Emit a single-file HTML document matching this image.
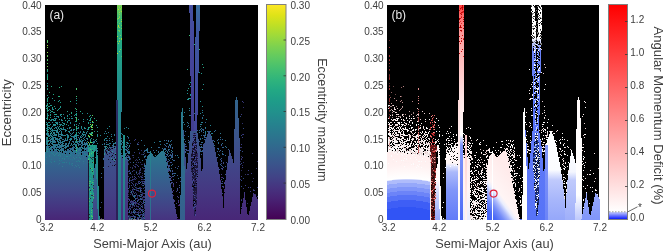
<!DOCTYPE html><html><head><meta charset="utf-8"><style>html,body{margin:0;padding:0;background:#fff;width:665px;height:252px;overflow:hidden}</style></head><body><svg width="665" height="252" viewBox="0 0 665 252" style="display:block;will-change:transform;font-family:'Liberation Sans',sans-serif"><defs><linearGradient id="ga_left" gradientUnits="userSpaceOnUse" x1="0.00" y1="0" x2="0.00" y2="252.00"><stop offset="0.0198" stop-color="#cde120"/><stop offset="0.1587" stop-color="#75cf54"/><stop offset="0.3175" stop-color="#2cb17e"/><stop offset="0.4365" stop-color="#20968b"/><stop offset="0.5159" stop-color="#25848e"/><stop offset="0.5952" stop-color="#2d718e"/><stop offset="0.6349" stop-color="#31688e"/><stop offset="0.6746" stop-color="#355e8d"/><stop offset="0.7143" stop-color="#3a548b"/><stop offset="0.7540" stop-color="#3f4a89"/><stop offset="0.7937" stop-color="#433e85"/><stop offset="0.8333" stop-color="#46327f"/><stop offset="0.8690" stop-color="#482777"/></linearGradient><linearGradient id="ga_s40" gradientUnits="userSpaceOnUse" x1="0.00" y1="0" x2="0.00" y2="252.00"><stop offset="0.5952" stop-color="#1e9c89"/><stop offset="0.8690" stop-color="#21918c"/></linearGradient><linearGradient id="ga_r3" gradientUnits="userSpaceOnUse" x1="0.00" y1="0" x2="0.00" y2="252.00"><stop offset="0.0198" stop-color="#f3e621"/><stop offset="0.1587" stop-color="#9bd93c"/><stop offset="0.3175" stop-color="#43bf70"/><stop offset="0.4365" stop-color="#21a486"/><stop offset="0.5159" stop-color="#21938c"/><stop offset="0.5952" stop-color="#27808e"/><stop offset="0.6349" stop-color="#2b778e"/><stop offset="0.6746" stop-color="#2e6d8e"/><stop offset="0.7143" stop-color="#33648d"/><stop offset="0.7540" stop-color="#375a8c"/><stop offset="0.7937" stop-color="#3c508a"/><stop offset="0.8333" stop-color="#404587"/><stop offset="0.8690" stop-color="#443a83"/></linearGradient><linearGradient id="ga_l99" gradientUnits="userSpaceOnUse" x1="0.00" y1="0" x2="0.00" y2="252.00"><stop offset="0.5952" stop-color="#21918c"/><stop offset="0.8690" stop-color="#25848e"/></linearGradient><linearGradient id="ga_r4" gradientUnits="userSpaceOnUse" x1="0.00" y1="0" x2="0.00" y2="252.00"><stop offset="0.0198" stop-color="#1f978a"/><stop offset="0.2381" stop-color="#277e8e"/><stop offset="0.3968" stop-color="#2f6d8e"/><stop offset="0.5159" stop-color="#355f8d"/><stop offset="0.5952" stop-color="#39568c"/><stop offset="0.6746" stop-color="#3e4c89"/><stop offset="0.7540" stop-color="#424286"/><stop offset="0.8333" stop-color="#453681"/><stop offset="0.8690" stop-color="#46317e"/></linearGradient><linearGradient id="ga_s1" gradientUnits="userSpaceOnUse" x1="0.00" y1="0" x2="0.00" y2="252.00"><stop offset="0.0198" stop-color="#7ad151"/><stop offset="0.0794" stop-color="#33b67a"/><stop offset="0.1786" stop-color="#22a884"/><stop offset="0.3175" stop-color="#21918c"/><stop offset="0.4365" stop-color="#25848e"/><stop offset="0.5952" stop-color="#26828e"/><stop offset="0.8690" stop-color="#2a788e"/></linearGradient><linearGradient id="ga_r5" gradientUnits="userSpaceOnUse" x1="0.00" y1="0" x2="0.00" y2="252.00"><stop offset="0.0198" stop-color="#20948b"/><stop offset="0.2381" stop-color="#287c8e"/><stop offset="0.3968" stop-color="#306a8e"/><stop offset="0.5159" stop-color="#365c8d"/><stop offset="0.5952" stop-color="#3a538b"/><stop offset="0.6746" stop-color="#3f4988"/><stop offset="0.7540" stop-color="#433e85"/><stop offset="0.8333" stop-color="#46337f"/><stop offset="0.8690" stop-color="#472e7c"/></linearGradient><linearGradient id="ga_r6" gradientUnits="userSpaceOnUse" x1="0.00" y1="0" x2="0.00" y2="252.00"><stop offset="0.0198" stop-color="#e7e41b"/><stop offset="0.1587" stop-color="#8ed644"/><stop offset="0.3175" stop-color="#3bba75"/><stop offset="0.4365" stop-color="#1f9f88"/><stop offset="0.5159" stop-color="#228e8c"/><stop offset="0.5952" stop-color="#297b8e"/><stop offset="0.6349" stop-color="#2d728e"/><stop offset="0.6746" stop-color="#31688e"/><stop offset="0.7143" stop-color="#355f8d"/><stop offset="0.7540" stop-color="#3a558b"/><stop offset="0.7937" stop-color="#3e4a89"/><stop offset="0.8333" stop-color="#433f85"/><stop offset="0.8690" stop-color="#463480"/></linearGradient><linearGradient id="ga_r7" gradientUnits="userSpaceOnUse" x1="0.00" y1="0" x2="0.00" y2="252.00"><stop offset="0.0198" stop-color="#21908c"/><stop offset="0.2381" stop-color="#2a778e"/><stop offset="0.3968" stop-color="#32658d"/><stop offset="0.5159" stop-color="#39578c"/><stop offset="0.5952" stop-color="#3d4e8a"/><stop offset="0.6746" stop-color="#414387"/><stop offset="0.7540" stop-color="#453882"/><stop offset="0.8333" stop-color="#472c7b"/><stop offset="0.8690" stop-color="#482777"/></linearGradient><linearGradient id="ga_r7b" gradientUnits="userSpaceOnUse" x1="0.00" y1="0" x2="0.00" y2="252.00"><stop offset="0.0198" stop-color="#20948b"/><stop offset="0.2381" stop-color="#287c8e"/><stop offset="0.3968" stop-color="#306a8e"/><stop offset="0.5159" stop-color="#365c8d"/><stop offset="0.5952" stop-color="#3a538b"/><stop offset="0.6746" stop-color="#3f4988"/><stop offset="0.7540" stop-color="#433e85"/><stop offset="0.8333" stop-color="#46337f"/><stop offset="0.8690" stop-color="#472e7c"/></linearGradient><linearGradient id="ga_r7v" gradientUnits="userSpaceOnUse" x1="0.00" y1="0" x2="0.00" y2="252.00"><stop offset="0.5357" stop-color="#141028"/><stop offset="0.7540" stop-color="#1c1638"/><stop offset="0.8690" stop-color="#2a2058"/></linearGradient><linearGradient id="ga_r8" gradientUnits="userSpaceOnUse" x1="0.00" y1="0" x2="0.00" y2="252.00"><stop offset="0.0198" stop-color="#21908c"/><stop offset="0.2381" stop-color="#2a778e"/><stop offset="0.3968" stop-color="#32658d"/><stop offset="0.5159" stop-color="#39578c"/><stop offset="0.5952" stop-color="#3d4e8a"/><stop offset="0.6746" stop-color="#414387"/><stop offset="0.7540" stop-color="#453882"/><stop offset="0.8333" stop-color="#472c7b"/><stop offset="0.8690" stop-color="#482777"/></linearGradient><linearGradient id="ga_r8l" gradientUnits="userSpaceOnUse" x1="0.00" y1="0" x2="0.00" y2="252.00"><stop offset="0.0198" stop-color="#21908c"/><stop offset="0.2381" stop-color="#2a778e"/><stop offset="0.3968" stop-color="#32658d"/><stop offset="0.5159" stop-color="#39578c"/><stop offset="0.5952" stop-color="#3d4e8a"/><stop offset="0.6746" stop-color="#414387"/><stop offset="0.7540" stop-color="#453882"/><stop offset="0.8333" stop-color="#472c7b"/><stop offset="0.8690" stop-color="#482777"/></linearGradient><linearGradient id="ga_r9" gradientUnits="userSpaceOnUse" x1="0.00" y1="0" x2="0.00" y2="252.00"><stop offset="0.0198" stop-color="#21908c"/><stop offset="0.2381" stop-color="#2a778e"/><stop offset="0.3968" stop-color="#32658d"/><stop offset="0.5159" stop-color="#39578c"/><stop offset="0.5952" stop-color="#3d4e8a"/><stop offset="0.6746" stop-color="#414387"/><stop offset="0.7540" stop-color="#453882"/><stop offset="0.8333" stop-color="#472c7b"/><stop offset="0.8690" stop-color="#482777"/></linearGradient><linearGradient id="ga_s2" gradientUnits="userSpaceOnUse" x1="0.00" y1="0" x2="0.00" y2="252.00"><stop offset="0.0198" stop-color="#21908c"/><stop offset="0.2381" stop-color="#2a778e"/><stop offset="0.3968" stop-color="#32658d"/><stop offset="0.5159" stop-color="#39578c"/><stop offset="0.5952" stop-color="#3d4e8a"/><stop offset="0.6746" stop-color="#414387"/><stop offset="0.7540" stop-color="#453882"/><stop offset="0.8333" stop-color="#472c7b"/><stop offset="0.8690" stop-color="#482777"/></linearGradient><linearGradient id="ga_spA" gradientUnits="userSpaceOnUse" x1="0.00" y1="0" x2="0.00" y2="252.00"><stop offset="0.0198" stop-color="#21908c"/><stop offset="0.2381" stop-color="#2a778e"/><stop offset="0.3968" stop-color="#32658d"/><stop offset="0.5159" stop-color="#39578c"/><stop offset="0.5952" stop-color="#3d4e8a"/><stop offset="0.6746" stop-color="#414387"/><stop offset="0.7540" stop-color="#453882"/><stop offset="0.8333" stop-color="#472c7b"/><stop offset="0.8690" stop-color="#482777"/></linearGradient><linearGradient id="ga_spB" gradientUnits="userSpaceOnUse" x1="0.00" y1="0" x2="0.00" y2="252.00"><stop offset="0.0198" stop-color="#21908c"/><stop offset="0.2381" stop-color="#2a778e"/><stop offset="0.3968" stop-color="#32658d"/><stop offset="0.5159" stop-color="#39578c"/><stop offset="0.5952" stop-color="#3d4e8a"/><stop offset="0.6746" stop-color="#414387"/><stop offset="0.7540" stop-color="#453882"/><stop offset="0.8333" stop-color="#472c7b"/><stop offset="0.8690" stop-color="#482777"/></linearGradient><linearGradient id="ga_st1" gradientUnits="userSpaceOnUse" x1="0.00" y1="0" x2="0.00" y2="252.00"><stop offset="0.0198" stop-color="#4650a0"/><stop offset="0.2381" stop-color="#44449a"/><stop offset="0.5198" stop-color="#433e90"/></linearGradient><linearGradient id="ga_st2" gradientUnits="userSpaceOnUse" x1="0.00" y1="0" x2="0.00" y2="252.00"><stop offset="0.0198" stop-color="#3a70a0"/><stop offset="0.1190" stop-color="#3e58a0"/><stop offset="0.5198" stop-color="#43449a"/></linearGradient><linearGradient id="ga_d88" gradientUnits="userSpaceOnUse" x1="0.00" y1="0" x2="0.00" y2="252.00"><stop offset="0.6032" stop-color="#1a1530"/><stop offset="0.8690" stop-color="#1a1030"/></linearGradient><linearGradient id="ga_s1l" gradientUnits="userSpaceOnUse" x1="0.00" y1="0" x2="0.00" y2="252.00"><stop offset="0.3968" stop-color="#2a3068"/><stop offset="0.5952" stop-color="#2a2458"/><stop offset="0.8690" stop-color="#2c2058"/></linearGradient><linearGradient id="ga_l124" gradientUnits="userSpaceOnUse" x1="0.00" y1="0" x2="0.00" y2="252.00"><stop offset="0.5357" stop-color="#21918c"/><stop offset="0.8690" stop-color="#2a788e"/></linearGradient><linearGradient id="ga_l150" gradientUnits="userSpaceOnUse" x1="0.00" y1="0" x2="0.00" y2="252.00"><stop offset="0.5992" stop-color="#25848e"/><stop offset="0.8690" stop-color="#2f6c8e"/></linearGradient><linearGradient id="ga_l182" gradientUnits="userSpaceOnUse" x1="0.00" y1="0" x2="0.00" y2="252.00"><stop offset="0.4127" stop-color="#287d8e"/><stop offset="0.8690" stop-color="#355f8d"/></linearGradient><radialGradient id="gb_left" gradientUnits="userSpaceOnUse" cx="407.00" cy="290.00" r="170.00"><stop offset="0.0000" stop-color="#3154f5"/><stop offset="0.4412" stop-color="#3154f5"/><stop offset="0.4882" stop-color="#3154f5"/><stop offset="0.4882" stop-color="#3e5ef6"/><stop offset="0.5294" stop-color="#3e5ef6"/><stop offset="0.5294" stop-color="#5773f7"/><stop offset="0.5588" stop-color="#5773f7"/><stop offset="0.5588" stop-color="#6c84f8"/><stop offset="0.5823" stop-color="#6c84f8"/><stop offset="0.5824" stop-color="#8196f9"/><stop offset="0.6058" stop-color="#8196f9"/><stop offset="0.6059" stop-color="#96a8fa"/><stop offset="0.6294" stop-color="#96a8fa"/><stop offset="0.6294" stop-color="#afbcfb"/><stop offset="0.6499" stop-color="#afbcfb"/><stop offset="0.6500" stop-color="#cad3fc"/><stop offset="0.6559" stop-color="#ffffff"/><stop offset="0.7353" stop-color="#fff2f2"/><stop offset="0.8529" stop-color="#ffebeb"/><stop offset="1.0000" stop-color="#ffebeb"/></radialGradient><linearGradient id="gb_s40" gradientUnits="userSpaceOnUse" x1="0.00" y1="0" x2="0.00" y2="252.00"><stop offset="0.5952" stop-color="#501818"/><stop offset="0.8690" stop-color="#401010"/></linearGradient><linearGradient id="gb_r3" gradientUnits="userSpaceOnUse" x1="0.00" y1="0" x2="0.00" y2="252.00"><stop offset="0.5952" stop-color="#ffebeb"/><stop offset="0.7143" stop-color="#fffafa"/><stop offset="0.7738" stop-color="#cad3fc"/><stop offset="0.8690" stop-color="#96a8fa"/></linearGradient><linearGradient id="gb_l99" gradientUnits="userSpaceOnUse" x1="0.00" y1="0" x2="0.00" y2="252.00"><stop offset="0.5952" stop-color="#fffafa"/><stop offset="0.8690" stop-color="#ffffff"/></linearGradient><linearGradient id="gb_r4" gradientUnits="userSpaceOnUse" x1="0.00" y1="0" x2="0.00" y2="252.00"><stop offset="0.6468" stop-color="#fff7f7"/><stop offset="0.6587" stop-color="#e0e5fe"/><stop offset="0.6825" stop-color="#abb9fb"/><stop offset="0.7540" stop-color="#8196f9"/><stop offset="0.8690" stop-color="#627cf8"/></linearGradient><linearGradient id="gb_s1" gradientUnits="userSpaceOnUse" x1="0.00" y1="0" x2="0.00" y2="252.00"><stop offset="0.0198" stop-color="#ff4040"/><stop offset="0.0397" stop-color="#ff5252"/><stop offset="0.0714" stop-color="#ff7373"/><stop offset="0.1190" stop-color="#ff9494"/><stop offset="0.1984" stop-color="#ffb2b2"/><stop offset="0.2976" stop-color="#ffcccc"/><stop offset="0.3968" stop-color="#ffe6e6"/><stop offset="0.4960" stop-color="#fff5f5"/><stop offset="0.5357" stop-color="#ffffff"/><stop offset="0.5754" stop-color="#8196f9"/><stop offset="0.8690" stop-color="#4c6af6"/></linearGradient><linearGradient id="gb_r5" gradientUnits="userSpaceOnUse" x1="0.00" y1="0" x2="0.00" y2="252.00"><stop offset="0.5952" stop-color="#ffebeb"/><stop offset="0.7540" stop-color="#fff5f5"/><stop offset="0.8690" stop-color="#eaeefe"/></linearGradient><linearGradient id="gb_r6" gradientUnits="userSpaceOnUse" x1="492.00" y1="0" x2="371.47" y2="89.28"><stop offset="0.5952" stop-color="#ffebeb"/><stop offset="0.7262" stop-color="#fff5f5"/><stop offset="0.7500" stop-color="#eaeefe"/><stop offset="0.7778" stop-color="#abb9fb"/><stop offset="0.8095" stop-color="#768df8"/><stop offset="0.8492" stop-color="#4c6af6"/><stop offset="0.9127" stop-color="#3859f6"/></linearGradient><linearGradient id="gb_r7" gradientUnits="userSpaceOnUse" x1="0.00" y1="0" x2="0.00" y2="252.00"><stop offset="0.4683" stop-color="#627cf8"/><stop offset="0.8690" stop-color="#5773f7"/></linearGradient><linearGradient id="gb_r7b" gradientUnits="userSpaceOnUse" x1="0.00" y1="0" x2="0.00" y2="252.00"><stop offset="0.4683" stop-color="#627cf8"/><stop offset="0.8690" stop-color="#5773f7"/></linearGradient><linearGradient id="gb_r7v" gradientUnits="userSpaceOnUse" x1="0.00" y1="0" x2="0.00" y2="252.00"><stop offset="0.5357" stop-color="#182868"/><stop offset="0.8690" stop-color="#182868"/></linearGradient><linearGradient id="gb_r8" gradientUnits="userSpaceOnUse" x1="0.00" y1="0" x2="0.00" y2="252.00"><stop offset="0.5159" stop-color="#ffffff"/><stop offset="0.6746" stop-color="#fbfcff"/><stop offset="0.7143" stop-color="#c0cafc"/><stop offset="0.7937" stop-color="#a7b6fb"/><stop offset="0.8690" stop-color="#96a8fa"/></linearGradient><linearGradient id="gb_r8l" gradientUnits="userSpaceOnUse" x1="0.00" y1="0" x2="0.00" y2="252.00"><stop offset="0.5754" stop-color="#8196f9"/><stop offset="0.8690" stop-color="#6c84f8"/></linearGradient><linearGradient id="gb_r9" gradientUnits="userSpaceOnUse" x1="0.00" y1="0" x2="0.00" y2="252.00"><stop offset="0.5952" stop-color="#ffffff"/><stop offset="0.6825" stop-color="#f4f6fe"/><stop offset="0.7143" stop-color="#c0cafc"/><stop offset="0.8690" stop-color="#a0b0fa"/></linearGradient><linearGradient id="gb_s2" gradientUnits="userSpaceOnUse" x1="0.00" y1="0" x2="0.00" y2="252.00"><stop offset="0.3889" stop-color="#fffafa"/><stop offset="0.7738" stop-color="#ffffff"/><stop offset="0.8333" stop-color="#d5dcfd"/><stop offset="0.8690" stop-color="#c0cafc"/></linearGradient><linearGradient id="gb_spA" gradientUnits="userSpaceOnUse" x1="0.00" y1="0" x2="0.00" y2="252.00"><stop offset="0.7659" stop-color="#96a8fa"/><stop offset="0.8690" stop-color="#8196f9"/></linearGradient><linearGradient id="gb_spB" gradientUnits="userSpaceOnUse" x1="0.00" y1="0" x2="0.00" y2="252.00"><stop offset="0.7619" stop-color="#96a8fa"/><stop offset="0.8690" stop-color="#8196f9"/></linearGradient><linearGradient id="gb_st1" gradientUnits="userSpaceOnUse" x1="0.00" y1="0" x2="0.00" y2="252.00"><stop offset="0.0198" stop-color="#ffffff"/><stop offset="0.1508" stop-color="#ffffff"/><stop offset="0.1984" stop-color="#6c84f8"/><stop offset="0.4683" stop-color="#5773f7"/></linearGradient><linearGradient id="gb_st2" gradientUnits="userSpaceOnUse" x1="0.00" y1="0" x2="0.00" y2="252.00"><stop offset="0.0198" stop-color="#ffffff"/><stop offset="0.1508" stop-color="#ffffff"/><stop offset="0.1984" stop-color="#6c84f8"/><stop offset="0.4683" stop-color="#5773f7"/></linearGradient><linearGradient id="gb_d88" gradientUnits="userSpaceOnUse" x1="0.00" y1="0" x2="0.00" y2="252.00"><stop offset="0.6032" stop-color="#f0e8e8"/><stop offset="0.8690" stop-color="#f8f0f0"/></linearGradient><linearGradient id="gb_s1l" gradientUnits="userSpaceOnUse" x1="0.00" y1="0" x2="0.00" y2="252.00"><stop offset="0.3770" stop-color="#ffd9d9"/><stop offset="0.5952" stop-color="#fff2f2"/><stop offset="0.8690" stop-color="#ffffff"/></linearGradient><linearGradient id="gb_l124" gradientUnits="userSpaceOnUse" x1="0.00" y1="0" x2="0.00" y2="252.00"><stop offset="0.5357" stop-color="#ffcccc"/><stop offset="0.8690" stop-color="#fff2f2"/></linearGradient><linearGradient id="gb_l150" gradientUnits="userSpaceOnUse" x1="0.00" y1="0" x2="0.00" y2="252.00"><stop offset="0.5992" stop-color="#ffffff"/><stop offset="0.8690" stop-color="#ffffff"/></linearGradient><linearGradient id="gb_l182" gradientUnits="userSpaceOnUse" x1="0.00" y1="0" x2="0.00" y2="252.00"><stop offset="0.4127" stop-color="#ffffff"/><stop offset="0.8690" stop-color="#ffffff"/></linearGradient><linearGradient id="cbA" x1="0" y1="0" x2="0" y2="1"><stop offset="0.000" stop-color="#fde725"/><stop offset="0.050" stop-color="#dfe318"/><stop offset="0.100" stop-color="#bddf26"/><stop offset="0.150" stop-color="#9bd93c"/><stop offset="0.200" stop-color="#7ad151"/><stop offset="0.250" stop-color="#5ec962"/><stop offset="0.300" stop-color="#44bf70"/><stop offset="0.350" stop-color="#2fb47c"/><stop offset="0.400" stop-color="#22a884"/><stop offset="0.450" stop-color="#1e9c89"/><stop offset="0.500" stop-color="#21918c"/><stop offset="0.550" stop-color="#25848e"/><stop offset="0.600" stop-color="#2a788e"/><stop offset="0.650" stop-color="#2f6c8e"/><stop offset="0.700" stop-color="#355f8d"/><stop offset="0.750" stop-color="#3b528b"/><stop offset="0.800" stop-color="#414487"/><stop offset="0.850" stop-color="#463480"/><stop offset="0.900" stop-color="#482475"/><stop offset="0.950" stop-color="#471365"/><stop offset="1.000" stop-color="#440154"/></linearGradient><linearGradient id="cbB" gradientUnits="userSpaceOnUse" x1="0" y1="5" x2="0" y2="212"><stop offset="0" stop-color="#ff0000"/><stop offset="1" stop-color="#ffffff"/></linearGradient><linearGradient id="cbB2" gradientUnits="userSpaceOnUse" x1="0" y1="212" x2="0" y2="219.5"><stop offset="0" stop-color="#c8d0ff"/><stop offset="1" stop-color="#0010ff"/></linearGradient></defs><rect width="665" height="252" fill="#fff"/><rect x="45" y="5" width="213" height="214.5" fill="#000"/><path fill="url(#ga_left)" d="M45 152h1v68h-1zM46 152h1v68h-1zM47 152h1v68h-1zM48 152h1v68h-1zM49 152h1v68h-1zM50 152h1v68h-1zM51 152h1v68h-1zM52 152h1v68h-1zM53 153h1v67h-1zM54 153h1v67h-1zM55 153h1v67h-1zM56 153h1v67h-1zM57 153h1v67h-1zM58 153h1v67h-1zM59 153h1v67h-1zM60 153h1v67h-1zM61 153h1v67h-1zM62 153h1v67h-1zM63 153h1v67h-1zM64 154h1v66h-1zM65 154h1v66h-1zM66 154h1v66h-1zM67 154h1v66h-1zM68 154h1v66h-1zM69 154h1v66h-1zM70 154h1v66h-1zM71 155h1v65h-1zM72 155h1v65h-1zM73 155h1v65h-1zM74 155h1v65h-1zM75 155h1v65h-1zM76 155h1v65h-1zM77 156h1v64h-1zM78 156h1v64h-1zM79 156h1v64h-1zM80 156h1v64h-1zM81 156h1v64h-1zM82 157h1v63h-1zM83 157h1v63h-1zM84 157h1v63h-1zM85 157h1v63h-1zM86 158h1v62h-1zM87 158h1v62h-1z"/><path fill="url(#ga_s40)" d="M88 145h1v7h-1zM89 145h1v75h-1zM90 145h1v75h-1zM91 145h1v75h-1zM92 145h1v75h-1zM93 145h1v31h-1zM94 145h1v6h-1z"/><path fill="url(#ga_r3)" d="M93 176h1v44h-1zM94 168h1v52h-1zM95 164h1v56h-1zM96 179h1v41h-1zM97 209h1v11h-1z"/><path fill="url(#ga_l99)" d="M95 145h1v4h-1zM96 145h1v34h-1zM97 156h1v53h-1zM98 186h1v34h-1zM99 216h1v4h-1z"/><path fill="url(#ga_r4)" d="M104 152h1v68h-1zM105 151h1v69h-1zM106 150h1v70h-1zM107 150h1v70h-1zM108 149h1v71h-1zM109 148h1v72h-1zM110 148h1v72h-1zM111 147h1v73h-1zM112 147h1v73h-1zM113 147h1v73h-1zM114 146h1v74h-1zM115 146h1v74h-1z"/><path fill="url(#ga_s1)" d="M117 5h1v95h-1zM118 5h1v215h-1zM119 5h1v215h-1zM120 5h1v215h-1zM121 5h1v107h-1z"/><path fill="url(#ga_r5)" d="M121 158h1v62h-1zM122 158h1v62h-1zM125 159h1v61h-1zM126 160h1v60h-1zM127 160h1v60h-1z"/><path fill="url(#ga_r6)" d="M145 165h1v55h-1zM146 159h1v61h-1zM147 156h1v64h-1zM148 155h1v65h-1zM149 154h1v66h-1zM151 153h1v67h-1zM152 154h1v66h-1zM153 156h1v64h-1zM154 157h1v63h-1zM155 157h1v63h-1zM156 156h1v64h-1zM157 155h1v65h-1zM158 154h1v66h-1zM159 153h1v67h-1zM160 152h1v68h-1zM161 151h1v69h-1zM162 151h1v69h-1zM163 150h1v70h-1zM164 152h1v68h-1zM165 157h1v63h-1zM166 162h1v58h-1zM167 168h1v52h-1zM168 173h1v47h-1zM169 178h1v42h-1zM170 183h1v37h-1zM171 188h1v32h-1zM172 194h1v26h-1zM173 199h1v21h-1zM174 204h1v16h-1zM175 209h1v11h-1zM176 214h1v6h-1zM177 219h1v1h-1z"/><path fill="url(#ga_r7)" d="M178 219h1v1h-1zM179 219h1v1h-1zM185 173h1v47h-1zM186 169h1v1h-1zM186 172h1v48h-1zM187 163h1v57h-1zM188 153h1v67h-1zM189 141h1v79h-1zM190 131h1v89h-1zM191 131h1v22h-1zM191 172h1v48h-1zM192 131h1v11h-1zM192 190h1v30h-1zM193 131h1v2h-1zM193 209h1v11h-1zM194 131h1v2h-1zM194 216h1v4h-1zM195 131h1v2h-1zM195 216h1v4h-1zM196 131h1v11h-1zM196 205h1v15h-1zM197 133h1v20h-1zM197 177h1v43h-1zM198 140h1v80h-1zM199 146h1v74h-1zM200 158h1v62h-1zM201 171h1v49h-1zM202 169h1v51h-1z"/><path fill="url(#ga_r7b)" d="M183 130h1v7h-1zM184 143h1v23h-1zM185 157h1v16h-1zM186 170h1v2h-1z"/><path fill="url(#ga_r7v)" d="M191 153h1v19h-1zM192 142h1v48h-1zM193 133h1v76h-1zM194 133h1v83h-1zM195 133h1v83h-1zM196 142h1v63h-1zM197 153h1v24h-1z"/><path fill="url(#ga_r8)" d="M204 143h1v2h-1zM205 139h1v6h-1zM206 137h1v83h-1zM207 134h1v86h-1zM208 131h1v89h-1zM209 131h1v89h-1zM210 134h1v86h-1zM211 137h1v83h-1zM212 140h1v80h-1zM213 143h1v77h-1zM214 147h1v73h-1zM215 152h1v68h-1zM216 157h1v63h-1zM217 162h1v58h-1zM218 168h1v52h-1zM219 174h1v46h-1zM220 181h1v39h-1zM221 189h1v31h-1zM222 199h1v21h-1z"/><path fill="url(#ga_r8l)" d="M203 145h1v75h-1zM204 145h1v75h-1zM205 145h1v75h-1z"/><path fill="url(#ga_r9)" d="M223 208h1v12h-1zM224 194h1v26h-1zM225 180h1v40h-1zM226 171h1v49h-1zM227 163h1v57h-1zM228 156h1v64h-1zM229 150h1v70h-1zM230 153h1v67h-1zM231 156h1v64h-1zM232 159h1v61h-1zM233 163h1v40h-1z"/><path fill="url(#ga_s2)" d="M233 203h1v17h-1zM234 129h1v91h-1zM235 100h1v120h-1zM236 97h1v123h-1zM237 100h1v120h-1zM238 118h1v102h-1zM239 138h1v81h-1z"/><path fill="url(#ga_spA)" d="M239 219h1v1h-1zM240 214h1v6h-1zM241 209h1v11h-1zM242 203h1v17h-1zM243 198h1v22h-1zM244 193h1v27h-1zM245 200h1v20h-1zM246 207h1v13h-1zM247 214h1v6h-1z"/><path fill="url(#ga_spB)" d="M248 215h1v5h-1zM249 211h1v9h-1zM250 206h1v14h-1zM251 202h1v18h-1zM252 197h1v23h-1zM253 193h1v27h-1zM254 194h1v26h-1zM255 195h1v25h-1zM256 197h1v23h-1zM257 199h1v21h-1z"/><path fill="url(#ga_st1)" d="M189 5h1v8h-1zM190 5h1v71h-1zM191 5h1v126h-1zM192 5h1v126h-1zM193 21h1v110h-1z"/><path fill="url(#ga_st2)" d="M194 121h1v10h-1zM195 37h1v94h-1zM196 5h1v126h-1zM197 5h1v110h-1zM198 5h1v68h-1zM199 5h1v26h-1z"/><path fill="url(#ga_d88)" d="M88 152h1v68h-1z"/><path fill="url(#ga_s1l)" d="M116 100h1v120h-1zM117 100h1v120h-1z"/><path fill="url(#ga_l124)" d="M123 135h1v85h-1zM124 135h1v85h-1z"/><path fill="url(#ga_l150)" d="M150 151h1v69h-1z"/><path fill="url(#ga_l182)" d="M180 195h1v25h-1zM181 112h1v108h-1zM182 108h1v112h-1zM183 137h1v83h-1zM184 166h1v54h-1z"/><path fill="#24a884" d="M51 86h1v1h-1zM53 94h1v1h-1zM58 96h1v1h-1zM47 105h1v1h-1zM48 106h1v1h-1zM52 107h1v1h-1zM46 108h1v1h-1zM52 111h1v1h-1zM55 114h1v1h-1zM61 114h1v1h-1zM47 118h1v1h-1zM47 131h1v1h-1zM47 138h1v1h-1zM47 141h1v1h-1zM47 149h1v1h-1zM70 101h1v1h-1zM75 108h1v1h-1zM80 111h1v1h-1zM71 112h1v1h-1zM71 113h1v1h-1zM47 70h1v1h-1zM47 76h1v1h-1zM47 77h1v1h-1zM47 78h1v1h-1zM47 86h1v1h-1zM47 89h1v1h-1zM47 98h1v1h-1zM47 101h1v1h-1zM47 104h1v1h-1zM47 108h1v1h-1zM47 117h1v1h-1zM90 118h1v1h-1zM92 122h1v1h-1zM91 125h1v1h-1zM88 127h1v1h-1zM89 127h1v1h-1zM91 132h1v1h-1zM89 133h1v1h-1zM90 140h1v1h-1zM90 141h1v1h-1zM90 145h1v1h-1zM92 145h1v1h-1zM94 145h1v1h-1zM94 147h1v1h-1zM91 149h1v1h-1zM94 149h1v1h-1zM94 150h1v1h-1zM91 151h1v1h-1zM92 151h1v1h-1zM93 151h1v1h-1zM91 152h1v1h-1zM92 152h1v1h-1zM91 154h1v1h-1zM88 156h1v1h-1zM88 158h1v1h-1zM89 158h1v1h-1zM89 159h1v1h-1zM89 161h1v1h-1zM89 162h1v1h-1zM89 165h1v1h-1zM90 165h1v1h-1zM91 166h1v1h-1zM90 167h1v1h-1zM92 168h1v1h-1zM91 170h1v1h-1zM93 171h1v1h-1zM91 172h1v1h-1zM93 172h1v1h-1zM92 173h1v1h-1zM90 178h1v1h-1zM93 180h1v1h-1zM93 182h1v1h-1zM90 183h1v1h-1zM93 184h1v1h-1zM93 189h1v1h-1zM89 190h1v1h-1zM90 191h1v1h-1zM92 191h1v1h-1zM90 192h1v1h-1zM91 193h1v1h-1zM93 193h1v1h-1zM91 196h1v1h-1zM93 198h1v1h-1zM92 199h1v1h-1zM92 200h1v1h-1zM89 205h1v1h-1zM89 208h1v1h-1zM91 208h1v1h-1zM89 216h1v1h-1zM89 219h1v1h-1zM94 118h1v1h-1zM203 67h1v1h-1zM187 69h1v1h-1z"/><path fill="#249c84" d="M61 86h1v1h-1zM58 101h1v1h-1zM54 106h1v1h-1zM60 106h1v1h-1zM50 110h1v1h-1zM57 110h1v1h-1zM56 114h1v1h-1zM67 111h1v1h-1zM47 99h1v1h-1zM47 110h1v1h-1zM47 111h1v1h-1zM96 120h1v1h-1zM202 64h1v1h-1zM188 88h1v1h-1z"/><path fill="#30b478" d="M59 87h1v1h-1zM49 92h1v1h-1zM59 96h1v1h-1zM194 44h1v1h-1zM199 49h1v1h-1z"/><path fill="#189c84" d="M48 97h1v1h-1zM60 102h1v1h-1zM49 103h1v1h-1zM51 105h1v1h-1zM58 109h1v1h-1zM50 114h1v1h-1zM48 115h1v1h-1zM50 117h1v1h-1zM51 119h1v1h-1zM49 122h1v1h-1zM47 144h1v1h-1zM75 114h1v1h-1zM74 115h1v1h-1zM76 134h1v1h-1zM76 142h1v1h-1zM47 74h1v1h-1zM47 75h1v1h-1zM47 100h1v1h-1zM76 100h1v1h-1zM76 113h1v1h-1zM76 121h1v1h-1zM76 127h1v1h-1zM76 130h1v1h-1zM76 132h1v1h-1zM76 133h1v1h-1zM76 149h1v1h-1zM76 151h1v1h-1zM89 116h1v1h-1zM90 119h1v1h-1zM89 120h1v1h-1zM90 120h1v1h-1zM88 123h1v1h-1zM90 126h1v1h-1zM88 128h1v1h-1zM92 133h1v1h-1zM91 135h1v1h-1zM88 136h1v1h-1zM89 137h1v1h-1zM92 142h1v1h-1zM199 72h1v1h-1zM190 82h1v1h-1zM190 94h1v1h-1z"/><path fill="#249090" d="M52 98h1v1h-1zM54 100h1v1h-1zM59 100h1v1h-1zM47 103h1v1h-1zM46 105h1v1h-1zM50 105h1v1h-1zM49 106h1v1h-1zM60 107h1v1h-1zM59 108h1v1h-1zM49 109h1v1h-1zM53 109h1v1h-1zM51 111h1v1h-1zM53 112h1v1h-1zM54 112h1v1h-1zM47 113h1v1h-1zM54 114h1v1h-1zM47 115h1v1h-1zM50 115h1v1h-1zM58 116h1v1h-1zM46 118h1v1h-1zM49 119h1v1h-1zM53 119h1v1h-1zM55 119h1v1h-1zM50 120h1v1h-1zM53 120h1v1h-1zM61 120h1v1h-1zM46 122h1v1h-1zM55 122h1v1h-1zM54 124h1v1h-1zM55 124h1v1h-1zM61 124h1v1h-1zM47 125h1v1h-1zM48 125h1v1h-1zM49 125h1v1h-1zM55 125h1v1h-1zM47 126h1v1h-1zM52 126h1v1h-1zM47 127h1v1h-1zM48 127h1v1h-1zM55 127h1v1h-1zM46 128h1v1h-1zM54 128h1v1h-1zM58 128h1v1h-1zM60 128h1v1h-1zM47 129h1v1h-1zM48 129h1v1h-1zM50 129h1v1h-1zM52 129h1v1h-1zM57 129h1v1h-1zM59 129h1v1h-1zM47 130h1v1h-1zM55 130h1v1h-1zM48 131h1v1h-1zM50 131h1v1h-1zM57 131h1v1h-1zM53 132h1v1h-1zM50 133h1v1h-1zM51 133h1v1h-1zM58 133h1v1h-1zM56 134h1v1h-1zM61 134h1v1h-1zM48 135h1v1h-1zM49 136h1v1h-1zM55 137h1v1h-1zM47 143h1v1h-1zM82 113h1v1h-1zM76 114h1v1h-1zM67 115h1v1h-1zM76 115h1v1h-1zM67 116h1v1h-1zM75 117h1v1h-1zM67 118h1v1h-1zM69 118h1v1h-1zM78 119h1v1h-1zM83 119h1v1h-1zM67 121h1v1h-1zM83 121h1v1h-1zM64 123h1v1h-1zM64 124h1v1h-1zM62 125h1v1h-1zM74 125h1v1h-1zM81 126h1v1h-1zM78 127h1v1h-1zM81 127h1v1h-1zM84 127h1v1h-1zM84 128h1v1h-1zM85 128h1v1h-1zM63 129h1v1h-1zM74 129h1v1h-1zM66 130h1v1h-1zM69 131h1v1h-1zM83 131h1v1h-1zM87 131h1v1h-1zM78 132h1v1h-1zM84 132h1v1h-1zM82 134h1v1h-1zM65 135h1v1h-1zM70 135h1v1h-1zM75 135h1v1h-1zM83 135h1v1h-1zM71 136h1v1h-1zM74 136h1v1h-1zM87 138h1v1h-1zM67 139h1v1h-1zM71 139h1v1h-1zM76 141h1v1h-1zM76 145h1v1h-1zM76 146h1v1h-1zM76 148h1v1h-1zM76 152h1v1h-1zM47 71h1v1h-1zM47 83h1v1h-1zM47 85h1v1h-1zM47 88h1v1h-1zM47 109h1v1h-1zM47 114h1v1h-1zM47 116h1v1h-1zM47 119h1v1h-1zM47 123h1v1h-1zM47 124h1v1h-1zM47 128h1v1h-1zM47 132h1v1h-1zM47 133h1v1h-1zM76 98h1v1h-1zM76 103h1v1h-1zM76 111h1v1h-1zM76 135h1v1h-1zM76 137h1v1h-1zM76 138h1v1h-1zM90 115h1v1h-1zM91 117h1v1h-1zM88 122h1v1h-1zM90 122h1v1h-1zM88 129h1v1h-1zM91 129h1v1h-1zM90 133h1v1h-1zM91 133h1v1h-1zM91 138h1v1h-1zM90 139h1v1h-1zM89 143h1v1h-1zM92 144h1v1h-1zM97 127h1v1h-1zM97 131h1v1h-1zM97 134h1v1h-1zM97 135h1v1h-1zM96 139h1v1h-1zM95 140h1v1h-1zM97 143h1v1h-1zM109 126h1v1h-1zM200 101h1v1h-1zM202 106h1v1h-1zM203 84h1v1h-1zM187 90h1v1h-1zM187 93h1v1h-1zM188 98h1v1h-1zM187 99h1v1h-1zM188 99h1v1h-1zM206 119h1v1h-1zM205 127h1v1h-1z"/><path fill="#249c90" d="M46 106h1v1h-1zM52 108h1v1h-1zM55 108h1v1h-1zM48 110h1v1h-1zM50 112h1v1h-1zM59 119h1v1h-1zM54 120h1v1h-1zM56 123h1v1h-1zM57 123h1v1h-1zM46 124h1v1h-1zM53 124h1v1h-1zM59 126h1v1h-1zM47 148h1v1h-1zM64 118h1v1h-1zM65 120h1v1h-1zM63 123h1v1h-1zM66 124h1v1h-1zM70 127h1v1h-1zM47 95h1v1h-1zM47 107h1v1h-1zM93 122h1v1h-1zM201 73h1v1h-1zM189 84h1v1h-1zM202 89h1v1h-1zM189 98h1v1h-1z"/><path fill="#248490" d="M52 109h1v1h-1zM60 114h1v1h-1zM60 115h1v1h-1zM54 116h1v1h-1zM56 116h1v1h-1zM57 116h1v1h-1zM61 116h1v1h-1zM58 117h1v1h-1zM54 118h1v1h-1zM55 118h1v1h-1zM56 118h1v1h-1zM52 119h1v1h-1zM61 119h1v1h-1zM51 120h1v1h-1zM55 120h1v1h-1zM48 122h1v1h-1zM52 122h1v1h-1zM56 122h1v1h-1zM57 122h1v1h-1zM59 122h1v1h-1zM50 124h1v1h-1zM57 124h1v1h-1zM59 124h1v1h-1zM60 124h1v1h-1zM53 125h1v1h-1zM54 125h1v1h-1zM60 125h1v1h-1zM49 127h1v1h-1zM58 127h1v1h-1zM49 128h1v1h-1zM50 128h1v1h-1zM51 128h1v1h-1zM56 128h1v1h-1zM61 128h1v1h-1zM61 129h1v1h-1zM46 130h1v1h-1zM51 130h1v1h-1zM52 130h1v1h-1zM54 130h1v1h-1zM56 130h1v1h-1zM57 130h1v1h-1zM52 131h1v1h-1zM56 131h1v1h-1zM51 132h1v1h-1zM56 132h1v1h-1zM48 133h1v1h-1zM53 133h1v1h-1zM54 133h1v1h-1zM61 133h1v1h-1zM47 134h1v1h-1zM50 134h1v1h-1zM54 134h1v1h-1zM51 135h1v1h-1zM53 135h1v1h-1zM56 135h1v1h-1zM48 136h1v1h-1zM51 136h1v1h-1zM58 136h1v1h-1zM60 136h1v1h-1zM50 137h1v1h-1zM51 138h1v1h-1zM52 138h1v1h-1zM57 138h1v1h-1zM52 139h1v1h-1zM53 139h1v1h-1zM55 139h1v1h-1zM48 140h1v1h-1zM57 140h1v1h-1zM46 141h1v1h-1zM48 141h1v1h-1zM51 141h1v1h-1zM52 141h1v1h-1zM54 141h1v1h-1zM50 142h1v1h-1zM53 142h1v1h-1zM59 142h1v1h-1zM61 142h1v1h-1zM46 143h1v1h-1zM52 143h1v1h-1zM58 143h1v1h-1zM49 144h1v1h-1zM53 144h1v1h-1zM56 145h1v1h-1zM47 146h1v1h-1zM51 146h1v1h-1zM54 146h1v1h-1zM55 146h1v1h-1zM57 146h1v1h-1zM50 147h1v1h-1zM51 147h1v1h-1zM49 148h1v1h-1zM54 149h1v1h-1zM55 149h1v1h-1zM51 150h1v1h-1zM59 150h1v1h-1zM61 150h1v1h-1zM46 151h1v1h-1zM47 151h1v1h-1zM87 113h1v1h-1zM63 114h1v1h-1zM69 114h1v1h-1zM71 116h1v1h-1zM64 117h1v1h-1zM71 118h1v1h-1zM72 118h1v1h-1zM87 119h1v1h-1zM62 120h1v1h-1zM68 120h1v1h-1zM69 120h1v1h-1zM75 121h1v1h-1zM62 122h1v1h-1zM67 122h1v1h-1zM70 122h1v1h-1zM79 123h1v1h-1zM74 124h1v1h-1zM63 125h1v1h-1zM68 125h1v1h-1zM63 127h1v1h-1zM63 128h1v1h-1zM69 128h1v1h-1zM77 128h1v1h-1zM62 129h1v1h-1zM64 129h1v1h-1zM73 129h1v1h-1zM76 129h1v1h-1zM82 129h1v1h-1zM71 130h1v1h-1zM68 131h1v1h-1zM69 132h1v1h-1zM73 132h1v1h-1zM83 132h1v1h-1zM72 133h1v1h-1zM79 133h1v1h-1zM86 133h1v1h-1zM75 134h1v1h-1zM83 134h1v1h-1zM84 134h1v1h-1zM64 135h1v1h-1zM67 135h1v1h-1zM77 135h1v1h-1zM85 135h1v1h-1zM68 136h1v1h-1zM75 136h1v1h-1zM76 136h1v1h-1zM67 137h1v1h-1zM68 137h1v1h-1zM74 137h1v1h-1zM80 137h1v1h-1zM65 138h1v1h-1zM71 138h1v1h-1zM83 138h1v1h-1zM70 139h1v1h-1zM76 139h1v1h-1zM79 139h1v1h-1zM81 139h1v1h-1zM66 140h1v1h-1zM70 140h1v1h-1zM80 140h1v1h-1zM82 140h1v1h-1zM63 141h1v1h-1zM78 141h1v1h-1zM80 141h1v1h-1zM87 141h1v1h-1zM69 142h1v1h-1zM75 142h1v1h-1zM63 143h1v1h-1zM66 143h1v1h-1zM74 143h1v1h-1zM87 143h1v1h-1zM71 144h1v1h-1zM75 144h1v1h-1zM62 145h1v1h-1zM63 145h1v1h-1zM68 145h1v1h-1zM72 145h1v1h-1zM87 145h1v1h-1zM65 147h1v1h-1zM81 147h1v1h-1zM82 147h1v1h-1zM84 147h1v1h-1zM63 148h1v1h-1zM72 148h1v1h-1zM75 148h1v1h-1zM82 148h1v1h-1zM85 148h1v1h-1zM87 148h1v1h-1zM79 149h1v1h-1zM87 150h1v1h-1zM63 151h1v1h-1zM70 151h1v1h-1zM73 151h1v1h-1zM77 151h1v1h-1zM82 151h1v1h-1zM51 152h1v1h-1zM52 153h1v1h-1zM56 153h1v1h-1zM64 154h1v1h-1zM54 155h1v1h-1zM58 155h1v1h-1zM70 155h1v1h-1zM66 156h1v1h-1zM67 156h1v1h-1zM76 157h1v1h-1zM79 157h1v1h-1zM62 158h1v1h-1zM64 158h1v1h-1zM54 161h1v1h-1zM79 161h1v1h-1zM88 147h1v1h-1zM91 147h1v1h-1zM92 147h1v1h-1zM93 150h1v1h-1zM90 151h1v1h-1zM88 155h1v1h-1zM88 157h1v1h-1zM89 160h1v1h-1zM90 162h1v1h-1zM93 170h1v1h-1zM90 174h1v1h-1zM89 176h1v1h-1zM91 177h1v1h-1zM90 179h1v1h-1zM93 183h1v1h-1zM89 184h1v1h-1zM92 187h1v1h-1zM91 189h1v1h-1zM89 191h1v1h-1zM93 192h1v1h-1zM93 194h1v1h-1zM91 198h1v1h-1zM92 198h1v1h-1zM90 201h1v1h-1zM91 201h1v1h-1zM90 206h1v1h-1zM91 206h1v1h-1zM90 208h1v1h-1zM92 209h1v1h-1zM90 210h1v1h-1zM96 125h1v1h-1zM94 131h1v1h-1zM97 136h1v1h-1zM93 139h1v1h-1zM93 141h1v1h-1zM96 141h1v1h-1zM97 150h1v1h-1zM100 135h1v1h-1zM107 128h1v1h-1zM104 133h1v1h-1zM106 133h1v1h-1zM107 136h1v1h-1zM111 136h1v1h-1zM105 138h1v1h-1zM106 138h1v1h-1zM104 139h1v1h-1zM104 140h1v1h-1zM113 143h1v1h-1zM115 143h1v1h-1zM106 144h1v1h-1zM126 127h1v1h-1zM124 128h1v1h-1zM128 128h1v1h-1zM122 134h1v1h-1zM127 136h1v1h-1zM121 141h1v1h-1zM127 142h1v1h-1zM160 141h1v1h-1zM189 108h1v1h-1zM200 113h1v1h-1zM190 86h1v1h-1zM190 95h1v1h-1zM201 122h1v1h-1zM210 125h1v1h-1zM205 131h1v1h-1zM210 131h1v1h-1zM212 133h1v1h-1zM211 136h1v1h-1z"/><path fill="#247890" d="M57 126h1v1h-1zM51 127h1v1h-1zM56 127h1v1h-1zM53 130h1v1h-1zM60 130h1v1h-1zM61 131h1v1h-1zM61 132h1v1h-1zM46 133h1v1h-1zM52 134h1v1h-1zM47 135h1v1h-1zM50 135h1v1h-1zM54 135h1v1h-1zM46 137h1v1h-1zM52 137h1v1h-1zM53 137h1v1h-1zM54 137h1v1h-1zM61 138h1v1h-1zM46 139h1v1h-1zM58 139h1v1h-1zM59 139h1v1h-1zM59 140h1v1h-1zM60 141h1v1h-1zM46 142h1v1h-1zM58 142h1v1h-1zM56 144h1v1h-1zM59 144h1v1h-1zM55 145h1v1h-1zM48 146h1v1h-1zM59 146h1v1h-1zM60 146h1v1h-1zM48 147h1v1h-1zM58 147h1v1h-1zM50 148h1v1h-1zM61 148h1v1h-1zM56 149h1v1h-1zM57 149h1v1h-1zM49 150h1v1h-1zM48 151h1v1h-1zM59 152h1v1h-1zM70 123h1v1h-1zM76 124h1v1h-1zM69 127h1v1h-1zM67 128h1v1h-1zM78 128h1v1h-1zM81 128h1v1h-1zM65 129h1v1h-1zM71 129h1v1h-1zM70 130h1v1h-1zM80 131h1v1h-1zM80 132h1v1h-1zM67 134h1v1h-1zM63 135h1v1h-1zM68 135h1v1h-1zM81 135h1v1h-1zM67 136h1v1h-1zM72 136h1v1h-1zM73 136h1v1h-1zM80 136h1v1h-1zM82 136h1v1h-1zM85 136h1v1h-1zM67 138h1v1h-1zM74 138h1v1h-1zM74 139h1v1h-1zM84 139h1v1h-1zM83 140h1v1h-1zM62 141h1v1h-1zM62 142h1v1h-1zM77 142h1v1h-1zM84 143h1v1h-1zM74 144h1v1h-1zM86 144h1v1h-1zM81 145h1v1h-1zM75 146h1v1h-1zM87 146h1v1h-1zM64 147h1v1h-1zM66 147h1v1h-1zM79 147h1v1h-1zM78 148h1v1h-1zM79 148h1v1h-1zM77 149h1v1h-1zM78 149h1v1h-1zM80 149h1v1h-1zM81 149h1v1h-1zM84 149h1v1h-1zM73 150h1v1h-1zM75 150h1v1h-1zM80 150h1v1h-1zM66 151h1v1h-1zM68 151h1v1h-1zM84 151h1v1h-1zM87 151h1v1h-1zM67 152h1v1h-1zM72 152h1v1h-1zM73 152h1v1h-1zM78 152h1v1h-1zM79 152h1v1h-1zM68 153h1v1h-1zM70 153h1v1h-1zM77 153h1v1h-1zM78 153h1v1h-1zM84 153h1v1h-1zM85 153h1v1h-1zM71 154h1v1h-1zM73 154h1v1h-1zM84 154h1v1h-1zM85 154h1v1h-1zM86 154h1v1h-1zM82 155h1v1h-1zM45 154h1v1h-1zM60 154h1v1h-1zM45 156h1v1h-1zM64 156h1v1h-1zM69 156h1v1h-1zM71 156h1v1h-1zM59 158h1v1h-1zM68 158h1v1h-1zM45 159h1v1h-1zM51 159h1v1h-1zM70 159h1v1h-1zM72 159h1v1h-1zM74 159h1v1h-1zM80 159h1v1h-1zM61 160h1v1h-1zM50 161h1v1h-1zM77 161h1v1h-1zM62 162h1v1h-1zM63 162h1v1h-1zM69 162h1v1h-1zM46 163h1v1h-1zM69 163h1v1h-1zM71 164h1v1h-1zM93 142h1v1h-1zM94 142h1v1h-1zM102 144h1v1h-1zM111 134h1v1h-1zM114 134h1v1h-1zM109 140h1v1h-1zM112 141h1v1h-1zM109 143h1v1h-1zM110 143h1v1h-1zM109 147h1v1h-1zM121 133h1v1h-1zM129 140h1v1h-1zM126 142h1v1h-1zM127 143h1v1h-1zM121 144h1v1h-1zM127 145h1v1h-1zM129 145h1v1h-1zM122 146h1v1h-1zM128 149h1v1h-1zM159 141h1v1h-1zM154 142h1v1h-1zM160 144h1v1h-1zM164 149h1v1h-1zM145 150h1v1h-1zM147 151h1v1h-1zM165 151h1v1h-1zM155 155h1v1h-1zM184 112h1v1h-1zM202 112h1v1h-1zM202 118h1v1h-1zM184 124h1v1h-1zM201 128h1v1h-1zM170 141h1v1h-1zM202 110h1v1h-1zM201 124h1v1h-1zM205 132h1v1h-1zM200 139h1v1h-1zM177 155h1v1h-1zM178 157h1v1h-1z"/><path fill="#307890" d="M59 131h1v1h-1zM54 132h1v1h-1zM57 132h1v1h-1zM58 132h1v1h-1zM46 134h1v1h-1zM48 134h1v1h-1zM55 134h1v1h-1zM58 134h1v1h-1zM59 134h1v1h-1zM60 134h1v1h-1zM55 135h1v1h-1zM58 135h1v1h-1zM61 135h1v1h-1zM52 136h1v1h-1zM59 136h1v1h-1zM46 138h1v1h-1zM49 138h1v1h-1zM53 138h1v1h-1zM55 138h1v1h-1zM56 138h1v1h-1zM59 138h1v1h-1zM60 138h1v1h-1zM47 139h1v1h-1zM50 139h1v1h-1zM51 139h1v1h-1zM57 139h1v1h-1zM47 140h1v1h-1zM49 140h1v1h-1zM54 140h1v1h-1zM60 140h1v1h-1zM53 141h1v1h-1zM57 141h1v1h-1zM58 141h1v1h-1zM49 143h1v1h-1zM52 144h1v1h-1zM54 144h1v1h-1zM58 144h1v1h-1zM61 144h1v1h-1zM53 145h1v1h-1zM60 145h1v1h-1zM61 146h1v1h-1zM60 147h1v1h-1zM46 148h1v1h-1zM56 148h1v1h-1zM59 148h1v1h-1zM48 149h1v1h-1zM50 149h1v1h-1zM61 149h1v1h-1zM47 150h1v1h-1zM58 150h1v1h-1zM59 151h1v1h-1zM61 151h1v1h-1zM53 152h1v1h-1zM57 152h1v1h-1zM60 152h1v1h-1zM78 125h1v1h-1zM87 129h1v1h-1zM65 130h1v1h-1zM73 130h1v1h-1zM65 131h1v1h-1zM86 132h1v1h-1zM70 133h1v1h-1zM82 133h1v1h-1zM62 135h1v1h-1zM74 135h1v1h-1zM78 135h1v1h-1zM81 137h1v1h-1zM70 138h1v1h-1zM75 138h1v1h-1zM86 138h1v1h-1zM65 139h1v1h-1zM87 139h1v1h-1zM79 140h1v1h-1zM85 140h1v1h-1zM69 141h1v1h-1zM75 141h1v1h-1zM79 141h1v1h-1zM81 141h1v1h-1zM82 141h1v1h-1zM79 142h1v1h-1zM81 142h1v1h-1zM86 142h1v1h-1zM71 143h1v1h-1zM77 143h1v1h-1zM81 143h1v1h-1zM82 143h1v1h-1zM86 143h1v1h-1zM62 144h1v1h-1zM65 144h1v1h-1zM73 144h1v1h-1zM83 144h1v1h-1zM84 144h1v1h-1zM85 144h1v1h-1zM64 145h1v1h-1zM67 145h1v1h-1zM70 145h1v1h-1zM75 145h1v1h-1zM78 145h1v1h-1zM62 146h1v1h-1zM65 146h1v1h-1zM66 146h1v1h-1zM67 146h1v1h-1zM74 147h1v1h-1zM77 147h1v1h-1zM65 148h1v1h-1zM77 148h1v1h-1zM80 148h1v1h-1zM86 148h1v1h-1zM67 149h1v1h-1zM85 149h1v1h-1zM63 150h1v1h-1zM78 150h1v1h-1zM79 150h1v1h-1zM64 151h1v1h-1zM75 152h1v1h-1zM80 152h1v1h-1zM82 152h1v1h-1zM71 153h1v1h-1zM74 153h1v1h-1zM79 153h1v1h-1zM76 154h1v1h-1zM80 154h1v1h-1zM78 155h1v1h-1zM80 155h1v1h-1zM81 155h1v1h-1zM85 155h1v1h-1zM87 155h1v1h-1zM83 156h1v1h-1zM53 154h1v1h-1zM55 154h1v1h-1zM59 154h1v1h-1zM62 154h1v1h-1zM49 155h1v1h-1zM60 155h1v1h-1zM49 156h1v1h-1zM60 156h1v1h-1zM46 157h1v1h-1zM73 157h1v1h-1zM74 158h1v1h-1zM80 158h1v1h-1zM64 159h1v1h-1zM59 160h1v1h-1zM78 160h1v1h-1zM76 161h1v1h-1zM83 161h1v1h-1zM51 162h1v1h-1zM64 162h1v1h-1zM66 162h1v1h-1zM59 163h1v1h-1zM72 163h1v1h-1zM72 165h1v1h-1zM75 165h1v1h-1zM78 165h1v1h-1zM62 166h1v1h-1zM76 166h1v1h-1zM79 167h1v1h-1zM97 148h1v1h-1zM94 151h1v1h-1zM97 155h1v1h-1zM95 157h1v1h-1zM103 167h1v1h-1zM108 132h1v1h-1zM112 139h1v1h-1zM115 142h1v1h-1zM104 143h1v1h-1zM108 144h1v1h-1zM113 144h1v1h-1zM112 145h1v1h-1zM104 146h1v1h-1zM104 149h1v1h-1zM105 149h1v1h-1zM104 150h1v1h-1zM125 146h1v1h-1zM129 146h1v1h-1zM128 152h1v1h-1zM129 152h1v1h-1zM128 153h1v1h-1zM129 153h1v1h-1zM121 155h1v1h-1zM144 145h1v1h-1zM151 147h1v1h-1zM147 148h1v1h-1zM147 149h1v1h-1zM144 151h1v1h-1zM158 151h1v1h-1zM154 152h1v1h-1zM144 156h1v1h-1zM190 98h1v1h-1zM189 110h1v1h-1zM189 115h1v1h-1zM203 115h1v1h-1zM183 116h1v1h-1zM183 122h1v1h-1zM187 122h1v1h-1zM202 122h1v1h-1zM200 124h1v1h-1zM200 126h1v1h-1zM199 130h1v1h-1zM205 133h1v1h-1zM168 141h1v1h-1zM170 145h1v1h-1zM168 149h1v1h-1zM171 150h1v1h-1zM172 151h1v1h-1zM167 152h1v1h-1zM167 154h1v1h-1zM220 133h1v1h-1zM214 141h1v1h-1zM211 133h1v1h-1zM172 154h1v1h-1zM225 140h1v1h-1zM225 146h1v1h-1z"/><path fill="#306c90" d="M49 135h1v1h-1zM60 137h1v1h-1zM61 137h1v1h-1zM56 139h1v1h-1zM46 140h1v1h-1zM50 140h1v1h-1zM52 140h1v1h-1zM53 140h1v1h-1zM50 141h1v1h-1zM55 141h1v1h-1zM47 142h1v1h-1zM52 142h1v1h-1zM54 142h1v1h-1zM55 142h1v1h-1zM60 142h1v1h-1zM51 143h1v1h-1zM60 143h1v1h-1zM46 144h1v1h-1zM48 144h1v1h-1zM55 144h1v1h-1zM57 144h1v1h-1zM47 145h1v1h-1zM50 145h1v1h-1zM54 145h1v1h-1zM57 145h1v1h-1zM59 145h1v1h-1zM61 145h1v1h-1zM46 146h1v1h-1zM49 146h1v1h-1zM52 146h1v1h-1zM46 147h1v1h-1zM47 147h1v1h-1zM52 147h1v1h-1zM53 147h1v1h-1zM54 147h1v1h-1zM55 147h1v1h-1zM56 147h1v1h-1zM57 147h1v1h-1zM59 147h1v1h-1zM53 148h1v1h-1zM46 149h1v1h-1zM49 149h1v1h-1zM51 149h1v1h-1zM52 149h1v1h-1zM58 149h1v1h-1zM60 149h1v1h-1zM46 150h1v1h-1zM52 150h1v1h-1zM54 150h1v1h-1zM55 150h1v1h-1zM56 150h1v1h-1zM60 150h1v1h-1zM49 151h1v1h-1zM51 151h1v1h-1zM53 151h1v1h-1zM54 151h1v1h-1zM56 151h1v1h-1zM54 152h1v1h-1zM55 152h1v1h-1zM56 152h1v1h-1zM58 152h1v1h-1zM62 134h1v1h-1zM66 134h1v1h-1zM71 134h1v1h-1zM85 134h1v1h-1zM73 137h1v1h-1zM78 137h1v1h-1zM84 137h1v1h-1zM79 138h1v1h-1zM62 139h1v1h-1zM63 139h1v1h-1zM69 139h1v1h-1zM77 139h1v1h-1zM64 140h1v1h-1zM65 140h1v1h-1zM67 140h1v1h-1zM64 141h1v1h-1zM72 141h1v1h-1zM73 141h1v1h-1zM77 141h1v1h-1zM73 142h1v1h-1zM82 142h1v1h-1zM84 142h1v1h-1zM62 143h1v1h-1zM65 143h1v1h-1zM68 143h1v1h-1zM69 143h1v1h-1zM78 143h1v1h-1zM85 143h1v1h-1zM66 144h1v1h-1zM68 144h1v1h-1zM76 144h1v1h-1zM78 144h1v1h-1zM79 144h1v1h-1zM80 144h1v1h-1zM82 144h1v1h-1zM87 144h1v1h-1zM65 145h1v1h-1zM82 145h1v1h-1zM85 145h1v1h-1zM63 146h1v1h-1zM68 146h1v1h-1zM73 146h1v1h-1zM81 146h1v1h-1zM84 146h1v1h-1zM80 147h1v1h-1zM87 147h1v1h-1zM62 148h1v1h-1zM70 148h1v1h-1zM83 148h1v1h-1zM84 148h1v1h-1zM62 149h1v1h-1zM68 149h1v1h-1zM70 149h1v1h-1zM72 149h1v1h-1zM73 149h1v1h-1zM62 150h1v1h-1zM65 150h1v1h-1zM69 150h1v1h-1zM70 150h1v1h-1zM72 150h1v1h-1zM74 150h1v1h-1zM65 151h1v1h-1zM69 151h1v1h-1zM74 151h1v1h-1zM78 151h1v1h-1zM80 151h1v1h-1zM85 151h1v1h-1zM86 151h1v1h-1zM63 152h1v1h-1zM65 152h1v1h-1zM66 152h1v1h-1zM68 152h1v1h-1zM70 152h1v1h-1zM71 152h1v1h-1zM74 152h1v1h-1zM83 152h1v1h-1zM84 152h1v1h-1zM66 153h1v1h-1zM80 153h1v1h-1zM87 153h1v1h-1zM72 154h1v1h-1zM77 154h1v1h-1zM78 154h1v1h-1zM79 154h1v1h-1zM83 154h1v1h-1zM87 154h1v1h-1zM77 155h1v1h-1zM79 155h1v1h-1zM83 155h1v1h-1zM84 156h1v1h-1zM46 155h1v1h-1zM48 155h1v1h-1zM73 156h1v1h-1zM72 160h1v1h-1zM60 161h1v1h-1zM87 162h1v1h-1zM71 163h1v1h-1zM83 163h1v1h-1zM58 164h1v1h-1zM69 164h1v1h-1zM77 164h1v1h-1zM74 167h1v1h-1zM194 113h1v1h-1zM94 141h1v1h-1zM93 143h1v1h-1zM95 149h1v1h-1zM95 150h1v1h-1zM97 153h1v1h-1zM103 158h1v1h-1zM105 131h1v1h-1zM114 135h1v1h-1zM109 138h1v1h-1zM106 140h1v1h-1zM114 143h1v1h-1zM107 144h1v1h-1zM109 145h1v1h-1zM107 147h1v1h-1zM105 148h1v1h-1zM104 151h1v1h-1zM128 137h1v1h-1zM121 138h1v1h-1zM121 140h1v1h-1zM122 142h1v1h-1zM126 144h1v1h-1zM126 146h1v1h-1zM121 149h1v1h-1zM125 149h1v1h-1zM127 151h1v1h-1zM129 151h1v1h-1zM125 154h1v1h-1zM125 155h1v1h-1zM122 156h1v1h-1zM127 157h1v1h-1zM128 157h1v1h-1zM129 157h1v1h-1zM125 158h1v1h-1zM126 159h1v1h-1zM141 140h1v1h-1zM137 144h1v1h-1zM138 149h1v1h-1zM143 154h1v1h-1zM139 159h1v1h-1zM142 160h1v1h-1zM133 162h1v1h-1zM136 172h1v1h-1zM130 173h1v1h-1zM129 180h1v1h-1zM140 182h1v1h-1zM139 183h1v1h-1zM143 183h1v1h-1zM135 185h1v1h-1zM143 185h1v1h-1zM128 188h1v1h-1zM138 188h1v1h-1zM134 189h1v1h-1zM140 190h1v1h-1zM131 191h1v1h-1zM140 191h1v1h-1zM131 192h1v1h-1zM132 194h1v1h-1zM141 194h1v1h-1zM134 195h1v1h-1zM135 195h1v1h-1zM139 195h1v1h-1zM133 196h1v1h-1zM134 196h1v1h-1zM140 196h1v1h-1zM134 197h1v1h-1zM135 198h1v1h-1zM140 198h1v1h-1zM141 199h1v1h-1zM134 200h1v1h-1zM137 201h1v1h-1zM143 201h1v1h-1zM144 202h1v1h-1zM133 203h1v1h-1zM130 204h1v1h-1zM132 204h1v1h-1zM133 204h1v1h-1zM144 204h1v1h-1zM141 206h1v1h-1zM139 208h1v1h-1zM135 209h1v1h-1zM134 210h1v1h-1zM141 210h1v1h-1zM129 211h1v1h-1zM133 211h1v1h-1zM143 211h1v1h-1zM129 212h1v1h-1zM133 212h1v1h-1zM134 212h1v1h-1zM143 213h1v1h-1zM137 214h1v1h-1zM138 215h1v1h-1zM139 215h1v1h-1zM143 215h1v1h-1zM128 216h1v1h-1zM134 216h1v1h-1zM139 216h1v1h-1zM143 217h1v1h-1zM129 218h1v1h-1zM131 218h1v1h-1zM132 218h1v1h-1zM134 218h1v1h-1zM138 218h1v1h-1zM144 218h1v1h-1zM130 219h1v1h-1zM141 219h1v1h-1zM158 147h1v1h-1zM162 148h1v1h-1zM146 149h1v1h-1zM146 150h1v1h-1zM147 150h1v1h-1zM156 150h1v1h-1zM148 152h1v1h-1zM149 152h1v1h-1zM158 152h1v1h-1zM145 156h1v1h-1zM144 165h1v1h-1zM144 173h1v1h-1zM188 123h1v1h-1zM188 125h1v1h-1zM187 126h1v1h-1zM200 129h1v1h-1zM203 130h1v1h-1zM199 132h1v1h-1zM205 135h1v1h-1zM188 136h1v1h-1zM184 139h1v1h-1zM188 142h1v1h-1zM164 140h1v1h-1zM166 143h1v1h-1zM167 143h1v1h-1zM169 144h1v1h-1zM165 145h1v1h-1zM169 145h1v1h-1zM172 147h1v1h-1zM165 149h1v1h-1zM168 150h1v1h-1zM167 151h1v1h-1zM171 152h1v1h-1zM168 153h1v1h-1zM171 157h1v1h-1zM172 157h1v1h-1zM169 160h1v1h-1zM167 163h1v1h-1zM171 165h1v1h-1zM214 131h1v1h-1zM220 137h1v1h-1zM218 139h1v1h-1zM218 142h1v1h-1zM218 143h1v1h-1zM222 143h1v1h-1zM214 145h1v1h-1zM222 153h1v1h-1zM219 155h1v1h-1zM207 131h1v1h-1zM204 135h1v1h-1zM202 138h1v1h-1zM201 142h1v1h-1zM201 146h1v1h-1zM200 147h1v1h-1zM201 151h1v1h-1zM175 155h1v1h-1zM166 156h1v1h-1zM169 168h1v1h-1zM168 169h1v1h-1zM170 170h1v1h-1zM175 173h1v1h-1zM174 175h1v1h-1zM178 178h1v1h-1zM221 144h1v1h-1zM226 147h1v1h-1zM222 151h1v1h-1zM225 155h1v1h-1z"/><path fill="#306090" d="M53 146h1v1h-1zM58 146h1v1h-1zM61 147h1v1h-1zM48 148h1v1h-1zM51 148h1v1h-1zM54 148h1v1h-1zM48 150h1v1h-1zM50 151h1v1h-1zM52 151h1v1h-1zM55 151h1v1h-1zM57 151h1v1h-1zM61 152h1v1h-1zM72 147h1v1h-1zM73 147h1v1h-1zM86 147h1v1h-1zM69 148h1v1h-1zM71 148h1v1h-1zM73 148h1v1h-1zM63 149h1v1h-1zM71 149h1v1h-1zM86 149h1v1h-1zM87 149h1v1h-1zM67 150h1v1h-1zM68 150h1v1h-1zM77 150h1v1h-1zM81 150h1v1h-1zM84 150h1v1h-1zM86 150h1v1h-1zM67 151h1v1h-1zM71 151h1v1h-1zM75 151h1v1h-1zM79 151h1v1h-1zM83 151h1v1h-1zM64 152h1v1h-1zM69 152h1v1h-1zM77 152h1v1h-1zM81 152h1v1h-1zM85 152h1v1h-1zM86 152h1v1h-1zM87 152h1v1h-1zM64 153h1v1h-1zM67 153h1v1h-1zM72 153h1v1h-1zM73 153h1v1h-1zM76 153h1v1h-1zM82 153h1v1h-1zM83 153h1v1h-1zM86 153h1v1h-1zM74 154h1v1h-1zM75 154h1v1h-1zM82 154h1v1h-1zM84 155h1v1h-1zM86 155h1v1h-1zM82 156h1v1h-1zM85 156h1v1h-1zM86 157h1v1h-1zM87 157h1v1h-1zM97 151h1v1h-1zM103 159h1v1h-1zM101 173h1v1h-1zM107 140h1v1h-1zM106 142h1v1h-1zM104 144h1v1h-1zM113 145h1v1h-1zM110 147h1v1h-1zM108 148h1v1h-1zM121 143h1v1h-1zM128 143h1v1h-1zM122 147h1v1h-1zM126 147h1v1h-1zM128 147h1v1h-1zM127 148h1v1h-1zM126 149h1v1h-1zM126 150h1v1h-1zM128 151h1v1h-1zM127 152h1v1h-1zM125 153h1v1h-1zM126 153h1v1h-1zM127 155h1v1h-1zM126 158h1v1h-1zM129 158h1v1h-1zM127 159h1v1h-1zM128 160h1v1h-1zM144 157h1v1h-1zM144 171h1v1h-1zM144 179h1v1h-1zM159 147h1v1h-1zM163 149h1v1h-1zM153 150h1v1h-1zM147 152h1v1h-1zM165 156h1v1h-1zM144 166h1v1h-1zM144 176h1v1h-1zM190 115h1v1h-1zM202 117h1v1h-1zM205 122h1v1h-1zM189 127h1v1h-1zM197 130h1v1h-1zM201 130h1v1h-1zM201 131h1v1h-1zM205 134h1v1h-1zM204 137h1v1h-1zM205 137h1v1h-1zM200 138h1v1h-1zM204 139h1v1h-1zM202 142h1v1h-1zM185 144h1v1h-1zM186 149h1v1h-1zM185 151h1v1h-1zM200 151h1v1h-1zM187 153h1v1h-1zM166 140h1v1h-1zM171 140h1v1h-1zM164 144h1v1h-1zM170 146h1v1h-1zM168 147h1v1h-1zM164 148h1v1h-1zM165 148h1v1h-1zM169 149h1v1h-1zM166 150h1v1h-1zM170 154h1v1h-1zM169 155h1v1h-1zM170 155h1v1h-1zM168 156h1v1h-1zM171 156h1v1h-1zM172 156h1v1h-1zM166 158h1v1h-1zM170 158h1v1h-1zM166 159h1v1h-1zM168 159h1v1h-1zM172 159h1v1h-1zM172 164h1v1h-1zM168 166h1v1h-1zM171 168h1v1h-1zM215 130h1v1h-1zM220 139h1v1h-1zM222 139h1v1h-1zM217 140h1v1h-1zM222 147h1v1h-1zM217 148h1v1h-1zM218 148h1v1h-1zM218 149h1v1h-1zM217 151h1v1h-1zM218 154h1v1h-1zM222 154h1v1h-1zM221 158h1v1h-1zM220 164h1v1h-1zM223 167h1v1h-1zM201 135h1v1h-1zM202 150h1v1h-1zM173 160h1v1h-1zM174 160h1v1h-1zM177 168h1v1h-1zM169 169h1v1h-1zM174 173h1v1h-1zM172 174h1v1h-1zM180 177h1v1h-1zM223 147h1v1h-1zM223 154h1v1h-1zM221 165h1v1h-1zM225 166h1v1h-1z"/><path fill="#48c06c" d="M76 117h1v1h-1zM76 128h1v1h-1zM76 140h1v1h-1zM76 147h1v1h-1zM47 60h1v1h-1zM47 69h1v1h-1zM76 88h1v1h-1zM76 89h1v1h-1zM76 96h1v1h-1zM76 109h1v1h-1zM76 118h1v1h-1zM76 119h1v1h-1zM76 120h1v1h-1zM76 126h1v1h-1zM76 150h1v1h-1zM120 7h1v1h-1zM120 12h1v1h-1zM121 17h1v1h-1zM118 21h1v1h-1zM117 27h1v1h-1zM118 27h1v1h-1zM119 40h1v1h-1zM121 56h1v1h-1zM90 149h1v1h-1zM93 152h1v1h-1zM89 153h1v1h-1zM91 153h1v1h-1zM89 154h1v1h-1zM89 155h1v1h-1zM88 159h1v1h-1zM93 162h1v1h-1zM91 168h1v1h-1zM92 170h1v1h-1zM89 181h1v1h-1zM90 181h1v1h-1zM92 182h1v1h-1zM89 183h1v1h-1zM89 185h1v1h-1zM92 188h1v1h-1zM89 189h1v1h-1zM90 193h1v1h-1zM93 195h1v1h-1zM93 197h1v1h-1zM89 198h1v1h-1zM89 201h1v1h-1zM91 210h1v1h-1zM91 212h1v1h-1zM91 215h1v1h-1zM91 216h1v1h-1zM92 216h1v1h-1zM92 218h1v1h-1z"/><path fill="#3c6090" d="M87 156h1v1h-1zM127 150h1v1h-1zM121 156h1v1h-1zM125 157h1v1h-1zM129 159h1v1h-1zM205 128h1v1h-1zM202 129h1v1h-1zM203 129h1v1h-1zM185 131h1v1h-1zM203 132h1v1h-1zM203 135h1v1h-1zM188 140h1v1h-1zM200 144h1v1h-1zM168 140h1v1h-1zM171 144h1v1h-1zM168 146h1v1h-1zM166 154h1v1h-1zM170 178h1v1h-1zM217 157h1v1h-1zM223 178h1v1h-1zM201 147h1v1h-1zM228 149h1v1h-1zM220 150h1v1h-1z"/><path fill="#54c06c" d="M47 40h1v1h-1zM47 42h1v1h-1zM119 13h1v1h-1zM117 22h1v1h-1z"/><path fill="#60cc60" d="M47 41h1v1h-1zM47 63h1v1h-1zM117 10h1v1h-1zM121 12h1v1h-1zM117 18h1v1h-1zM117 19h1v1h-1zM119 30h1v1h-1zM92 115h1v1h-1zM92 125h1v1h-1zM92 127h1v1h-1zM92 129h1v1h-1zM92 132h1v1h-1zM90 134h1v1h-1zM92 135h1v1h-1zM90 142h1v1h-1zM91 142h1v1h-1zM89 144h1v1h-1z"/><path fill="#9cd83c" d="M47 45h1v1h-1zM121 7h1v1h-1zM119 12h1v1h-1zM117 36h1v1h-1zM121 38h1v1h-1zM121 39h1v1h-1z"/><path fill="#78cc54" d="M47 47h1v1h-1zM47 56h1v1h-1zM47 66h1v1h-1zM119 16h1v1h-1zM119 23h1v1h-1zM121 28h1v1h-1zM119 38h1v1h-1zM117 41h1v1h-1zM120 49h1v1h-1z"/><path fill="#90d848" d="M47 52h1v1h-1zM119 7h1v1h-1zM118 18h1v1h-1zM119 27h1v1h-1z"/><path fill="#54c060" d="M47 55h1v1h-1zM47 59h1v1h-1z"/><path fill="#30b484" d="M47 79h1v1h-1z"/><path fill="#24b484" d="M47 137h1v1h-1z"/><path fill="#6ccc54" d="M120 5h1v1h-1zM120 11h1v1h-1zM121 25h1v1h-1zM118 30h1v1h-1zM119 31h1v1h-1z"/><path fill="#6ccc60" d="M120 6h1v1h-1zM118 8h1v1h-1zM119 8h1v1h-1zM120 35h1v1h-1z"/><path fill="#90d83c" d="M120 8h1v1h-1zM119 17h1v1h-1z"/><path fill="#c0e424" d="M118 9h1v1h-1z"/><path fill="#84d848" d="M120 9h1v1h-1zM119 14h1v1h-1zM121 19h1v1h-1zM118 43h1v1h-1zM119 51h1v1h-1zM92 121h1v1h-1zM90 124h1v1h-1zM92 124h1v1h-1zM91 126h1v1h-1zM91 127h1v1h-1zM91 134h1v1h-1zM88 135h1v1h-1zM89 136h1v1h-1zM88 142h1v1h-1z"/><path fill="#a8d83c" d="M121 11h1v1h-1z"/><path fill="#54cc60" d="M118 13h1v1h-1z"/><path fill="#a8d830" d="M121 21h1v1h-1zM118 25h1v1h-1zM118 26h1v1h-1z"/><path fill="#b4d830" d="M119 41h1v1h-1zM117 53h1v1h-1z"/><path fill="#24303c" d="M89 146h1v1h-1zM92 150h1v1h-1zM90 157h1v1h-1zM92 157h1v1h-1zM93 157h1v1h-1zM91 158h1v1h-1zM92 159h1v1h-1zM88 162h1v1h-1zM92 162h1v1h-1zM90 168h1v1h-1zM92 171h1v1h-1zM93 175h1v1h-1zM93 176h1v1h-1zM93 177h1v1h-1zM91 184h1v1h-1zM93 185h1v1h-1zM89 187h1v1h-1zM93 188h1v1h-1zM90 190h1v1h-1zM91 195h1v1h-1zM92 195h1v1h-1zM90 198h1v1h-1zM92 202h1v1h-1zM92 208h1v1h-1zM89 214h1v1h-1zM89 217h1v1h-1zM92 219h1v1h-1z"/><path fill="#3c5490" d="M101 177h1v1h-1zM121 153h1v1h-1zM122 155h1v1h-1zM126 156h1v1h-1zM128 156h1v1h-1zM121 157h1v1h-1zM126 157h1v1h-1zM144 174h1v1h-1zM144 164h1v1h-1zM184 135h1v1h-1zM204 136h1v1h-1zM185 141h1v1h-1zM199 141h1v1h-1zM201 144h1v1h-1zM185 146h1v1h-1zM202 147h1v1h-1zM188 150h1v1h-1zM185 152h1v1h-1zM201 154h1v1h-1zM166 146h1v1h-1zM170 147h1v1h-1zM172 148h1v1h-1zM169 151h1v1h-1zM171 155h1v1h-1zM172 155h1v1h-1zM167 161h1v1h-1zM167 164h1v1h-1zM169 165h1v1h-1zM168 168h1v1h-1zM169 170h1v1h-1zM172 171h1v1h-1zM172 173h1v1h-1zM169 175h1v1h-1zM173 176h1v1h-1zM173 179h1v1h-1zM170 180h1v1h-1zM171 180h1v1h-1zM213 140h1v1h-1zM221 161h1v1h-1zM222 181h1v1h-1zM202 151h1v1h-1zM171 162h1v1h-1zM167 165h1v1h-1zM178 166h1v1h-1zM175 167h1v1h-1zM177 175h1v1h-1zM171 182h1v1h-1zM179 185h1v1h-1zM179 187h1v1h-1zM177 188h1v1h-1zM177 190h1v1h-1zM179 192h1v1h-1zM221 160h1v1h-1zM219 169h1v1h-1zM225 174h1v1h-1zM221 179h1v1h-1zM224 183h1v1h-1zM222 186h1v1h-1z"/><path fill="#3c4884" d="M101 202h1v1h-1zM100 207h1v1h-1zM186 146h1v1h-1zM185 149h1v1h-1zM200 149h1v1h-1zM187 150h1v1h-1zM200 150h1v1h-1zM168 161h1v1h-1zM167 162h1v1h-1zM168 165h1v1h-1zM169 166h1v1h-1zM168 167h1v1h-1zM172 170h1v1h-1zM170 171h1v1h-1zM173 173h1v1h-1zM169 176h1v1h-1zM170 176h1v1h-1zM172 176h1v1h-1zM172 182h1v1h-1zM173 183h1v1h-1zM173 184h1v1h-1zM219 151h1v1h-1zM221 163h1v1h-1zM223 163h1v1h-1zM221 168h1v1h-1zM180 181h1v1h-1zM178 200h1v1h-1zM176 203h1v1h-1zM223 162h1v1h-1zM226 162h1v1h-1zM222 169h1v1h-1zM226 170h1v1h-1zM222 183h1v1h-1zM222 193h1v1h-1zM222 198h1v1h-1z"/><path fill="#482478" d="M101 218h1v1h-1zM173 185h1v1h-1zM173 195h1v1h-1zM221 177h1v1h-1zM220 180h1v1h-1zM224 190h1v1h-1zM178 201h1v1h-1zM178 205h1v1h-1zM177 217h1v1h-1zM222 196h1v1h-1z"/><path fill="#309090" d="M105 146h1v1h-1zM106 146h1v1h-1zM113 146h1v1h-1zM105 147h1v1h-1zM106 148h1v1h-1zM115 148h1v1h-1zM108 151h1v1h-1zM112 151h1v1h-1zM104 153h1v1h-1zM115 153h1v1h-1zM104 154h1v1h-1zM115 157h1v1h-1zM111 158h1v1h-1zM113 159h1v1h-1zM114 160h1v1h-1z"/><path fill="#000000" d="M111 146h1v1h-1zM114 147h1v1h-1zM109 148h1v1h-1zM112 148h1v1h-1zM108 150h1v1h-1zM106 152h1v1h-1zM115 154h1v1h-1zM112 155h1v1h-1zM112 159h1v1h-1zM115 159h1v1h-1zM114 165h1v1h-1zM195 137h1v1h-1zM195 139h1v1h-1zM192 144h1v1h-1zM194 147h1v1h-1zM192 151h1v1h-1zM196 152h1v1h-1zM194 156h1v1h-1zM194 157h1v1h-1zM194 158h1v1h-1zM193 159h1v1h-1zM191 162h1v1h-1zM193 163h1v1h-1zM191 165h1v1h-1zM193 165h1v1h-1zM195 165h1v1h-1zM193 167h1v1h-1zM192 168h1v1h-1zM193 173h1v1h-1zM197 176h1v1h-1zM195 179h1v1h-1zM193 182h1v1h-1zM196 183h1v1h-1zM194 185h1v1h-1zM192 186h1v1h-1zM193 186h1v1h-1zM194 187h1v1h-1zM193 200h1v1h-1zM194 200h1v1h-1zM195 201h1v1h-1zM194 203h1v1h-1zM193 204h1v1h-1zM193 205h1v1h-1zM195 210h1v1h-1z"/><path fill="#181830" d="M106 149h1v1h-1zM105 150h1v1h-1zM109 146h1v1h-1zM109 150h1v1h-1zM107 154h1v1h-1zM111 156h1v1h-1zM108 159h1v1h-1zM110 162h1v1h-1z"/><path fill="#24183c" d="M107 149h1v1h-1zM112 146h1v1h-1zM104 147h1v1h-1zM111 148h1v1h-1zM108 149h1v1h-1zM109 149h1v1h-1zM110 149h1v1h-1zM105 151h1v1h-1zM106 151h1v1h-1zM110 151h1v1h-1zM111 152h1v1h-1zM106 153h1v1h-1zM109 153h1v1h-1zM113 153h1v1h-1zM109 156h1v1h-1zM114 157h1v1h-1zM114 161h1v1h-1zM115 164h1v1h-1zM112 165h1v1h-1zM108 166h1v1h-1z"/><path fill="#303c78" d="M129 156h1v1h-1zM130 143h1v1h-1zM134 152h1v1h-1zM133 155h1v1h-1zM138 157h1v1h-1zM130 158h1v1h-1zM130 162h1v1h-1zM138 162h1v1h-1zM133 165h1v1h-1zM137 165h1v1h-1zM144 168h1v1h-1zM140 169h1v1h-1zM129 170h1v1h-1zM128 171h1v1h-1zM129 171h1v1h-1zM130 172h1v1h-1zM137 174h1v1h-1zM141 177h1v1h-1zM129 178h1v1h-1zM134 178h1v1h-1zM129 179h1v1h-1zM131 180h1v1h-1zM138 181h1v1h-1zM142 181h1v1h-1zM131 182h1v1h-1zM144 182h1v1h-1zM133 184h1v1h-1zM135 184h1v1h-1zM129 185h1v1h-1zM142 185h1v1h-1zM132 187h1v1h-1zM135 187h1v1h-1zM137 188h1v1h-1zM139 188h1v1h-1zM141 188h1v1h-1zM143 188h1v1h-1zM136 190h1v1h-1zM138 190h1v1h-1zM144 190h1v1h-1zM133 191h1v1h-1zM128 196h1v1h-1zM141 196h1v1h-1zM144 197h1v1h-1zM128 198h1v1h-1zM137 198h1v1h-1zM138 200h1v1h-1zM130 202h1v1h-1zM132 202h1v1h-1zM132 203h1v1h-1zM129 204h1v1h-1zM139 204h1v1h-1zM134 205h1v1h-1zM129 206h1v1h-1zM130 206h1v1h-1zM129 207h1v1h-1zM144 207h1v1h-1zM130 209h1v1h-1zM142 209h1v1h-1zM142 210h1v1h-1zM135 212h1v1h-1zM138 213h1v1h-1zM138 214h1v1h-1zM142 214h1v1h-1zM143 214h1v1h-1zM144 214h1v1h-1zM142 215h1v1h-1zM131 216h1v1h-1zM133 216h1v1h-1zM135 216h1v1h-1zM142 216h1v1h-1zM135 217h1v1h-1zM140 217h1v1h-1zM141 217h1v1h-1zM144 217h1v1h-1zM141 218h1v1h-1zM143 218h1v1h-1zM136 219h1v1h-1zM142 219h1v1h-1z"/><path fill="#30306c" d="M128 138h1v1h-1zM134 140h1v1h-1zM138 142h1v1h-1zM141 150h1v1h-1zM144 150h1v1h-1zM145 155h1v1h-1zM145 159h1v1h-1zM128 164h1v1h-1zM136 164h1v1h-1zM135 166h1v1h-1zM135 167h1v1h-1zM140 168h1v1h-1zM143 168h1v1h-1zM139 170h1v1h-1zM144 170h1v1h-1zM139 172h1v1h-1zM134 174h1v1h-1zM128 176h1v1h-1zM132 176h1v1h-1zM130 177h1v1h-1zM132 177h1v1h-1zM133 179h1v1h-1zM135 179h1v1h-1zM141 181h1v1h-1zM143 181h1v1h-1zM128 182h1v1h-1zM138 182h1v1h-1zM136 183h1v1h-1zM138 183h1v1h-1zM137 184h1v1h-1zM144 184h1v1h-1zM129 186h1v1h-1zM129 187h1v1h-1zM140 188h1v1h-1zM128 190h1v1h-1zM132 190h1v1h-1zM130 192h1v1h-1zM135 192h1v1h-1zM143 193h1v1h-1zM130 194h1v1h-1zM142 194h1v1h-1zM133 195h1v1h-1zM137 195h1v1h-1zM139 196h1v1h-1zM144 196h1v1h-1zM143 197h1v1h-1zM141 198h1v1h-1zM128 199h1v1h-1zM136 202h1v1h-1zM138 203h1v1h-1zM143 203h1v1h-1zM135 204h1v1h-1zM132 205h1v1h-1zM134 206h1v1h-1zM131 207h1v1h-1zM130 208h1v1h-1zM134 208h1v1h-1zM140 208h1v1h-1zM136 209h1v1h-1zM139 210h1v1h-1zM128 212h1v1h-1zM144 212h1v1h-1zM136 214h1v1h-1zM140 214h1v1h-1zM140 215h1v1h-1zM144 215h1v1h-1zM129 217h1v1h-1zM130 217h1v1h-1zM243 102h1v1h-1zM243 107h1v1h-1zM242 123h1v1h-1zM242 134h1v1h-1zM240 147h1v1h-1zM241 147h1v1h-1zM243 162h1v1h-1zM240 164h1v1h-1zM242 165h1v1h-1zM240 179h1v1h-1zM193 133h1v1h-1zM194 136h1v1h-1zM194 137h1v1h-1zM192 142h1v1h-1zM193 142h1v1h-1zM194 145h1v1h-1zM194 150h1v1h-1zM191 153h1v1h-1zM194 153h1v1h-1zM195 158h1v1h-1zM195 161h1v1h-1zM197 161h1v1h-1zM192 162h1v1h-1zM193 162h1v1h-1zM195 162h1v1h-1zM196 165h1v1h-1zM191 166h1v1h-1zM192 167h1v1h-1zM193 169h1v1h-1zM197 169h1v1h-1zM191 170h1v1h-1zM193 170h1v1h-1zM196 175h1v1h-1zM193 176h1v1h-1zM196 176h1v1h-1zM195 177h1v1h-1zM192 178h1v1h-1zM192 180h1v1h-1zM194 181h1v1h-1zM192 183h1v1h-1zM195 184h1v1h-1zM194 186h1v1h-1zM196 186h1v1h-1zM192 189h1v1h-1zM195 193h1v1h-1zM195 195h1v1h-1zM196 196h1v1h-1zM195 198h1v1h-1zM193 203h1v1h-1zM194 205h1v1h-1zM194 206h1v1h-1zM194 209h1v1h-1zM195 212h1v1h-1z"/><path fill="#3c3c84" d="M135 139h1v1h-1zM138 144h1v1h-1zM139 153h1v1h-1zM138 166h1v1h-1zM132 171h1v1h-1zM140 172h1v1h-1zM129 173h1v1h-1zM134 176h1v1h-1zM138 176h1v1h-1zM135 177h1v1h-1zM142 177h1v1h-1zM132 179h1v1h-1zM141 179h1v1h-1zM129 181h1v1h-1zM139 181h1v1h-1zM129 183h1v1h-1zM132 183h1v1h-1zM142 183h1v1h-1zM144 183h1v1h-1zM131 185h1v1h-1zM132 189h1v1h-1zM140 189h1v1h-1zM137 190h1v1h-1zM141 190h1v1h-1zM134 193h1v1h-1zM144 193h1v1h-1zM136 194h1v1h-1zM141 195h1v1h-1zM143 196h1v1h-1zM136 198h1v1h-1zM129 199h1v1h-1zM135 199h1v1h-1zM138 199h1v1h-1zM140 199h1v1h-1zM144 199h1v1h-1zM129 200h1v1h-1zM137 200h1v1h-1zM143 200h1v1h-1zM144 200h1v1h-1zM130 201h1v1h-1zM131 201h1v1h-1zM132 201h1v1h-1zM135 201h1v1h-1zM133 202h1v1h-1zM134 202h1v1h-1zM135 202h1v1h-1zM143 202h1v1h-1zM131 203h1v1h-1zM135 203h1v1h-1zM142 203h1v1h-1zM138 204h1v1h-1zM141 204h1v1h-1zM144 205h1v1h-1zM138 206h1v1h-1zM142 207h1v1h-1zM129 208h1v1h-1zM128 209h1v1h-1zM133 209h1v1h-1zM137 209h1v1h-1zM140 209h1v1h-1zM129 210h1v1h-1zM135 211h1v1h-1zM142 211h1v1h-1zM131 212h1v1h-1zM137 212h1v1h-1zM140 212h1v1h-1zM134 213h1v1h-1zM141 214h1v1h-1zM133 215h1v1h-1zM132 216h1v1h-1zM144 216h1v1h-1zM134 217h1v1h-1zM137 217h1v1h-1zM139 217h1v1h-1zM137 218h1v1h-1zM142 218h1v1h-1zM137 219h1v1h-1zM242 101h1v1h-1zM241 114h1v1h-1zM243 134h1v1h-1zM242 137h1v1h-1zM241 144h1v1h-1zM242 157h1v1h-1zM241 159h1v1h-1zM242 167h1v1h-1zM241 176h1v1h-1zM243 188h1v1h-1zM248 170h1v1h-1zM251 173h1v1h-1zM245 185h1v1h-1zM248 187h1v1h-1zM250 187h1v1h-1zM257 187h1v1h-1zM253 190h1v1h-1zM254 190h1v1h-1zM250 191h1v1h-1zM244 192h1v1h-1zM257 196h1v1h-1zM241 200h1v1h-1zM241 207h1v1h-1z"/><path fill="#303060" d="M137 143h1v1h-1zM143 152h1v1h-1zM144 153h1v1h-1zM128 155h1v1h-1zM132 155h1v1h-1zM133 157h1v1h-1zM136 159h1v1h-1zM135 160h1v1h-1zM137 160h1v1h-1zM136 162h1v1h-1zM140 162h1v1h-1zM144 163h1v1h-1zM135 164h1v1h-1zM141 164h1v1h-1zM134 166h1v1h-1zM130 167h1v1h-1zM132 167h1v1h-1zM142 167h1v1h-1zM132 168h1v1h-1zM133 170h1v1h-1zM140 170h1v1h-1zM138 173h1v1h-1zM139 173h1v1h-1zM142 173h1v1h-1zM142 175h1v1h-1zM140 176h1v1h-1zM141 176h1v1h-1zM136 178h1v1h-1zM142 182h1v1h-1zM141 184h1v1h-1zM134 186h1v1h-1zM139 187h1v1h-1zM140 187h1v1h-1zM144 187h1v1h-1zM133 188h1v1h-1zM128 191h1v1h-1zM133 192h1v1h-1zM140 192h1v1h-1zM141 192h1v1h-1zM132 193h1v1h-1zM142 193h1v1h-1zM140 194h1v1h-1zM132 195h1v1h-1zM138 195h1v1h-1zM142 195h1v1h-1zM142 197h1v1h-1zM142 198h1v1h-1zM139 199h1v1h-1zM142 199h1v1h-1zM131 200h1v1h-1zM133 200h1v1h-1zM128 201h1v1h-1zM133 201h1v1h-1zM140 201h1v1h-1zM139 202h1v1h-1zM141 202h1v1h-1zM134 203h1v1h-1zM137 203h1v1h-1zM133 205h1v1h-1zM136 205h1v1h-1zM140 205h1v1h-1zM136 206h1v1h-1zM137 206h1v1h-1zM142 206h1v1h-1zM144 206h1v1h-1zM132 207h1v1h-1zM128 208h1v1h-1zM136 208h1v1h-1zM144 208h1v1h-1zM138 209h1v1h-1zM141 209h1v1h-1zM143 209h1v1h-1zM144 210h1v1h-1zM131 211h1v1h-1zM138 211h1v1h-1zM138 212h1v1h-1zM130 216h1v1h-1zM138 217h1v1h-1zM130 218h1v1h-1zM128 219h1v1h-1zM132 219h1v1h-1zM139 219h1v1h-1zM143 219h1v1h-1zM241 170h1v1h-1zM252 153h1v1h-1zM241 156h1v1h-1zM241 158h1v1h-1zM240 161h1v1h-1zM257 161h1v1h-1zM256 168h1v1h-1zM245 174h1v1h-1zM247 174h1v1h-1zM248 174h1v1h-1zM253 178h1v1h-1zM252 181h1v1h-1zM253 189h1v1h-1zM255 194h1v1h-1zM241 199h1v1h-1zM247 203h1v1h-1z"/><path fill="#242454" d="M139 152h1v1h-1zM141 154h1v1h-1zM142 154h1v1h-1zM130 159h1v1h-1zM128 163h1v1h-1zM142 164h1v1h-1zM134 170h1v1h-1zM136 171h1v1h-1zM139 171h1v1h-1zM136 173h1v1h-1zM131 174h1v1h-1zM139 174h1v1h-1zM139 177h1v1h-1zM134 179h1v1h-1zM142 179h1v1h-1zM143 179h1v1h-1zM130 180h1v1h-1zM132 180h1v1h-1zM133 181h1v1h-1zM135 183h1v1h-1zM133 185h1v1h-1zM136 187h1v1h-1zM136 188h1v1h-1zM133 189h1v1h-1zM135 189h1v1h-1zM136 189h1v1h-1zM130 190h1v1h-1zM132 191h1v1h-1zM138 191h1v1h-1zM139 191h1v1h-1zM128 192h1v1h-1zM142 192h1v1h-1zM131 193h1v1h-1zM136 193h1v1h-1zM128 194h1v1h-1zM135 196h1v1h-1zM137 196h1v1h-1zM137 197h1v1h-1zM143 199h1v1h-1zM131 202h1v1h-1zM129 203h1v1h-1zM136 203h1v1h-1zM131 204h1v1h-1zM130 205h1v1h-1zM142 205h1v1h-1zM132 206h1v1h-1zM138 207h1v1h-1zM140 207h1v1h-1zM139 209h1v1h-1zM133 210h1v1h-1zM134 211h1v1h-1zM140 211h1v1h-1zM132 212h1v1h-1zM136 212h1v1h-1zM139 212h1v1h-1zM142 212h1v1h-1zM130 213h1v1h-1zM131 213h1v1h-1zM144 213h1v1h-1zM132 214h1v1h-1zM135 214h1v1h-1zM128 215h1v1h-1zM129 215h1v1h-1zM129 216h1v1h-1zM128 217h1v1h-1zM142 217h1v1h-1zM128 218h1v1h-1zM144 219h1v1h-1z"/><path fill="#3c4890" d="M144 181h1v1h-1zM198 139h1v1h-1zM203 144h1v1h-1zM165 153h1v1h-1zM172 153h1v1h-1zM167 155h1v1h-1zM166 160h1v1h-1zM170 162h1v1h-1zM172 192h1v1h-1zM221 145h1v1h-1zM220 159h1v1h-1zM194 134h1v1h-1zM193 136h1v1h-1zM193 139h1v1h-1zM194 141h1v1h-1zM194 143h1v1h-1zM196 143h1v1h-1zM196 144h1v1h-1zM192 146h1v1h-1zM192 147h1v1h-1zM194 151h1v1h-1zM193 152h1v1h-1zM194 155h1v1h-1zM191 157h1v1h-1zM195 159h1v1h-1zM191 160h1v1h-1zM194 162h1v1h-1zM194 163h1v1h-1zM194 164h1v1h-1zM195 164h1v1h-1zM193 166h1v1h-1zM195 168h1v1h-1zM197 168h1v1h-1zM193 172h1v1h-1zM196 172h1v1h-1zM194 173h1v1h-1zM197 173h1v1h-1zM194 174h1v1h-1zM192 175h1v1h-1zM196 177h1v1h-1zM192 181h1v1h-1zM193 184h1v1h-1zM195 186h1v1h-1zM192 188h1v1h-1zM193 191h1v1h-1zM194 197h1v1h-1zM194 202h1v1h-1zM195 204h1v1h-1zM193 207h1v1h-1zM193 208h1v1h-1zM221 183h1v1h-1z"/><path fill="#483c84" d="M186 150h1v1h-1zM168 170h1v1h-1zM173 190h1v1h-1zM172 191h1v1h-1zM174 200h1v1h-1zM174 201h1v1h-1zM222 166h1v1h-1zM218 167h1v1h-1zM222 168h1v1h-1zM221 174h1v1h-1zM222 197h1v1h-1zM176 182h1v1h-1zM173 186h1v1h-1zM177 189h1v1h-1zM176 191h1v1h-1zM177 196h1v1h-1zM178 202h1v1h-1zM175 207h1v1h-1zM224 191h1v1h-1z"/><path fill="#484884" d="M168 171h1v1h-1zM178 197h1v1h-1z"/><path fill="#483084" d="M171 177h1v1h-1zM170 179h1v1h-1zM223 186h1v1h-1zM222 177h1v1h-1z"/><path fill="#483078" d="M171 183h1v1h-1zM224 182h1v1h-1zM223 187h1v1h-1zM224 189h1v1h-1zM224 193h1v1h-1zM179 204h1v1h-1zM179 205h1v1h-1z"/><path fill="#304884" d="M240 116h1v1h-1zM243 128h1v1h-1zM241 135h1v1h-1zM240 150h1v1h-1zM242 151h1v1h-1zM241 163h1v1h-1zM243 178h1v1h-1zM241 180h1v1h-1zM241 186h1v1h-1z"/><path fill="#3cc078" d="M189 35h1v1h-1z"/><path fill="#302460" d="M195 133h1v1h-1zM193 145h1v1h-1zM196 147h1v1h-1zM192 149h1v1h-1zM195 149h1v1h-1zM196 150h1v1h-1zM195 151h1v1h-1zM197 153h1v1h-1zM196 154h1v1h-1zM197 154h1v1h-1zM197 155h1v1h-1zM192 156h1v1h-1zM196 156h1v1h-1zM197 156h1v1h-1zM196 157h1v1h-1zM194 159h1v1h-1zM194 160h1v1h-1zM197 160h1v1h-1zM196 161h1v1h-1zM197 164h1v1h-1zM192 166h1v1h-1zM195 166h1v1h-1zM191 167h1v1h-1zM196 168h1v1h-1zM194 170h1v1h-1zM194 171h1v1h-1zM196 171h1v1h-1zM197 171h1v1h-1zM192 173h1v1h-1zM194 178h1v1h-1zM194 180h1v1h-1zM195 180h1v1h-1zM196 180h1v1h-1zM194 182h1v1h-1zM196 184h1v1h-1zM193 188h1v1h-1zM195 191h1v1h-1zM196 194h1v1h-1zM196 195h1v1h-1zM195 197h1v1h-1zM195 203h1v1h-1z"/><path fill="#48489c" d="M193 134h1v1h-1zM195 134h1v1h-1zM195 136h1v1h-1zM193 138h1v1h-1zM194 138h1v1h-1zM193 140h1v1h-1zM193 144h1v1h-1zM194 144h1v1h-1zM195 144h1v1h-1zM193 146h1v1h-1zM195 146h1v1h-1zM193 147h1v1h-1zM195 148h1v1h-1zM196 149h1v1h-1zM193 150h1v1h-1zM193 153h1v1h-1zM193 155h1v1h-1zM192 157h1v1h-1zM193 157h1v1h-1zM195 157h1v1h-1zM197 157h1v1h-1zM197 159h1v1h-1zM193 161h1v1h-1zM196 163h1v1h-1zM196 164h1v1h-1zM192 165h1v1h-1zM196 169h1v1h-1zM197 175h1v1h-1zM193 179h1v1h-1zM196 179h1v1h-1zM193 180h1v1h-1zM192 182h1v1h-1zM196 182h1v1h-1zM192 187h1v1h-1zM193 194h1v1h-1zM194 195h1v1h-1zM196 199h1v1h-1zM194 201h1v1h-1zM194 204h1v1h-1zM195 206h1v1h-1zM194 207h1v1h-1zM195 214h1v1h-1zM195 215h1v1h-1z"/><circle cx="152" cy="193.6" r="3.5" fill="none" stroke="#e0203a" stroke-width="1.1"/><text x="49.4" y="18.6" font-size="12.0" text-anchor="start" fill="#e8e8e8" >(a)</text><rect x="387" y="5" width="212" height="214.5" fill="#000"/><path fill="url(#gb_left)" d="M387 152h1v68h-1zM388 152h1v68h-1zM389 152h1v68h-1zM390 152h1v68h-1zM391 152h1v68h-1zM392 152h1v68h-1zM393 152h1v68h-1zM394 152h1v68h-1zM395 153h1v67h-1zM396 153h1v67h-1zM397 153h1v67h-1zM398 153h1v67h-1zM399 153h1v67h-1zM400 153h1v67h-1zM401 153h1v67h-1zM402 153h1v67h-1zM403 153h1v67h-1zM404 153h1v67h-1zM405 153h1v67h-1zM406 154h1v66h-1zM407 154h1v66h-1zM408 154h1v66h-1zM409 154h1v66h-1zM410 154h1v66h-1zM411 154h1v66h-1zM412 154h1v66h-1zM413 155h1v65h-1zM414 155h1v65h-1zM415 155h1v65h-1zM416 155h1v65h-1zM417 155h1v65h-1zM418 155h1v65h-1zM419 156h1v64h-1zM420 156h1v64h-1zM421 156h1v64h-1zM422 156h1v64h-1zM423 156h1v64h-1zM424 157h1v63h-1zM425 157h1v63h-1zM426 157h1v63h-1zM427 157h1v63h-1zM428 158h1v62h-1zM429 158h1v62h-1z"/><path fill="url(#gb_s40)" d="M430 145h1v7h-1zM431 145h1v75h-1zM432 145h1v75h-1zM433 145h1v75h-1zM434 145h1v75h-1zM435 145h1v31h-1zM436 145h1v6h-1z"/><path fill="url(#gb_r3)" d="M435 176h1v44h-1zM436 168h1v52h-1zM437 164h1v56h-1zM438 179h1v41h-1zM439 209h1v11h-1z"/><path fill="url(#gb_l99)" d="M437 145h1v4h-1zM438 145h1v34h-1zM439 156h1v53h-1zM440 186h1v34h-1zM441 216h1v4h-1z"/><path fill="url(#gb_r4)" d="M446 152h1v68h-1zM447 151h1v69h-1zM448 150h1v70h-1zM449 150h1v70h-1zM450 149h1v71h-1zM451 148h1v72h-1zM452 148h1v72h-1zM453 147h1v73h-1zM454 147h1v73h-1zM455 147h1v73h-1zM456 146h1v74h-1zM457 146h1v74h-1z"/><path fill="url(#gb_s1)" d="M459 5h1v95h-1zM460 5h1v215h-1zM461 5h1v215h-1zM462 5h1v215h-1zM463 5h1v107h-1z"/><path fill="url(#gb_r5)" d="M463 158h1v62h-1zM464 158h1v62h-1zM467 159h1v61h-1zM468 160h1v60h-1zM469 160h1v60h-1z"/><path fill="url(#gb_r6)" d="M487 165h1v55h-1zM488 159h1v61h-1zM489 156h1v64h-1zM490 155h1v65h-1zM491 154h1v66h-1zM493 153h1v67h-1zM494 154h1v66h-1zM495 156h1v64h-1zM496 157h1v63h-1zM497 157h1v63h-1zM498 156h1v64h-1zM499 155h1v65h-1zM500 154h1v66h-1zM501 153h1v67h-1zM502 152h1v68h-1zM503 151h1v69h-1zM504 151h1v69h-1zM505 150h1v70h-1zM506 152h1v68h-1zM507 157h1v63h-1zM508 162h1v58h-1zM509 168h1v52h-1zM510 173h1v47h-1zM511 178h1v42h-1zM512 183h1v37h-1zM513 188h1v32h-1zM514 194h1v26h-1zM515 199h1v21h-1zM516 204h1v16h-1zM517 209h1v11h-1zM518 214h1v6h-1zM519 219h1v1h-1z"/><path fill="url(#gb_r7)" d="M520 219h1v1h-1zM521 219h1v1h-1zM527 173h1v47h-1zM528 169h1v1h-1zM528 172h1v48h-1zM529 163h1v57h-1zM530 153h1v67h-1zM531 141h1v79h-1zM532 131h1v89h-1zM533 131h1v22h-1zM533 172h1v48h-1zM534 131h1v11h-1zM534 190h1v30h-1zM535 131h1v2h-1zM535 209h1v11h-1zM536 131h1v2h-1zM536 216h1v4h-1zM537 131h1v2h-1zM537 216h1v4h-1zM538 131h1v11h-1zM538 205h1v15h-1zM539 133h1v20h-1zM539 177h1v43h-1zM540 140h1v80h-1zM541 146h1v74h-1zM542 158h1v62h-1zM543 171h1v49h-1zM544 169h1v51h-1z"/><path fill="url(#gb_r7b)" d="M525 130h1v7h-1zM526 143h1v23h-1zM527 157h1v16h-1zM528 170h1v2h-1z"/><path fill="url(#gb_r7v)" d="M533 153h1v19h-1zM534 142h1v48h-1zM535 133h1v76h-1zM536 133h1v83h-1zM537 133h1v83h-1zM538 142h1v63h-1zM539 153h1v24h-1z"/><path fill="url(#gb_r8)" d="M546 143h1v2h-1zM547 139h1v6h-1zM548 137h1v83h-1zM549 134h1v86h-1zM550 131h1v89h-1zM551 131h1v89h-1zM552 134h1v86h-1zM553 137h1v83h-1zM554 140h1v80h-1zM555 143h1v77h-1zM556 147h1v73h-1zM557 152h1v68h-1zM558 157h1v63h-1zM559 162h1v58h-1zM560 168h1v52h-1zM561 174h1v46h-1zM562 181h1v39h-1zM563 189h1v31h-1zM564 199h1v21h-1z"/><path fill="url(#gb_r8l)" d="M545 145h1v75h-1zM546 145h1v75h-1zM547 145h1v75h-1z"/><path fill="url(#gb_r9)" d="M565 208h1v12h-1zM566 194h1v26h-1zM567 180h1v40h-1zM568 171h1v49h-1zM569 163h1v57h-1zM570 156h1v64h-1zM571 150h1v70h-1zM572 153h1v67h-1zM573 156h1v64h-1zM574 159h1v61h-1zM575 163h1v40h-1z"/><path fill="url(#gb_s2)" d="M575 203h1v17h-1zM576 129h1v91h-1zM577 100h1v120h-1zM578 97h1v123h-1zM579 100h1v120h-1zM580 118h1v102h-1zM581 138h1v81h-1z"/><path fill="url(#gb_spA)" d="M581 219h1v1h-1zM582 214h1v6h-1zM583 209h1v11h-1zM584 203h1v17h-1zM585 198h1v22h-1zM586 193h1v27h-1zM587 200h1v20h-1zM588 207h1v13h-1zM589 214h1v6h-1z"/><path fill="url(#gb_spB)" d="M590 215h1v5h-1zM591 211h1v9h-1zM592 206h1v14h-1zM593 202h1v18h-1zM594 197h1v23h-1zM595 193h1v27h-1zM596 194h1v26h-1zM597 195h1v25h-1zM598 197h1v23h-1zM599 199h1v21h-1z"/><path fill="url(#gb_st1)" d="M531 5h1v8h-1zM532 5h1v71h-1zM533 5h1v126h-1zM534 5h1v126h-1zM535 21h1v110h-1z"/><path fill="url(#gb_st2)" d="M536 121h1v10h-1zM537 37h1v94h-1zM538 5h1v126h-1zM539 5h1v110h-1zM540 5h1v68h-1zM541 5h1v26h-1z"/><path fill="url(#gb_d88)" d="M430 152h1v68h-1z"/><path fill="url(#gb_s1l)" d="M458 100h1v120h-1zM459 100h1v120h-1z"/><path fill="url(#gb_l124)" d="M465 135h1v85h-1zM466 135h1v85h-1z"/><path fill="url(#gb_l150)" d="M492 151h1v69h-1z"/><path fill="url(#gb_l182)" d="M522 195h1v25h-1zM523 112h1v108h-1zM524 108h1v112h-1zM525 137h1v83h-1zM526 166h1v54h-1z"/><path fill="#6c4848" d="M393 86h1v1h-1zM395 94h1v1h-1zM401 96h1v1h-1z"/><path fill="#b48484" d="M403 86h1v1h-1zM394 98h1v1h-1zM401 100h1v1h-1zM400 101h1v1h-1zM412 101h1v1h-1z"/><path fill="#906060" d="M401 87h1v1h-1zM391 92h1v1h-1zM390 97h1v1h-1z"/><path fill="#cc9c9c" d="M400 96h1v1h-1zM396 100h1v1h-1zM402 102h1v1h-1z"/><path fill="#842424" d="M389 103h1v1h-1zM389 59h1v1h-1zM389 75h1v1h-1zM389 77h1v1h-1zM389 79h1v1h-1zM389 95h1v1h-1zM389 98h1v1h-1zM389 99h1v1h-1zM389 100h1v1h-1zM389 101h1v1h-1zM389 108h1v1h-1zM389 114h1v1h-1z"/><path fill="#c09c9c" d="M391 103h1v1h-1zM392 105h1v1h-1zM402 106h1v1h-1zM391 109h1v1h-1zM400 109h1v1h-1zM399 110h1v1h-1zM392 112h1v1h-1zM403 114h1v1h-1zM396 116h1v1h-1zM409 111h1v1h-1zM405 114h1v1h-1zM411 114h1v1h-1zM416 115h1v1h-1zM418 115h1v1h-1z"/><path fill="#f0e4e4" d="M388 105h1v1h-1zM389 105h1v1h-1zM393 105h1v1h-1zM388 108h1v1h-1zM394 109h1v1h-1zM395 109h1v1h-1zM392 110h1v1h-1zM393 111h1v1h-1zM395 112h1v1h-1zM396 114h1v1h-1zM398 114h1v1h-1zM402 114h1v1h-1zM392 115h1v1h-1zM388 118h1v1h-1zM396 118h1v1h-1zM393 119h1v1h-1zM395 119h1v1h-1zM392 120h1v1h-1zM397 120h1v1h-1zM390 122h1v1h-1zM395 124h1v1h-1zM396 124h1v1h-1zM401 124h1v1h-1zM403 124h1v1h-1zM391 125h1v1h-1zM395 125h1v1h-1zM394 126h1v1h-1zM401 126h1v1h-1zM397 127h1v1h-1zM392 128h1v1h-1zM392 129h1v1h-1zM394 130h1v1h-1zM399 130h1v1h-1zM393 132h1v1h-1zM395 132h1v1h-1zM396 132h1v1h-1zM403 132h1v1h-1zM395 133h1v1h-1zM397 134h1v1h-1zM400 134h1v1h-1zM402 134h1v1h-1zM389 135h1v1h-1zM393 135h1v1h-1zM398 135h1v1h-1zM391 136h1v1h-1zM393 136h1v1h-1zM400 136h1v1h-1zM402 136h1v1h-1zM392 137h1v1h-1zM395 137h1v1h-1zM388 138h1v1h-1zM391 138h1v1h-1zM395 138h1v1h-1zM397 138h1v1h-1zM395 139h1v1h-1zM398 139h1v1h-1zM391 140h1v1h-1zM392 141h1v1h-1zM395 141h1v1h-1zM400 142h1v1h-1zM394 143h1v1h-1zM400 143h1v1h-1zM388 144h1v1h-1zM403 144h1v1h-1zM395 145h1v1h-1zM396 145h1v1h-1zM397 145h1v1h-1zM388 146h1v1h-1zM394 146h1v1h-1zM395 146h1v1h-1zM388 147h1v1h-1zM401 148h1v1h-1zM399 149h1v1h-1zM391 150h1v1h-1zM397 150h1v1h-1zM403 150h1v1h-1zM395 151h1v1h-1zM396 151h1v1h-1zM397 151h1v1h-1zM398 151h1v1h-1zM403 151h1v1h-1zM401 152h1v1h-1zM409 116h1v1h-1zM413 116h1v1h-1zM410 120h1v1h-1zM405 123h1v1h-1zM406 123h1v1h-1zM408 124h1v1h-1zM416 125h1v1h-1zM423 126h1v1h-1zM419 128h1v1h-1zM405 129h1v1h-1zM407 129h1v1h-1zM413 129h1v1h-1zM424 129h1v1h-1zM410 131h1v1h-1zM411 131h1v1h-1zM425 131h1v1h-1zM415 132h1v1h-1zM408 134h1v1h-1zM413 134h1v1h-1zM427 135h1v1h-1zM409 136h1v1h-1zM415 136h1v1h-1zM410 137h1v1h-1zM412 138h1v1h-1zM416 138h1v1h-1zM411 139h1v1h-1zM423 139h1v1h-1zM406 140h1v1h-1zM412 140h1v1h-1zM404 141h1v1h-1zM415 141h1v1h-1zM420 141h1v1h-1zM422 141h1v1h-1zM421 142h1v1h-1zM411 143h1v1h-1zM419 143h1v1h-1zM426 143h1v1h-1zM417 144h1v1h-1zM421 144h1v1h-1zM404 145h1v1h-1zM407 145h1v1h-1zM412 145h1v1h-1zM429 145h1v1h-1zM429 146h1v1h-1zM426 147h1v1h-1zM428 147h1v1h-1zM405 148h1v1h-1zM411 148h1v1h-1zM412 148h1v1h-1zM414 148h1v1h-1zM415 148h1v1h-1zM427 148h1v1h-1zM429 148h1v1h-1zM409 149h1v1h-1zM415 149h1v1h-1zM422 149h1v1h-1zM404 150h1v1h-1zM410 150h1v1h-1zM420 150h1v1h-1zM409 151h1v1h-1zM415 151h1v1h-1zM420 151h1v1h-1zM422 151h1v1h-1zM425 151h1v1h-1zM426 151h1v1h-1zM410 152h1v1h-1zM411 152h1v1h-1zM420 152h1v1h-1zM421 152h1v1h-1zM422 152h1v1h-1zM426 152h1v1h-1zM429 152h1v1h-1zM408 153h1v1h-1zM412 153h1v1h-1zM420 153h1v1h-1zM426 153h1v1h-1zM427 153h1v1h-1zM428 153h1v1h-1zM429 153h1v1h-1zM415 154h1v1h-1zM418 154h1v1h-1zM419 154h1v1h-1zM421 154h1v1h-1zM422 154h1v1h-1zM426 154h1v1h-1zM427 154h1v1h-1zM428 154h1v1h-1zM419 155h1v1h-1zM421 155h1v1h-1zM425 155h1v1h-1zM427 156h1v1h-1zM429 156h1v1h-1zM428 157h1v1h-1zM429 157h1v1h-1zM439 127h1v1h-1zM438 139h1v1h-1zM436 141h1v1h-1zM437 150h1v1h-1zM439 150h1v1h-1zM436 151h1v1h-1zM439 151h1v1h-1zM445 159h1v1h-1zM450 132h1v1h-1zM456 134h1v1h-1zM448 138h1v1h-1zM451 138h1v1h-1zM457 142h1v1h-1zM446 143h1v1h-1zM451 143h1v1h-1zM468 127h1v1h-1zM464 134h1v1h-1zM469 145h1v1h-1zM469 150h1v1h-1zM469 151h1v1h-1zM470 151h1v1h-1zM467 155h1v1h-1zM463 156h1v1h-1zM464 156h1v1h-1zM471 159h1v1h-1zM483 150h1v1h-1zM484 154h1v1h-1zM477 160h1v1h-1zM484 160h1v1h-1zM477 164h1v1h-1zM478 164h1v1h-1zM482 170h1v1h-1zM486 171h1v1h-1zM473 174h1v1h-1zM483 176h1v1h-1zM483 179h1v1h-1zM484 179h1v1h-1zM485 179h1v1h-1zM486 179h1v1h-1zM472 180h1v1h-1zM471 181h1v1h-1zM473 182h1v1h-1zM477 183h1v1h-1zM485 183h1v1h-1zM483 184h1v1h-1zM484 185h1v1h-1zM479 188h1v1h-1zM482 190h1v1h-1zM473 191h1v1h-1zM480 191h1v1h-1zM472 192h1v1h-1zM476 193h1v1h-1zM484 193h1v1h-1zM486 193h1v1h-1zM474 194h1v1h-1zM478 194h1v1h-1zM479 195h1v1h-1zM477 196h1v1h-1zM479 196h1v1h-1zM486 196h1v1h-1zM484 197h1v1h-1zM482 198h1v1h-1zM484 199h1v1h-1zM473 200h1v1h-1zM486 200h1v1h-1zM472 201h1v1h-1zM473 202h1v1h-1zM475 202h1v1h-1zM477 202h1v1h-1zM483 202h1v1h-1zM480 203h1v1h-1zM477 204h1v1h-1zM474 205h1v1h-1zM486 205h1v1h-1zM474 206h1v1h-1zM483 206h1v1h-1zM486 206h1v1h-1zM484 207h1v1h-1zM472 208h1v1h-1zM486 208h1v1h-1zM472 209h1v1h-1zM477 209h1v1h-1zM481 210h1v1h-1zM475 211h1v1h-1zM476 211h1v1h-1zM482 211h1v1h-1zM486 212h1v1h-1zM472 213h1v1h-1zM476 213h1v1h-1zM483 214h1v1h-1zM484 215h1v1h-1zM485 215h1v1h-1zM470 216h1v1h-1zM472 216h1v1h-1zM473 216h1v1h-1zM481 216h1v1h-1zM486 216h1v1h-1zM476 217h1v1h-1zM479 217h1v1h-1zM482 217h1v1h-1zM470 218h1v1h-1zM474 218h1v1h-1zM483 218h1v1h-1zM472 219h1v1h-1zM478 219h1v1h-1zM502 144h1v1h-1zM486 145h1v1h-1zM490 152h1v1h-1zM486 173h1v1h-1zM486 176h1v1h-1zM526 112h1v1h-1zM531 115h1v1h-1zM526 124h1v1h-1zM542 129h1v1h-1zM545 129h1v1h-1zM543 130h1v1h-1zM527 131h1v1h-1zM530 136h1v1h-1zM546 137h1v1h-1zM530 140h1v1h-1zM527 144h1v1h-1zM542 144h1v1h-1zM543 144h1v1h-1zM545 144h1v1h-1zM544 147h1v1h-1zM527 149h1v1h-1zM528 149h1v1h-1zM527 151h1v1h-1zM527 152h1v1h-1zM529 153h1v1h-1zM543 154h1v1h-1zM513 140h1v1h-1zM508 146h1v1h-1zM512 147h1v1h-1zM514 147h1v1h-1zM507 149h1v1h-1zM511 149h1v1h-1zM513 152h1v1h-1zM510 153h1v1h-1zM512 155h1v1h-1zM513 155h1v1h-1zM508 158h1v1h-1zM510 161h1v1h-1zM512 162h1v1h-1zM514 164h1v1h-1zM511 165h1v1h-1zM510 166h1v1h-1zM510 170h1v1h-1zM515 173h1v1h-1zM514 176h1v1h-1zM515 176h1v1h-1zM515 179h1v1h-1zM513 180h1v1h-1zM515 185h1v1h-1zM516 200h1v1h-1zM564 143h1v1h-1zM556 145h1v1h-1zM560 148h1v1h-1zM561 151h1v1h-1zM564 153h1v1h-1zM563 158h1v1h-1zM563 168h1v1h-1zM565 178h1v1h-1zM565 187h1v1h-1zM566 189h1v1h-1zM585 102h1v1h-1zM582 116h1v1h-1zM584 137h1v1h-1zM585 162h1v1h-1zM582 164h1v1h-1zM585 178h1v1h-1zM544 64h1v1h-1zM541 72h1v1h-1zM532 82h1v1h-1zM531 84h1v1h-1zM529 90h1v1h-1zM529 93h1v1h-1zM532 94h1v1h-1zM547 132h1v1h-1zM544 138h1v1h-1zM544 150h1v1h-1zM515 160h1v1h-1zM509 165h1v1h-1zM511 169h1v1h-1zM522 181h1v1h-1zM521 187h1v1h-1zM519 188h1v1h-1zM519 190h1v1h-1zM520 197h1v1h-1zM517 207h1v1h-1zM567 140h1v1h-1zM563 144h1v1h-1zM567 166h1v1h-1zM561 169h1v1h-1zM563 179h1v1h-1zM566 191h1v1h-1zM564 198h1v1h-1zM594 153h1v1h-1zM582 161h1v1h-1zM590 170h1v1h-1zM587 174h1v1h-1zM589 174h1v1h-1zM594 181h1v1h-1zM592 187h1v1h-1zM595 189h1v1h-1zM596 190h1v1h-1zM589 203h1v1h-1z"/><path fill="#9c8484" d="M388 106h1v1h-1zM390 106h1v1h-1zM391 106h1v1h-1zM396 106h1v1h-1zM402 107h1v1h-1zM401 108h1v1h-1zM390 110h1v1h-1zM394 111h1v1h-1zM392 114h1v1h-1zM399 116h1v1h-1zM400 116h1v1h-1zM392 117h1v1h-1zM413 112h1v1h-1zM413 113h1v1h-1zM409 115h1v1h-1zM417 117h1v1h-1z"/><path fill="#e4cccc" d="M394 107h1v1h-1zM394 108h1v1h-1zM397 108h1v1h-1zM396 112h1v1h-1zM397 114h1v1h-1zM390 115h1v1h-1zM402 115h1v1h-1zM398 116h1v1h-1zM403 116h1v1h-1zM400 117h1v1h-1zM393 120h1v1h-1zM403 120h1v1h-1zM391 122h1v1h-1zM397 122h1v1h-1zM388 124h1v1h-1zM396 125h1v1h-1zM397 125h1v1h-1zM402 128h1v1h-1zM403 129h1v1h-1zM393 130h1v1h-1zM398 130h1v1h-1zM398 131h1v1h-1zM401 131h1v1h-1zM392 133h1v1h-1zM392 134h1v1h-1zM396 134h1v1h-1zM398 134h1v1h-1zM392 135h1v1h-1zM400 135h1v1h-1zM403 135h1v1h-1zM390 136h1v1h-1zM394 136h1v1h-1zM394 137h1v1h-1zM397 137h1v1h-1zM401 138h1v1h-1zM392 139h1v1h-1zM392 140h1v1h-1zM396 140h1v1h-1zM399 140h1v1h-1zM389 142h1v1h-1zM392 142h1v1h-1zM397 142h1v1h-1zM402 142h1v1h-1zM397 144h1v1h-1zM401 144h1v1h-1zM389 145h1v1h-1zM401 145h1v1h-1zM390 146h1v1h-1zM399 146h1v1h-1zM390 147h1v1h-1zM393 147h1v1h-1zM402 147h1v1h-1zM403 147h1v1h-1zM390 149h1v1h-1zM397 149h1v1h-1zM398 150h1v1h-1zM394 151h1v1h-1zM397 152h1v1h-1zM400 152h1v1h-1zM417 108h1v1h-1zM422 111h1v1h-1zM424 113h1v1h-1zM429 113h1v1h-1zM417 114h1v1h-1zM418 114h1v1h-1zM406 117h1v1h-1zM414 118h1v1h-1zM420 119h1v1h-1zM404 120h1v1h-1zM411 120h1v1h-1zM425 121h1v1h-1zM406 124h1v1h-1zM405 125h1v1h-1zM420 125h1v1h-1zM420 128h1v1h-1zM423 128h1v1h-1zM418 129h1v1h-1zM429 129h1v1h-1zM415 130h1v1h-1zM411 132h1v1h-1zM412 133h1v1h-1zM417 134h1v1h-1zM425 134h1v1h-1zM409 135h1v1h-1zM410 135h1v1h-1zM412 135h1v1h-1zM420 135h1v1h-1zM410 136h1v1h-1zM414 136h1v1h-1zM417 136h1v1h-1zM409 137h1v1h-1zM415 137h1v1h-1zM420 137h1v1h-1zM422 137h1v1h-1zM423 137h1v1h-1zM413 138h1v1h-1zM425 138h1v1h-1zM429 138h1v1h-1zM405 139h1v1h-1zM418 139h1v1h-1zM421 139h1v1h-1zM427 140h1v1h-1zM414 141h1v1h-1zM421 141h1v1h-1zM429 141h1v1h-1zM411 142h1v1h-1zM419 142h1v1h-1zM424 142h1v1h-1zM408 143h1v1h-1zM420 143h1v1h-1zM423 143h1v1h-1zM427 143h1v1h-1zM429 143h1v1h-1zM422 144h1v1h-1zM426 144h1v1h-1zM428 144h1v1h-1zM429 144h1v1h-1zM414 145h1v1h-1zM417 145h1v1h-1zM423 146h1v1h-1zM408 147h1v1h-1zM414 147h1v1h-1zM419 147h1v1h-1zM423 147h1v1h-1zM404 148h1v1h-1zM407 148h1v1h-1zM420 148h1v1h-1zM421 148h1v1h-1zM428 148h1v1h-1zM405 149h1v1h-1zM413 149h1v1h-1zM419 149h1v1h-1zM423 149h1v1h-1zM427 149h1v1h-1zM407 150h1v1h-1zM409 150h1v1h-1zM411 150h1v1h-1zM419 150h1v1h-1zM428 150h1v1h-1zM429 150h1v1h-1zM406 151h1v1h-1zM410 151h1v1h-1zM416 151h1v1h-1zM424 151h1v1h-1zM412 152h1v1h-1zM415 152h1v1h-1zM419 152h1v1h-1zM425 152h1v1h-1zM427 152h1v1h-1zM413 153h1v1h-1zM414 153h1v1h-1zM415 153h1v1h-1zM418 153h1v1h-1zM421 153h1v1h-1zM425 153h1v1h-1zM417 154h1v1h-1zM429 154h1v1h-1zM423 155h1v1h-1zM429 155h1v1h-1zM536 113h1v1h-1zM438 125h1v1h-1zM439 134h1v1h-1zM435 141h1v1h-1zM436 142h1v1h-1zM437 157h1v1h-1zM443 173h1v1h-1zM449 128h1v1h-1zM451 140h1v1h-1zM456 143h1v1h-1zM446 144h1v1h-1zM449 144h1v1h-1zM455 145h1v1h-1zM450 148h1v1h-1zM446 151h1v1h-1zM469 136h1v1h-1zM471 140h1v1h-1zM463 141h1v1h-1zM464 142h1v1h-1zM468 142h1v1h-1zM469 142h1v1h-1zM463 143h1v1h-1zM471 146h1v1h-1zM471 152h1v1h-1zM470 153h1v1h-1zM464 155h1v1h-1zM471 156h1v1h-1zM463 157h1v1h-1zM471 157h1v1h-1zM468 158h1v1h-1zM470 160h1v1h-1zM476 140h1v1h-1zM480 149h1v1h-1zM486 150h1v1h-1zM485 152h1v1h-1zM481 153h1v1h-1zM486 153h1v1h-1zM485 154h1v1h-1zM480 157h1v1h-1zM472 158h1v1h-1zM481 159h1v1h-1zM478 162h1v1h-1zM480 162h1v1h-1zM482 162h1v1h-1zM486 163h1v1h-1zM475 165h1v1h-1zM474 168h1v1h-1zM482 168h1v1h-1zM485 168h1v1h-1zM482 169h1v1h-1zM486 170h1v1h-1zM478 172h1v1h-1zM481 172h1v1h-1zM478 173h1v1h-1zM480 173h1v1h-1zM476 174h1v1h-1zM486 174h1v1h-1zM484 175h1v1h-1zM474 176h1v1h-1zM474 177h1v1h-1zM476 178h1v1h-1zM480 181h1v1h-1zM485 181h1v1h-1zM486 182h1v1h-1zM471 183h1v1h-1zM474 183h1v1h-1zM481 183h1v1h-1zM475 184h1v1h-1zM477 184h1v1h-1zM477 185h1v1h-1zM485 185h1v1h-1zM471 186h1v1h-1zM476 186h1v1h-1zM477 187h1v1h-1zM482 187h1v1h-1zM478 188h1v1h-1zM476 189h1v1h-1zM474 190h1v1h-1zM470 192h1v1h-1zM478 193h1v1h-1zM482 194h1v1h-1zM484 194h1v1h-1zM477 195h1v1h-1zM481 196h1v1h-1zM482 196h1v1h-1zM486 197h1v1h-1zM480 199h1v1h-1zM479 200h1v1h-1zM485 200h1v1h-1zM475 201h1v1h-1zM482 201h1v1h-1zM476 202h1v1h-1zM485 202h1v1h-1zM473 203h1v1h-1zM477 203h1v1h-1zM479 203h1v1h-1zM485 203h1v1h-1zM472 205h1v1h-1zM476 205h1v1h-1zM478 206h1v1h-1zM479 206h1v1h-1zM471 207h1v1h-1zM473 207h1v1h-1zM474 207h1v1h-1zM486 207h1v1h-1zM471 208h1v1h-1zM478 208h1v1h-1zM485 209h1v1h-1zM471 210h1v1h-1zM475 210h1v1h-1zM484 210h1v1h-1zM485 211h1v1h-1zM470 212h1v1h-1zM474 212h1v1h-1zM479 212h1v1h-1zM473 213h1v1h-1zM486 214h1v1h-1zM470 215h1v1h-1zM471 215h1v1h-1zM481 215h1v1h-1zM471 216h1v1h-1zM470 217h1v1h-1zM472 218h1v1h-1zM479 218h1v1h-1zM484 218h1v1h-1zM496 142h1v1h-1zM504 148h1v1h-1zM488 149h1v1h-1zM506 149h1v1h-1zM487 150h1v1h-1zM486 151h1v1h-1zM500 151h1v1h-1zM496 152h1v1h-1zM487 156h1v1h-1zM486 166h1v1h-1zM542 101h1v1h-1zM542 113h1v1h-1zM545 115h1v1h-1zM544 118h1v1h-1zM529 122h1v1h-1zM529 126h1v1h-1zM547 128h1v1h-1zM539 130h1v1h-1zM541 130h1v1h-1zM545 132h1v1h-1zM547 133h1v1h-1zM547 134h1v1h-1zM526 135h1v1h-1zM547 135h1v1h-1zM546 136h1v1h-1zM527 141h1v1h-1zM528 146h1v1h-1zM528 150h1v1h-1zM508 140h1v1h-1zM510 141h1v1h-1zM509 143h1v1h-1zM507 148h1v1h-1zM509 151h1v1h-1zM511 151h1v1h-1zM509 154h1v1h-1zM514 155h1v1h-1zM513 156h1v1h-1zM508 159h1v1h-1zM508 160h1v1h-1zM509 161h1v1h-1zM509 164h1v1h-1zM510 165h1v1h-1zM514 170h1v1h-1zM512 171h1v1h-1zM514 171h1v1h-1zM512 176h1v1h-1zM512 178h1v1h-1zM512 179h1v1h-1zM512 180h1v1h-1zM514 182h1v1h-1zM515 183h1v1h-1zM514 191h1v1h-1zM556 131h1v1h-1zM559 151h1v1h-1zM562 159h1v1h-1zM563 161h1v1h-1zM563 163h1v1h-1zM563 174h1v1h-1zM564 197h1v1h-1zM584 123h1v1h-1zM585 128h1v1h-1zM583 135h1v1h-1zM583 144h1v1h-1zM582 150h1v1h-1zM582 179h1v1h-1zM541 49h1v1h-1zM545 67h1v1h-1zM543 73h1v1h-1zM529 99h1v1h-1zM544 110h1v1h-1zM549 131h1v1h-1zM552 131h1v1h-1zM553 133h1v1h-1zM543 147h1v1h-1zM519 155h1v1h-1zM520 166h1v1h-1zM517 167h1v1h-1zM510 169h1v1h-1zM519 175h1v1h-1zM518 182h1v1h-1zM519 189h1v1h-1zM518 191h1v1h-1zM518 203h1v1h-1zM521 204h1v1h-1zM521 205h1v1h-1zM519 217h1v1h-1zM565 147h1v1h-1zM570 149h1v1h-1zM565 162h1v1h-1zM563 165h1v1h-1zM568 170h1v1h-1zM563 183h1v1h-1zM598 168h1v1h-1zM595 178h1v1h-1z"/><path fill="#000000" d="M389 113h1v1h-1zM389 115h1v1h-1zM389 41h1v1h-1zM389 42h1v1h-1zM389 45h1v1h-1zM389 52h1v1h-1zM389 71h1v1h-1zM389 104h1v1h-1zM389 109h1v1h-1zM389 119h1v1h-1zM533 5h1v1h-1zM538 5h1v1h-1zM534 6h1v1h-1zM539 6h1v1h-1zM541 6h1v1h-1zM531 9h1v1h-1zM539 10h1v1h-1zM532 11h1v1h-1zM534 12h1v1h-1zM540 12h1v1h-1zM538 13h1v1h-1zM535 14h1v1h-1zM536 18h1v1h-1zM538 18h1v1h-1zM540 18h1v1h-1zM539 19h1v1h-1zM541 21h1v1h-1zM536 23h1v1h-1zM539 23h1v1h-1zM541 23h1v1h-1zM536 25h1v1h-1zM539 25h1v1h-1zM535 26h1v1h-1zM537 27h1v1h-1zM534 28h1v1h-1zM533 33h1v1h-1zM538 33h1v1h-1zM540 33h1v1h-1zM541 33h1v1h-1zM536 37h1v1h-1zM540 38h1v1h-1zM532 42h1v1h-1zM537 42h1v1h-1zM539 42h1v1h-1zM539 43h1v1h-1zM538 44h1v1h-1zM539 44h1v1h-1zM540 44h1v1h-1zM535 45h1v1h-1zM536 45h1v1h-1zM533 46h1v1h-1zM537 46h1v1h-1zM536 47h1v1h-1zM537 47h1v1h-1zM538 47h1v1h-1zM540 47h1v1h-1zM533 48h1v1h-1zM533 49h1v1h-1zM537 49h1v1h-1zM533 50h1v1h-1zM537 50h1v1h-1zM536 51h1v1h-1zM538 51h1v1h-1zM536 52h1v1h-1zM539 52h1v1h-1zM534 53h1v1h-1zM536 53h1v1h-1zM537 53h1v1h-1zM539 53h1v1h-1zM536 54h1v1h-1zM539 54h1v1h-1zM534 55h1v1h-1zM536 55h1v1h-1zM537 55h1v1h-1zM539 55h1v1h-1zM537 56h1v1h-1zM538 56h1v1h-1zM534 57h1v1h-1zM536 57h1v1h-1zM538 57h1v1h-1zM539 57h1v1h-1zM537 58h1v1h-1zM538 59h1v1h-1zM539 59h1v1h-1zM539 60h1v1h-1zM534 61h1v1h-1zM535 61h1v1h-1zM536 61h1v1h-1zM537 61h1v1h-1zM536 62h1v1h-1zM535 63h1v1h-1zM536 63h1v1h-1zM537 63h1v1h-1zM536 64h1v1h-1zM538 64h1v1h-1zM539 65h1v1h-1zM534 66h1v1h-1zM535 66h1v1h-1zM536 66h1v1h-1zM538 66h1v1h-1zM539 66h1v1h-1zM536 67h1v1h-1zM538 67h1v1h-1zM534 68h1v1h-1zM537 68h1v1h-1zM535 69h1v1h-1zM536 69h1v1h-1zM537 69h1v1h-1zM535 70h1v1h-1zM536 70h1v1h-1zM535 73h1v1h-1zM536 73h1v1h-1zM537 73h1v1h-1zM539 73h1v1h-1zM534 74h1v1h-1zM538 75h1v1h-1zM539 75h1v1h-1zM534 76h1v1h-1zM537 76h1v1h-1zM538 76h1v1h-1zM534 77h1v1h-1zM537 77h1v1h-1zM534 78h1v1h-1zM536 79h1v1h-1zM535 80h1v1h-1zM534 81h1v1h-1zM535 81h1v1h-1zM536 82h1v1h-1zM536 83h1v1h-1zM537 83h1v1h-1zM538 83h1v1h-1zM535 84h1v1h-1zM536 84h1v1h-1zM537 84h1v1h-1zM534 85h1v1h-1zM537 85h1v1h-1zM538 85h1v1h-1zM538 86h1v1h-1zM537 87h1v1h-1zM534 89h1v1h-1zM534 90h1v1h-1zM535 90h1v1h-1zM538 90h1v1h-1zM534 91h1v1h-1zM538 91h1v1h-1zM536 92h1v1h-1zM538 92h1v1h-1zM538 93h1v1h-1zM534 94h1v1h-1zM535 94h1v1h-1zM535 95h1v1h-1zM536 95h1v1h-1zM534 96h1v1h-1zM535 96h1v1h-1zM534 97h1v1h-1zM535 97h1v1h-1zM534 98h1v1h-1zM538 99h1v1h-1zM536 100h1v1h-1zM537 101h1v1h-1zM536 102h1v1h-1zM535 103h1v1h-1zM536 103h1v1h-1zM537 103h1v1h-1zM534 104h1v1h-1zM534 105h1v1h-1zM538 105h1v1h-1zM537 106h1v1h-1zM535 107h1v1h-1zM536 107h1v1h-1zM534 108h1v1h-1zM537 109h1v1h-1zM535 111h1v1h-1zM535 112h1v1h-1zM536 112h1v1h-1zM537 113h1v1h-1zM535 114h1v1h-1zM536 115h1v1h-1zM537 115h1v1h-1zM536 116h1v1h-1zM537 116h1v1h-1zM536 117h1v1h-1zM535 119h1v1h-1zM536 119h1v1h-1zM536 120h1v1h-1zM536 121h1v1h-1zM536 123h1v1h-1zM537 123h1v1h-1zM537 129h1v1h-1zM537 130h1v1h-1zM436 145h1v1h-1zM435 152h1v1h-1zM433 153h1v1h-1zM430 155h1v1h-1zM432 165h1v1h-1zM433 166h1v1h-1zM432 167h1v1h-1zM433 168h1v1h-1zM433 172h1v1h-1zM434 173h1v1h-1zM433 177h1v1h-1zM432 178h1v1h-1zM435 180h1v1h-1zM432 183h1v1h-1zM435 184h1v1h-1zM431 185h1v1h-1zM431 187h1v1h-1zM431 189h1v1h-1zM435 189h1v1h-1zM434 191h1v1h-1zM435 192h1v1h-1zM433 193h1v1h-1zM433 195h1v1h-1zM433 201h1v1h-1zM433 208h1v1h-1zM432 210h1v1h-1zM433 212h1v1h-1zM433 215h1v1h-1zM447 146h1v1h-1zM448 149h1v1h-1zM449 149h1v1h-1zM446 147h1v1h-1zM451 148h1v1h-1zM454 148h1v1h-1zM447 151h1v1h-1zM448 151h1v1h-1zM450 151h1v1h-1zM454 151h1v1h-1zM446 153h1v1h-1zM457 153h1v1h-1zM449 154h1v1h-1zM454 155h1v1h-1zM453 158h1v1h-1zM450 159h1v1h-1zM454 159h1v1h-1zM457 159h1v1h-1zM536 137h1v1h-1zM535 138h1v1h-1zM536 141h1v1h-1zM534 142h1v1h-1zM536 143h1v1h-1zM534 144h1v1h-1zM534 149h1v1h-1zM536 151h1v1h-1zM538 152h1v1h-1zM533 153h1v1h-1zM539 154h1v1h-1zM539 156h1v1h-1zM536 157h1v1h-1zM536 158h1v1h-1zM533 160h1v1h-1zM539 160h1v1h-1zM535 161h1v1h-1zM538 161h1v1h-1zM537 162h1v1h-1zM538 163h1v1h-1zM536 164h1v1h-1zM535 165h1v1h-1zM537 165h1v1h-1zM534 166h1v1h-1zM535 167h1v1h-1zM536 170h1v1h-1zM536 171h1v1h-1zM535 173h1v1h-1zM536 174h1v1h-1zM539 176h1v1h-1zM538 177h1v1h-1zM536 182h1v1h-1zM534 183h1v1h-1zM534 187h1v1h-1zM538 199h1v1h-1zM536 200h1v1h-1zM537 203h1v1h-1zM537 204h1v1h-1zM537 206h1v1h-1zM537 210h1v1h-1z"/><path fill="#9c3030" d="M389 118h1v1h-1zM389 47h1v1h-1zM389 55h1v1h-1zM389 56h1v1h-1zM389 60h1v1h-1zM389 63h1v1h-1zM389 69h1v1h-1zM389 78h1v1h-1zM389 86h1v1h-1zM389 88h1v1h-1zM389 89h1v1h-1zM389 107h1v1h-1zM389 110h1v1h-1zM389 117h1v1h-1z"/><path fill="#fcfcfc" d="M397 118h1v1h-1zM398 118h1v1h-1zM391 119h1v1h-1zM394 119h1v1h-1zM397 119h1v1h-1zM401 119h1v1h-1zM396 120h1v1h-1zM388 122h1v1h-1zM398 122h1v1h-1zM399 122h1v1h-1zM401 122h1v1h-1zM398 123h1v1h-1zM399 123h1v1h-1zM402 124h1v1h-1zM390 125h1v1h-1zM402 125h1v1h-1zM399 126h1v1h-1zM389 127h1v1h-1zM391 127h1v1h-1zM400 127h1v1h-1zM391 128h1v1h-1zM393 128h1v1h-1zM396 128h1v1h-1zM403 128h1v1h-1zM389 129h1v1h-1zM390 129h1v1h-1zM399 129h1v1h-1zM401 129h1v1h-1zM389 130h1v1h-1zM396 130h1v1h-1zM402 130h1v1h-1zM390 131h1v1h-1zM392 131h1v1h-1zM394 131h1v1h-1zM403 131h1v1h-1zM398 132h1v1h-1zM399 132h1v1h-1zM400 132h1v1h-1zM388 133h1v1h-1zM390 133h1v1h-1zM393 133h1v1h-1zM400 133h1v1h-1zM403 133h1v1h-1zM388 134h1v1h-1zM389 134h1v1h-1zM390 134h1v1h-1zM390 135h1v1h-1zM391 135h1v1h-1zM396 135h1v1h-1zM388 137h1v1h-1zM396 137h1v1h-1zM398 138h1v1h-1zM402 138h1v1h-1zM403 138h1v1h-1zM393 139h1v1h-1zM394 139h1v1h-1zM397 139h1v1h-1zM399 139h1v1h-1zM401 139h1v1h-1zM388 140h1v1h-1zM394 140h1v1h-1zM401 140h1v1h-1zM402 140h1v1h-1zM390 141h1v1h-1zM393 141h1v1h-1zM394 141h1v1h-1zM396 141h1v1h-1zM397 141h1v1h-1zM400 141h1v1h-1zM388 142h1v1h-1zM394 142h1v1h-1zM396 142h1v1h-1zM401 142h1v1h-1zM403 142h1v1h-1zM391 143h1v1h-1zM402 143h1v1h-1zM390 144h1v1h-1zM396 144h1v1h-1zM399 144h1v1h-1zM392 145h1v1h-1zM398 145h1v1h-1zM399 145h1v1h-1zM402 145h1v1h-1zM393 146h1v1h-1zM396 146h1v1h-1zM401 146h1v1h-1zM402 146h1v1h-1zM389 147h1v1h-1zM392 147h1v1h-1zM394 147h1v1h-1zM395 147h1v1h-1zM396 147h1v1h-1zM397 147h1v1h-1zM401 147h1v1h-1zM389 148h1v1h-1zM390 148h1v1h-1zM393 148h1v1h-1zM395 148h1v1h-1zM396 148h1v1h-1zM398 148h1v1h-1zM403 148h1v1h-1zM388 149h1v1h-1zM391 149h1v1h-1zM392 149h1v1h-1zM393 149h1v1h-1zM394 149h1v1h-1zM402 149h1v1h-1zM403 149h1v1h-1zM389 150h1v1h-1zM390 150h1v1h-1zM393 150h1v1h-1zM394 150h1v1h-1zM396 150h1v1h-1zM401 150h1v1h-1zM402 150h1v1h-1zM388 151h1v1h-1zM389 151h1v1h-1zM390 151h1v1h-1zM393 151h1v1h-1zM399 151h1v1h-1zM395 152h1v1h-1zM396 152h1v1h-1zM398 152h1v1h-1zM399 152h1v1h-1zM402 152h1v1h-1zM403 152h1v1h-1zM406 118h1v1h-1zM411 118h1v1h-1zM413 118h1v1h-1zM425 119h1v1h-1zM429 119h1v1h-1zM409 121h1v1h-1zM417 121h1v1h-1zM404 122h1v1h-1zM412 122h1v1h-1zM412 123h1v1h-1zM421 123h1v1h-1zM416 124h1v1h-1zM418 124h1v1h-1zM410 125h1v1h-1zM405 127h1v1h-1zM411 127h1v1h-1zM412 127h1v1h-1zM420 127h1v1h-1zM423 127h1v1h-1zM426 127h1v1h-1zM405 128h1v1h-1zM409 128h1v1h-1zM426 128h1v1h-1zM427 128h1v1h-1zM404 129h1v1h-1zM406 129h1v1h-1zM415 129h1v1h-1zM407 130h1v1h-1zM412 130h1v1h-1zM413 130h1v1h-1zM407 131h1v1h-1zM422 131h1v1h-1zM429 131h1v1h-1zM425 132h1v1h-1zM414 133h1v1h-1zM421 133h1v1h-1zM428 133h1v1h-1zM404 134h1v1h-1zM427 134h1v1h-1zM404 135h1v1h-1zM405 135h1v1h-1zM407 135h1v1h-1zM417 135h1v1h-1zM419 135h1v1h-1zM423 135h1v1h-1zM425 135h1v1h-1zM413 136h1v1h-1zM418 136h1v1h-1zM424 136h1v1h-1zM427 136h1v1h-1zM416 137h1v1h-1zM426 137h1v1h-1zM407 138h1v1h-1zM409 138h1v1h-1zM417 138h1v1h-1zM421 138h1v1h-1zM428 138h1v1h-1zM409 139h1v1h-1zM412 139h1v1h-1zM416 139h1v1h-1zM419 139h1v1h-1zM426 139h1v1h-1zM429 139h1v1h-1zM407 140h1v1h-1zM408 140h1v1h-1zM421 140h1v1h-1zM424 140h1v1h-1zM406 141h1v1h-1zM417 141h1v1h-1zM424 141h1v1h-1zM404 142h1v1h-1zM417 142h1v1h-1zM404 143h1v1h-1zM405 143h1v1h-1zM410 143h1v1h-1zM413 143h1v1h-1zM416 143h1v1h-1zM424 143h1v1h-1zM404 144h1v1h-1zM407 144h1v1h-1zM408 144h1v1h-1zM410 144h1v1h-1zM415 144h1v1h-1zM416 144h1v1h-1zM418 144h1v1h-1zM420 144h1v1h-1zM424 144h1v1h-1zM425 144h1v1h-1zM427 144h1v1h-1zM405 145h1v1h-1zM409 145h1v1h-1zM423 145h1v1h-1zM424 145h1v1h-1zM427 145h1v1h-1zM405 146h1v1h-1zM407 146h1v1h-1zM409 146h1v1h-1zM410 146h1v1h-1zM415 146h1v1h-1zM417 146h1v1h-1zM426 146h1v1h-1zM415 147h1v1h-1zM416 147h1v1h-1zM421 147h1v1h-1zM422 147h1v1h-1zM413 148h1v1h-1zM417 148h1v1h-1zM419 148h1v1h-1zM422 148h1v1h-1zM425 148h1v1h-1zM426 148h1v1h-1zM404 149h1v1h-1zM410 149h1v1h-1zM412 149h1v1h-1zM414 149h1v1h-1zM420 149h1v1h-1zM426 149h1v1h-1zM428 149h1v1h-1zM405 150h1v1h-1zM412 150h1v1h-1zM416 150h1v1h-1zM417 150h1v1h-1zM423 150h1v1h-1zM426 150h1v1h-1zM408 151h1v1h-1zM412 151h1v1h-1zM413 151h1v1h-1zM417 151h1v1h-1zM429 151h1v1h-1zM406 152h1v1h-1zM408 152h1v1h-1zM409 152h1v1h-1zM414 152h1v1h-1zM423 152h1v1h-1zM428 152h1v1h-1zM413 154h1v1h-1zM414 154h1v1h-1zM416 154h1v1h-1zM425 154h1v1h-1zM420 155h1v1h-1zM422 155h1v1h-1zM424 155h1v1h-1zM428 155h1v1h-1zM424 156h1v1h-1zM393 152h1v1h-1zM394 153h1v1h-1zM397 154h1v1h-1zM401 154h1v1h-1zM404 154h1v1h-1zM406 154h1v1h-1zM391 155h1v1h-1zM402 155h1v1h-1zM412 155h1v1h-1zM391 156h1v1h-1zM406 156h1v1h-1zM415 157h1v1h-1zM404 158h1v1h-1zM406 158h1v1h-1zM410 158h1v1h-1zM422 158h1v1h-1zM393 159h1v1h-1zM406 159h1v1h-1zM416 159h1v1h-1zM401 160h1v1h-1zM403 160h1v1h-1zM396 161h1v1h-1zM418 161h1v1h-1zM419 161h1v1h-1zM421 161h1v1h-1zM425 161h1v1h-1zM388 163h1v1h-1zM413 163h1v1h-1zM411 164h1v1h-1zM413 164h1v1h-1zM419 164h1v1h-1zM417 165h1v1h-1zM404 166h1v1h-1zM418 166h1v1h-1zM416 167h1v1h-1zM421 167h1v1h-1zM389 123h1v1h-1zM389 124h1v1h-1zM389 133h1v1h-1zM536 44h1v1h-1zM534 48h1v1h-1zM536 48h1v1h-1zM540 48h1v1h-1zM534 50h1v1h-1zM538 50h1v1h-1zM534 51h1v1h-1zM534 52h1v1h-1zM534 60h1v1h-1zM537 60h1v1h-1zM534 64h1v1h-1zM534 65h1v1h-1zM535 65h1v1h-1zM537 66h1v1h-1zM539 67h1v1h-1zM539 68h1v1h-1zM534 69h1v1h-1zM538 69h1v1h-1zM538 70h1v1h-1zM539 70h1v1h-1zM537 74h1v1h-1zM538 74h1v1h-1zM538 77h1v1h-1zM538 80h1v1h-1zM534 82h1v1h-1zM534 84h1v1h-1zM535 87h1v1h-1zM536 88h1v1h-1zM537 88h1v1h-1zM538 88h1v1h-1zM537 89h1v1h-1zM535 91h1v1h-1zM537 91h1v1h-1zM537 92h1v1h-1zM534 93h1v1h-1zM538 94h1v1h-1zM536 99h1v1h-1zM537 100h1v1h-1zM535 101h1v1h-1zM535 104h1v1h-1zM535 105h1v1h-1zM534 106h1v1h-1zM536 106h1v1h-1zM536 111h1v1h-1zM537 114h1v1h-1zM535 117h1v1h-1zM436 118h1v1h-1zM438 120h1v1h-1zM435 122h1v1h-1zM436 131h1v1h-1zM439 131h1v1h-1zM439 135h1v1h-1zM439 136h1v1h-1zM438 141h1v1h-1zM439 143h1v1h-1zM437 149h1v1h-1zM439 153h1v1h-1zM439 155h1v1h-1zM442 135h1v1h-1zM444 144h1v1h-1zM445 167h1v1h-1zM443 177h1v1h-1zM443 202h1v1h-1zM442 207h1v1h-1zM443 218h1v1h-1zM451 126h1v1h-1zM446 133h1v1h-1zM453 134h1v1h-1zM456 135h1v1h-1zM449 136h1v1h-1zM447 138h1v1h-1zM454 139h1v1h-1zM448 142h1v1h-1zM452 143h1v1h-1zM457 143h1v1h-1zM450 144h1v1h-1zM455 144h1v1h-1zM451 145h1v1h-1zM454 145h1v1h-1zM446 146h1v1h-1zM455 146h1v1h-1zM451 147h1v1h-1zM452 147h1v1h-1zM451 146h1v1h-1zM454 146h1v1h-1zM447 147h1v1h-1zM448 148h1v1h-1zM453 148h1v1h-1zM457 148h1v1h-1zM450 149h1v1h-1zM452 149h1v1h-1zM450 150h1v1h-1zM448 153h1v1h-1zM451 153h1v1h-1zM455 153h1v1h-1zM446 154h1v1h-1zM457 154h1v1h-1zM456 161h1v1h-1zM454 165h1v1h-1zM456 165h1v1h-1zM450 166h1v1h-1zM470 128h1v1h-1zM463 133h1v1h-1zM470 137h1v1h-1zM463 140h1v1h-1zM470 143h1v1h-1zM468 144h1v1h-1zM471 145h1v1h-1zM464 146h1v1h-1zM467 146h1v1h-1zM468 146h1v1h-1zM468 147h1v1h-1zM469 148h1v1h-1zM468 149h1v1h-1zM470 149h1v1h-1zM471 151h1v1h-1zM469 152h1v1h-1zM470 152h1v1h-1zM467 153h1v1h-1zM471 153h1v1h-1zM467 154h1v1h-1zM463 155h1v1h-1zM469 155h1v1h-1zM468 156h1v1h-1zM467 157h1v1h-1zM470 157h1v1h-1zM467 158h1v1h-1zM471 158h1v1h-1zM468 159h1v1h-1zM469 159h1v1h-1zM470 138h1v1h-1zM477 139h1v1h-1zM480 142h1v1h-1zM472 143h1v1h-1zM479 143h1v1h-1zM481 152h1v1h-1zM483 154h1v1h-1zM475 157h1v1h-1zM486 157h1v1h-1zM478 159h1v1h-1zM487 159h1v1h-1zM479 160h1v1h-1zM472 162h1v1h-1zM475 162h1v1h-1zM470 164h1v1h-1zM476 166h1v1h-1zM477 166h1v1h-1zM472 167h1v1h-1zM471 170h1v1h-1zM475 170h1v1h-1zM470 171h1v1h-1zM471 171h1v1h-1zM474 171h1v1h-1zM478 171h1v1h-1zM482 172h1v1h-1zM472 173h1v1h-1zM481 173h1v1h-1zM484 173h1v1h-1zM479 174h1v1h-1zM470 176h1v1h-1zM476 176h1v1h-1zM472 177h1v1h-1zM477 177h1v1h-1zM481 177h1v1h-1zM471 178h1v1h-1zM471 179h1v1h-1zM474 179h1v1h-1zM475 179h1v1h-1zM476 179h1v1h-1zM471 180h1v1h-1zM475 181h1v1h-1zM481 181h1v1h-1zM483 181h1v1h-1zM484 181h1v1h-1zM470 182h1v1h-1zM480 182h1v1h-1zM482 182h1v1h-1zM484 183h1v1h-1zM486 183h1v1h-1zM479 184h1v1h-1zM471 185h1v1h-1zM473 185h1v1h-1zM474 187h1v1h-1zM478 187h1v1h-1zM481 187h1v1h-1zM470 188h1v1h-1zM480 188h1v1h-1zM482 188h1v1h-1zM483 188h1v1h-1zM474 189h1v1h-1zM478 189h1v1h-1zM470 190h1v1h-1zM472 190h1v1h-1zM478 190h1v1h-1zM480 190h1v1h-1zM483 190h1v1h-1zM475 191h1v1h-1zM481 191h1v1h-1zM482 191h1v1h-1zM473 192h1v1h-1zM475 192h1v1h-1zM482 192h1v1h-1zM473 193h1v1h-1zM474 193h1v1h-1zM485 193h1v1h-1zM470 194h1v1h-1zM472 194h1v1h-1zM475 195h1v1h-1zM481 195h1v1h-1zM483 195h1v1h-1zM484 195h1v1h-1zM475 196h1v1h-1zM476 196h1v1h-1zM483 196h1v1h-1zM485 196h1v1h-1zM476 197h1v1h-1zM485 197h1v1h-1zM477 198h1v1h-1zM478 198h1v1h-1zM479 198h1v1h-1zM483 198h1v1h-1zM484 198h1v1h-1zM470 199h1v1h-1zM471 199h1v1h-1zM483 199h1v1h-1zM485 199h1v1h-1zM471 200h1v1h-1zM475 200h1v1h-1zM476 200h1v1h-1zM480 200h1v1h-1zM470 201h1v1h-1zM473 201h1v1h-1zM474 201h1v1h-1zM477 201h1v1h-1zM485 201h1v1h-1zM481 202h1v1h-1zM486 202h1v1h-1zM471 203h1v1h-1zM475 203h1v1h-1zM476 203h1v1h-1zM478 203h1v1h-1zM471 204h1v1h-1zM472 204h1v1h-1zM475 204h1v1h-1zM481 204h1v1h-1zM483 204h1v1h-1zM471 206h1v1h-1zM476 206h1v1h-1zM482 207h1v1h-1zM470 208h1v1h-1zM476 208h1v1h-1zM481 208h1v1h-1zM482 208h1v1h-1zM470 209h1v1h-1zM475 209h1v1h-1zM479 209h1v1h-1zM480 209h1v1h-1zM481 209h1v1h-1zM482 209h1v1h-1zM476 210h1v1h-1zM483 210h1v1h-1zM486 210h1v1h-1zM471 211h1v1h-1zM480 211h1v1h-1zM475 212h1v1h-1zM476 212h1v1h-1zM477 212h1v1h-1zM480 212h1v1h-1zM481 212h1v1h-1zM482 212h1v1h-1zM485 213h1v1h-1zM477 214h1v1h-1zM479 214h1v1h-1zM480 214h1v1h-1zM482 214h1v1h-1zM484 214h1v1h-1zM485 214h1v1h-1zM480 215h1v1h-1zM482 215h1v1h-1zM486 215h1v1h-1zM475 216h1v1h-1zM476 216h1v1h-1zM477 216h1v1h-1zM484 216h1v1h-1zM471 217h1v1h-1zM472 217h1v1h-1zM480 217h1v1h-1zM481 217h1v1h-1zM483 217h1v1h-1zM484 217h1v1h-1zM485 217h1v1h-1zM486 217h1v1h-1zM473 218h1v1h-1zM485 218h1v1h-1zM486 218h1v1h-1zM470 219h1v1h-1zM474 219h1v1h-1zM479 219h1v1h-1zM481 219h1v1h-1zM483 219h1v1h-1zM485 219h1v1h-1zM486 219h1v1h-1zM502 141h1v1h-1zM493 147h1v1h-1zM501 147h1v1h-1zM505 149h1v1h-1zM488 150h1v1h-1zM495 150h1v1h-1zM489 151h1v1h-1zM507 151h1v1h-1zM491 152h1v1h-1zM500 152h1v1h-1zM497 155h1v1h-1zM486 156h1v1h-1zM507 156h1v1h-1zM486 165h1v1h-1zM532 98h1v1h-1zM531 108h1v1h-1zM544 112h1v1h-1zM532 115h1v1h-1zM525 116h1v1h-1zM544 117h1v1h-1zM525 122h1v1h-1zM544 122h1v1h-1zM547 122h1v1h-1zM530 123h1v1h-1zM530 125h1v1h-1zM542 126h1v1h-1zM544 129h1v1h-1zM545 130h1v1h-1zM543 131h1v1h-1zM526 139h1v1h-1zM540 139h1v1h-1zM546 139h1v1h-1zM542 149h1v1h-1zM529 150h1v1h-1zM530 150h1v1h-1zM542 151h1v1h-1zM506 140h1v1h-1zM510 140h1v1h-1zM512 141h1v1h-1zM508 143h1v1h-1zM511 144h1v1h-1zM513 144h1v1h-1zM507 145h1v1h-1zM511 145h1v1h-1zM512 145h1v1h-1zM510 146h1v1h-1zM512 146h1v1h-1zM510 147h1v1h-1zM506 148h1v1h-1zM514 148h1v1h-1zM510 150h1v1h-1zM509 152h1v1h-1zM514 153h1v1h-1zM512 154h1v1h-1zM511 155h1v1h-1zM510 156h1v1h-1zM512 158h1v1h-1zM510 159h1v1h-1zM511 160h1v1h-1zM509 162h1v1h-1zM513 165h1v1h-1zM511 166h1v1h-1zM510 167h1v1h-1zM511 170h1v1h-1zM510 171h1v1h-1zM514 173h1v1h-1zM511 175h1v1h-1zM511 176h1v1h-1zM513 177h1v1h-1zM513 183h1v1h-1zM515 184h1v1h-1zM515 190h1v1h-1zM515 195h1v1h-1zM516 201h1v1h-1zM562 133h1v1h-1zM562 137h1v1h-1zM562 139h1v1h-1zM564 139h1v1h-1zM555 140h1v1h-1zM559 140h1v1h-1zM556 141h1v1h-1zM560 142h1v1h-1zM560 143h1v1h-1zM563 145h1v1h-1zM564 147h1v1h-1zM564 154h1v1h-1zM561 155h1v1h-1zM565 163h1v1h-1zM562 164h1v1h-1zM564 166h1v1h-1zM560 167h1v1h-1zM565 167h1v1h-1zM564 168h1v1h-1zM563 177h1v1h-1zM562 180h1v1h-1zM564 181h1v1h-1zM566 182h1v1h-1zM565 186h1v1h-1zM566 193h1v1h-1zM585 107h1v1h-1zM585 134h1v1h-1zM582 147h1v1h-1zM584 157h1v1h-1zM583 163h1v1h-1zM584 165h1v1h-1zM584 167h1v1h-1zM583 170h1v1h-1zM583 176h1v1h-1zM583 180h1v1h-1zM583 186h1v1h-1zM531 35h1v1h-1zM529 69h1v1h-1zM545 84h1v1h-1zM532 86h1v1h-1zM544 89h1v1h-1zM531 98h1v1h-1zM535 133h1v1h-1zM535 134h1v1h-1zM537 134h1v1h-1zM535 136h1v1h-1zM536 136h1v1h-1zM535 139h1v1h-1zM537 139h1v1h-1zM535 140h1v1h-1zM538 147h1v1h-1zM538 149h1v1h-1zM534 151h1v1h-1zM537 151h1v1h-1zM535 153h1v1h-1zM536 153h1v1h-1zM539 153h1v1h-1zM536 155h1v1h-1zM539 155h1v1h-1zM536 156h1v1h-1zM535 157h1v1h-1zM537 157h1v1h-1zM536 159h1v1h-1zM537 159h1v1h-1zM536 160h1v1h-1zM536 162h1v1h-1zM535 163h1v1h-1zM534 165h1v1h-1zM533 166h1v1h-1zM537 166h1v1h-1zM533 167h1v1h-1zM534 168h1v1h-1zM537 168h1v1h-1zM538 168h1v1h-1zM533 170h1v1h-1zM539 171h1v1h-1zM535 172h1v1h-1zM538 172h1v1h-1zM534 173h1v1h-1zM534 175h1v1h-1zM538 175h1v1h-1zM539 175h1v1h-1zM537 177h1v1h-1zM534 178h1v1h-1zM535 179h1v1h-1zM538 179h1v1h-1zM535 180h1v1h-1zM536 180h1v1h-1zM538 180h1v1h-1zM535 182h1v1h-1zM538 183h1v1h-1zM537 184h1v1h-1zM536 185h1v1h-1zM535 186h1v1h-1zM536 186h1v1h-1zM536 187h1v1h-1zM538 194h1v1h-1zM536 195h1v1h-1zM537 195h1v1h-1zM538 196h1v1h-1zM537 197h1v1h-1zM535 203h1v1h-1zM536 203h1v1h-1zM535 204h1v1h-1zM535 205h1v1h-1zM536 206h1v1h-1zM536 207h1v1h-1zM537 212h1v1h-1zM548 119h1v1h-1zM543 122h1v1h-1zM543 124h1v1h-1zM552 125h1v1h-1zM547 127h1v1h-1zM547 131h1v1h-1zM554 133h1v1h-1zM543 135h1v1h-1zM553 136h1v1h-1zM542 139h1v1h-1zM543 146h1v1h-1zM543 151h1v1h-1zM544 151h1v1h-1zM517 155h1v1h-1zM520 157h1v1h-1zM516 160h1v1h-1zM513 162h1v1h-1zM511 168h1v1h-1zM514 174h1v1h-1zM513 182h1v1h-1zM521 192h1v1h-1zM520 201h1v1h-1zM520 202h1v1h-1zM520 205h1v1h-1zM567 146h1v1h-1zM562 150h1v1h-1zM564 151h1v1h-1zM565 154h1v1h-1zM567 155h1v1h-1zM563 160h1v1h-1zM568 162h1v1h-1zM564 169h1v1h-1zM564 177h1v1h-1zM564 183h1v1h-1zM566 183h1v1h-1zM564 186h1v1h-1zM583 156h1v1h-1zM583 158h1v1h-1zM599 161h1v1h-1zM590 174h1v1h-1zM590 187h1v1h-1zM599 187h1v1h-1zM595 190h1v1h-1zM592 191h1v1h-1zM586 192h1v1h-1zM583 199h1v1h-1zM583 200h1v1h-1zM583 207h1v1h-1z"/><path fill="#fcf0f0" d="M403 119h1v1h-1zM395 120h1v1h-1zM394 122h1v1h-1zM392 124h1v1h-1zM397 124h1v1h-1zM399 124h1v1h-1zM390 127h1v1h-1zM393 127h1v1h-1zM398 127h1v1h-1zM388 128h1v1h-1zM398 128h1v1h-1zM400 128h1v1h-1zM394 129h1v1h-1zM388 130h1v1h-1zM395 130h1v1h-1zM397 130h1v1h-1zM399 131h1v1h-1zM396 133h1v1h-1zM394 134h1v1h-1zM401 134h1v1h-1zM403 134h1v1h-1zM395 135h1v1h-1zM397 135h1v1h-1zM401 136h1v1h-1zM402 137h1v1h-1zM403 137h1v1h-1zM393 138h1v1h-1zM394 138h1v1h-1zM399 138h1v1h-1zM388 139h1v1h-1zM389 139h1v1h-1zM400 139h1v1h-1zM389 140h1v1h-1zM390 140h1v1h-1zM395 140h1v1h-1zM388 141h1v1h-1zM399 141h1v1h-1zM402 141h1v1h-1zM395 142h1v1h-1zM388 143h1v1h-1zM393 143h1v1h-1zM391 144h1v1h-1zM394 144h1v1h-1zM395 144h1v1h-1zM398 144h1v1h-1zM400 144h1v1h-1zM403 145h1v1h-1zM391 146h1v1h-1zM397 146h1v1h-1zM400 146h1v1h-1zM403 146h1v1h-1zM398 147h1v1h-1zM399 147h1v1h-1zM400 147h1v1h-1zM388 148h1v1h-1zM391 148h1v1h-1zM392 148h1v1h-1zM396 149h1v1h-1zM398 149h1v1h-1zM400 149h1v1h-1zM388 150h1v1h-1zM400 150h1v1h-1zM391 151h1v1h-1zM392 151h1v1h-1zM401 151h1v1h-1zM409 118h1v1h-1zM407 120h1v1h-1zM409 122h1v1h-1zM404 125h1v1h-1zM411 128h1v1h-1zM416 129h1v1h-1zM408 130h1v1h-1zM420 132h1v1h-1zM422 132h1v1h-1zM426 132h1v1h-1zM428 132h1v1h-1zM424 133h1v1h-1zM409 134h1v1h-1zM424 134h1v1h-1zM426 134h1v1h-1zM406 135h1v1h-1zM416 135h1v1h-1zM416 136h1v1h-1zM422 136h1v1h-1zM404 139h1v1h-1zM407 139h1v1h-1zM413 139h1v1h-1zM409 140h1v1h-1zM422 140h1v1h-1zM425 140h1v1h-1zM405 141h1v1h-1zM411 141h1v1h-1zM419 141h1v1h-1zM423 141h1v1h-1zM415 142h1v1h-1zM423 142h1v1h-1zM426 142h1v1h-1zM428 142h1v1h-1zM407 143h1v1h-1zM428 143h1v1h-1zM413 144h1v1h-1zM406 145h1v1h-1zM410 145h1v1h-1zM420 145h1v1h-1zM404 146h1v1h-1zM408 146h1v1h-1zM406 147h1v1h-1zM407 147h1v1h-1zM424 147h1v1h-1zM429 147h1v1h-1zM424 148h1v1h-1zM421 149h1v1h-1zM429 149h1v1h-1zM414 150h1v1h-1zM415 150h1v1h-1zM421 150h1v1h-1zM422 150h1v1h-1zM405 151h1v1h-1zM407 151h1v1h-1zM411 151h1v1h-1zM419 151h1v1h-1zM421 151h1v1h-1zM427 151h1v1h-1zM428 151h1v1h-1zM405 152h1v1h-1zM407 152h1v1h-1zM413 152h1v1h-1zM416 152h1v1h-1zM417 152h1v1h-1zM424 152h1v1h-1zM406 153h1v1h-1zM409 153h1v1h-1zM410 153h1v1h-1zM416 153h1v1h-1zM419 153h1v1h-1zM422 153h1v1h-1zM424 153h1v1h-1zM420 154h1v1h-1zM424 154h1v1h-1zM426 155h1v1h-1zM427 155h1v1h-1zM425 156h1v1h-1zM426 156h1v1h-1zM398 153h1v1h-1zM387 154h1v1h-1zM395 154h1v1h-1zM402 154h1v1h-1zM388 155h1v1h-1zM390 155h1v1h-1zM396 155h1v1h-1zM400 155h1v1h-1zM387 156h1v1h-1zM402 156h1v1h-1zM408 156h1v1h-1zM409 156h1v1h-1zM411 156h1v1h-1zM413 156h1v1h-1zM415 156h1v1h-1zM388 157h1v1h-1zM418 157h1v1h-1zM421 157h1v1h-1zM401 158h1v1h-1zM416 158h1v1h-1zM387 159h1v1h-1zM412 159h1v1h-1zM414 159h1v1h-1zM422 159h1v1h-1zM414 160h1v1h-1zM420 160h1v1h-1zM392 161h1v1h-1zM402 161h1v1h-1zM393 162h1v1h-1zM404 162h1v1h-1zM405 162h1v1h-1zM406 162h1v1h-1zM408 162h1v1h-1zM411 162h1v1h-1zM429 162h1v1h-1zM401 163h1v1h-1zM411 163h1v1h-1zM414 163h1v1h-1zM425 163h1v1h-1zM400 164h1v1h-1zM414 165h1v1h-1zM420 165h1v1h-1zM435 139h1v1h-1zM437 140h1v1h-1zM435 142h1v1h-1zM435 143h1v1h-1zM439 148h1v1h-1zM445 158h1v1h-1zM447 131h1v1h-1zM448 133h1v1h-1zM453 136h1v1h-1zM446 139h1v1h-1zM446 140h1v1h-1zM448 140h1v1h-1zM449 140h1v1h-1zM454 141h1v1h-1zM455 143h1v1h-1zM448 144h1v1h-1zM449 147h1v1h-1zM447 148h1v1h-1zM446 149h1v1h-1zM447 149h1v1h-1zM446 150h1v1h-1zM466 128h1v1h-1zM463 138h1v1h-1zM469 143h1v1h-1zM463 144h1v1h-1zM464 147h1v1h-1zM470 147h1v1h-1zM463 149h1v1h-1zM467 149h1v1h-1zM468 150h1v1h-1zM463 153h1v1h-1zM468 153h1v1h-1zM470 156h1v1h-1zM468 157h1v1h-1zM469 157h1v1h-1zM483 140h1v1h-1zM479 144h1v1h-1zM480 144h1v1h-1zM476 152h1v1h-1zM470 155h1v1h-1zM474 155h1v1h-1zM475 155h1v1h-1zM487 155h1v1h-1zM472 159h1v1h-1zM470 163h1v1h-1zM483 164h1v1h-1zM484 164h1v1h-1zM479 165h1v1h-1zM480 166h1v1h-1zM474 167h1v1h-1zM477 167h1v1h-1zM484 167h1v1h-1zM486 168h1v1h-1zM476 170h1v1h-1zM481 170h1v1h-1zM481 171h1v1h-1zM472 172h1v1h-1zM471 173h1v1h-1zM481 174h1v1h-1zM480 176h1v1h-1zM482 176h1v1h-1zM483 177h1v1h-1zM484 177h1v1h-1zM478 178h1v1h-1zM477 179h1v1h-1zM473 180h1v1h-1zM474 180h1v1h-1zM484 182h1v1h-1zM478 183h1v1h-1zM480 183h1v1h-1zM486 184h1v1h-1zM475 185h1v1h-1zM471 187h1v1h-1zM486 187h1v1h-1zM475 188h1v1h-1zM481 188h1v1h-1zM485 188h1v1h-1zM475 189h1v1h-1zM477 189h1v1h-1zM482 189h1v1h-1zM479 190h1v1h-1zM486 190h1v1h-1zM470 191h1v1h-1zM474 191h1v1h-1zM477 192h1v1h-1zM483 192h1v1h-1zM484 192h1v1h-1zM483 194h1v1h-1zM474 195h1v1h-1zM476 195h1v1h-1zM480 195h1v1h-1zM470 196h1v1h-1zM479 197h1v1h-1zM470 198h1v1h-1zM477 199h1v1h-1zM481 199h1v1h-1zM482 199h1v1h-1zM486 199h1v1h-1zM479 201h1v1h-1zM472 202h1v1h-1zM474 202h1v1h-1zM478 202h1v1h-1zM474 203h1v1h-1zM484 203h1v1h-1zM473 204h1v1h-1zM474 204h1v1h-1zM480 204h1v1h-1zM486 204h1v1h-1zM475 205h1v1h-1zM478 205h1v1h-1zM482 205h1v1h-1zM484 205h1v1h-1zM472 206h1v1h-1zM480 206h1v1h-1zM484 206h1v1h-1zM480 207h1v1h-1zM478 209h1v1h-1zM483 209h1v1h-1zM484 209h1v1h-1zM473 211h1v1h-1zM477 211h1v1h-1zM484 211h1v1h-1zM471 212h1v1h-1zM473 212h1v1h-1zM478 212h1v1h-1zM484 212h1v1h-1zM480 213h1v1h-1zM486 213h1v1h-1zM474 214h1v1h-1zM478 214h1v1h-1zM475 215h1v1h-1zM474 216h1v1h-1zM477 217h1v1h-1zM471 218h1v1h-1zM476 218h1v1h-1zM480 218h1v1h-1zM484 219h1v1h-1zM501 141h1v1h-1zM500 147h1v1h-1zM489 148h1v1h-1zM489 149h1v1h-1zM489 150h1v1h-1zM498 150h1v1h-1zM489 152h1v1h-1zM486 164h1v1h-1zM486 181h1v1h-1zM544 106h1v1h-1zM531 110h1v1h-1zM542 124h1v1h-1zM531 127h1v1h-1zM543 128h1v1h-1zM541 132h1v1h-1zM545 135h1v1h-1zM547 137h1v1h-1zM542 138h1v1h-1zM541 141h1v1h-1zM530 142h1v1h-1zM544 142h1v1h-1zM527 146h1v1h-1zM542 150h1v1h-1zM506 144h1v1h-1zM510 149h1v1h-1zM508 150h1v1h-1zM513 150h1v1h-1zM514 151h1v1h-1zM507 153h1v1h-1zM508 154h1v1h-1zM509 155h1v1h-1zM514 156h1v1h-1zM513 157h1v1h-1zM514 157h1v1h-1zM514 159h1v1h-1zM509 163h1v1h-1zM510 168h1v1h-1zM513 168h1v1h-1zM514 192h1v1h-1zM557 130h1v1h-1zM560 139h1v1h-1zM559 148h1v1h-1zM560 149h1v1h-1zM560 154h1v1h-1zM559 157h1v1h-1zM566 190h1v1h-1zM584 101h1v1h-1zM583 114h1v1h-1zM584 134h1v1h-1zM583 147h1v1h-1zM584 151h1v1h-1zM583 159h1v1h-1zM585 188h1v1h-1zM530 88h1v1h-1zM532 95h1v1h-1zM530 98h1v1h-1zM530 99h1v1h-1zM546 135h1v1h-1zM543 142h1v1h-1zM542 147h1v1h-1zM514 154h1v1h-1zM508 156h1v1h-1zM519 168h1v1h-1zM512 170h1v1h-1zM516 173h1v1h-1zM517 173h1v1h-1zM516 175h1v1h-1zM522 177h1v1h-1zM520 178h1v1h-1zM521 185h1v1h-1zM515 186h1v1h-1zM519 196h1v1h-1zM520 200h1v1h-1zM568 147h1v1h-1zM567 174h1v1h-1zM564 193h1v1h-1zM564 196h1v1h-1zM593 173h1v1h-1zM587 185h1v1h-1zM597 194h1v1h-1zM599 196h1v1h-1z"/><path fill="#c08484" d="M389 125h1v1h-1zM389 131h1v1h-1zM389 138h1v1h-1zM389 143h1v1h-1zM389 144h1v1h-1zM389 146h1v1h-1zM389 149h1v1h-1zM389 137h1v1h-1z"/><path fill="#e4c0c0" d="M389 126h1v1h-1zM389 141h1v1h-1zM389 128h1v1h-1zM389 132h1v1h-1z"/><path fill="#c06060" d="M418 117h1v1h-1zM418 128h1v1h-1zM418 145h1v1h-1zM418 147h1v1h-1zM418 98h1v1h-1zM418 109h1v1h-1zM418 111h1v1h-1zM418 113h1v1h-1zM418 120h1v1h-1zM418 130h1v1h-1zM418 137h1v1h-1zM418 138h1v1h-1zM418 150h1v1h-1zM418 151h1v1h-1z"/><path fill="#e49090" d="M418 134h1v1h-1zM418 140h1v1h-1zM418 141h1v1h-1zM418 142h1v1h-1zM418 88h1v1h-1zM418 89h1v1h-1zM418 96h1v1h-1zM418 100h1v1h-1zM418 103h1v1h-1zM418 121h1v1h-1zM418 132h1v1h-1zM418 135h1v1h-1zM418 149h1v1h-1z"/><path fill="#9c3c3c" d="M418 146h1v1h-1zM418 148h1v1h-1zM418 152h1v1h-1zM418 118h1v1h-1zM418 119h1v1h-1zM418 126h1v1h-1zM418 127h1v1h-1zM418 133h1v1h-1z"/><path fill="#602424" d="M389 40h1v1h-1zM389 66h1v1h-1zM389 70h1v1h-1zM389 74h1v1h-1zM389 76h1v1h-1zM389 83h1v1h-1zM389 85h1v1h-1zM389 111h1v1h-1zM389 116h1v1h-1z"/><path fill="#b40000" d="M462 5h1v1h-1zM462 7h1v1h-1zM460 8h1v1h-1zM462 9h1v1h-1zM461 14h1v1h-1zM459 18h1v1h-1zM459 19h1v1h-1zM463 19h1v1h-1zM463 21h1v1h-1zM460 26h1v1h-1zM460 27h1v1h-1zM463 28h1v1h-1zM460 30h1v1h-1zM461 30h1v1h-1zM459 36h1v1h-1zM461 38h1v1h-1zM459 41h1v1h-1zM461 41h1v1h-1zM462 49h1v1h-1z"/><path fill="#cc0c0c" d="M462 6h1v1h-1zM461 7h1v1h-1zM462 8h1v1h-1zM459 10h1v1h-1zM463 11h1v1h-1zM461 12h1v1h-1zM462 12h1v1h-1zM460 13h1v1h-1zM461 17h1v1h-1zM463 17h1v1h-1zM460 18h1v1h-1zM460 25h1v1h-1zM459 27h1v1h-1zM461 27h1v1h-1zM462 35h1v1h-1zM463 39h1v1h-1zM460 43h1v1h-1zM461 51h1v1h-1zM459 53h1v1h-1z"/><path fill="#e43030" d="M463 7h1v1h-1zM461 8h1v1h-1zM460 9h1v1h-1zM462 11h1v1h-1zM463 12h1v1h-1zM461 13h1v1h-1zM461 16h1v1h-1zM460 21h1v1h-1zM459 22h1v1h-1zM461 23h1v1h-1zM463 25h1v1h-1zM461 31h1v1h-1zM463 38h1v1h-1zM461 40h1v1h-1zM463 56h1v1h-1z"/><path fill="#848484" d="M531 5h1v1h-1zM537 6h1v1h-1zM538 6h1v1h-1zM534 7h1v1h-1zM540 7h1v1h-1zM541 9h1v1h-1zM536 10h1v1h-1zM532 13h1v1h-1zM533 13h1v1h-1zM537 13h1v1h-1zM532 14h1v1h-1zM538 16h1v1h-1zM532 17h1v1h-1zM539 17h1v1h-1zM540 17h1v1h-1zM537 18h1v1h-1zM541 18h1v1h-1zM534 19h1v1h-1zM538 19h1v1h-1zM536 21h1v1h-1zM537 23h1v1h-1zM538 23h1v1h-1zM534 25h1v1h-1zM535 25h1v1h-1zM532 26h1v1h-1zM533 26h1v1h-1zM536 26h1v1h-1zM532 28h1v1h-1zM536 28h1v1h-1zM540 30h1v1h-1zM535 31h1v1h-1zM533 32h1v1h-1zM537 32h1v1h-1zM538 32h1v1h-1zM537 33h1v1h-1zM538 34h1v1h-1zM541 35h1v1h-1zM534 36h1v1h-1zM540 36h1v1h-1zM532 38h1v1h-1zM536 38h1v1h-1zM541 38h1v1h-1zM536 39h1v1h-1zM535 40h1v1h-1zM532 41h1v1h-1zM534 41h1v1h-1zM533 42h1v1h-1zM538 42h1v1h-1zM540 43h1v1h-1zM541 43h1v1h-1zM534 44h1v1h-1zM541 44h1v1h-1z"/><path fill="#242424" d="M541 5h1v1h-1zM531 6h1v1h-1zM539 7h1v1h-1zM535 8h1v1h-1zM540 8h1v1h-1zM538 9h1v1h-1zM531 10h1v1h-1zM535 11h1v1h-1zM531 12h1v1h-1zM535 12h1v1h-1zM540 13h1v1h-1zM538 14h1v1h-1zM539 15h1v1h-1zM533 16h1v1h-1zM534 16h1v1h-1zM535 16h1v1h-1zM536 17h1v1h-1zM533 18h1v1h-1zM533 21h1v1h-1zM540 22h1v1h-1zM532 23h1v1h-1zM541 24h1v1h-1zM533 28h1v1h-1zM533 29h1v1h-1zM537 29h1v1h-1zM540 29h1v1h-1zM536 31h1v1h-1zM532 35h1v1h-1zM536 35h1v1h-1zM540 35h1v1h-1zM533 36h1v1h-1zM539 36h1v1h-1zM532 37h1v1h-1zM534 37h1v1h-1zM533 38h1v1h-1zM536 41h1v1h-1zM537 41h1v1h-1zM539 41h1v1h-1zM535 42h1v1h-1zM537 43h1v1h-1zM448 146h1v1h-1zM453 146h1v1h-1zM447 150h1v1h-1zM456 147h1v1h-1zM451 149h1v1h-1zM451 150h1v1h-1zM452 151h1v1h-1zM448 152h1v1h-1zM453 152h1v1h-1zM451 156h1v1h-1zM453 156h1v1h-1zM456 157h1v1h-1zM457 157h1v1h-1zM455 159h1v1h-1zM456 160h1v1h-1zM452 162h1v1h-1zM457 164h1v1h-1z"/><path fill="#ccd8f0" d="M533 45h1v1h-1zM534 45h1v1h-1zM535 46h1v1h-1zM535 49h1v1h-1zM539 49h1v1h-1zM535 50h1v1h-1zM537 52h1v1h-1zM537 54h1v1h-1zM535 56h1v1h-1zM537 57h1v1h-1zM535 59h1v1h-1zM537 59h1v1h-1zM536 60h1v1h-1zM537 64h1v1h-1zM534 67h1v1h-1zM535 72h1v1h-1zM536 76h1v1h-1zM535 78h1v1h-1zM536 78h1v1h-1zM534 79h1v1h-1zM538 79h1v1h-1zM536 81h1v1h-1zM537 82h1v1h-1zM534 83h1v1h-1zM534 86h1v1h-1zM538 87h1v1h-1zM534 88h1v1h-1zM538 89h1v1h-1zM536 91h1v1h-1zM538 96h1v1h-1zM537 97h1v1h-1zM538 97h1v1h-1zM534 99h1v1h-1zM538 101h1v1h-1zM535 102h1v1h-1zM536 105h1v1h-1zM535 113h1v1h-1zM535 115h1v1h-1zM535 116h1v1h-1zM537 117h1v1h-1zM537 119h1v1h-1zM535 120h1v1h-1zM537 121h1v1h-1zM535 122h1v1h-1zM537 122h1v1h-1zM535 124h1v1h-1zM537 126h1v1h-1zM536 127h1v1h-1zM536 128h1v1h-1zM536 129h1v1h-1zM535 130h1v1h-1z"/><path fill="#e46c6c" d="M432 115h1v1h-1zM434 115h1v1h-1zM432 118h1v1h-1zM431 120h1v1h-1zM430 122h1v1h-1zM432 122h1v1h-1zM434 124h1v1h-1zM434 125h1v1h-1zM433 126h1v1h-1zM430 129h1v1h-1zM434 132h1v1h-1zM430 135h1v1h-1zM430 136h1v1h-1zM431 136h1v1h-1zM430 142h1v1h-1zM431 144h1v1h-1z"/><path fill="#f09c9c" d="M431 116h1v1h-1zM434 121h1v1h-1zM431 127h1v1h-1zM433 127h1v1h-1zM434 129h1v1h-1zM433 132h1v1h-1zM433 138h1v1h-1zM432 141h1v1h-1zM431 143h1v1h-1zM434 144h1v1h-1z"/><path fill="#c03030" d="M433 117h1v1h-1zM434 122h1v1h-1zM430 127h1v1h-1zM434 127h1v1h-1zM433 129h1v1h-1zM432 133h1v1h-1zM432 134h1v1h-1zM433 134h1v1h-1zM431 137h1v1h-1zM432 139h1v1h-1zM432 140h1v1h-1zM432 142h1v1h-1zM433 142h1v1h-1z"/><path fill="#9c1818" d="M432 119h1v1h-1zM432 120h1v1h-1zM430 123h1v1h-1zM432 124h1v1h-1zM433 125h1v1h-1zM432 126h1v1h-1zM430 128h1v1h-1zM431 133h1v1h-1zM433 133h1v1h-1zM434 133h1v1h-1zM433 135h1v1h-1zM434 135h1v1h-1zM434 142h1v1h-1z"/><path fill="#b42424" d="M432 145h1v1h-1zM430 147h1v1h-1zM433 147h1v1h-1zM436 149h1v1h-1zM434 150h1v1h-1zM432 151h1v1h-1zM435 151h1v1h-1zM431 155h1v1h-1zM431 165h1v1h-1zM435 177h1v1h-1zM432 179h1v1h-1zM434 187h1v1h-1zM431 190h1v1h-1zM432 198h1v1h-1zM435 198h1v1h-1zM434 199h1v1h-1zM434 216h1v1h-1z"/><path fill="#900c0c" d="M434 145h1v1h-1zM431 146h1v1h-1zM436 147h1v1h-1zM433 149h1v1h-1zM433 152h1v1h-1zM434 152h1v1h-1zM431 153h1v1h-1zM433 154h1v1h-1zM431 162h1v1h-1zM434 168h1v1h-1zM434 170h1v1h-1zM435 170h1v1h-1zM434 171h1v1h-1zM435 175h1v1h-1zM435 182h1v1h-1zM431 184h1v1h-1zM432 191h1v1h-1zM432 192h1v1h-1zM433 196h1v1h-1zM434 202h1v1h-1zM434 208h1v1h-1zM433 210h1v1h-1zM431 214h1v1h-1zM431 216h1v1h-1zM433 216h1v1h-1zM431 219h1v1h-1zM434 219h1v1h-1z"/><path fill="#cc6060" d="M434 147h1v1h-1zM433 151h1v1h-1zM434 151h1v1h-1zM431 154h1v1h-1zM430 156h1v1h-1zM430 157h1v1h-1zM435 157h1v1h-1zM430 158h1v1h-1zM431 159h1v1h-1zM431 160h1v1h-1zM431 161h1v1h-1zM435 162h1v1h-1zM432 168h1v1h-1zM433 170h1v1h-1zM435 172h1v1h-1zM432 174h1v1h-1zM431 176h1v1h-1zM435 176h1v1h-1zM432 181h1v1h-1zM435 183h1v1h-1zM433 184h1v1h-1zM435 185h1v1h-1zM434 188h1v1h-1zM433 189h1v1h-1zM432 193h1v1h-1zM434 195h1v1h-1zM435 195h1v1h-1zM435 197h1v1h-1zM433 198h1v1h-1zM434 200h1v1h-1zM431 201h1v1h-1zM432 201h1v1h-1zM431 205h1v1h-1zM432 206h1v1h-1zM431 208h1v1h-1zM432 208h1v1h-1zM434 209h1v1h-1zM434 218h1v1h-1z"/><path fill="#e49c9c" d="M432 149h1v1h-1zM435 150h1v1h-1zM436 150h1v1h-1zM432 157h1v1h-1zM434 157h1v1h-1zM431 158h1v1h-1zM433 158h1v1h-1zM430 159h1v1h-1zM434 159h1v1h-1zM430 162h1v1h-1zM432 162h1v1h-1zM434 162h1v1h-1zM435 171h1v1h-1zM431 181h1v1h-1zM434 182h1v1h-1zM431 183h1v1h-1zM435 188h1v1h-1zM432 190h1v1h-1zM431 191h1v1h-1zM435 193h1v1h-1zM435 194h1v1h-1zM431 198h1v1h-1zM434 198h1v1h-1zM433 206h1v1h-1zM431 217h1v1h-1z"/><path fill="#e4e4f0" d="M537 133h1v1h-1zM537 136h1v1h-1zM537 137h1v1h-1zM538 143h1v1h-1zM537 148h1v1h-1zM538 150h1v1h-1zM538 154h1v1h-1zM538 157h1v1h-1zM538 165h1v1h-1zM539 168h1v1h-1zM538 169h1v1h-1zM539 169h1v1h-1zM535 170h1v1h-1zM538 171h1v1h-1zM535 176h1v1h-1zM538 176h1v1h-1zM536 181h1v1h-1zM534 186h1v1h-1zM534 188h1v1h-1zM535 188h1v1h-1zM534 189h1v1h-1zM535 191h1v1h-1zM537 191h1v1h-1zM537 198h1v1h-1zM535 200h1v1h-1zM536 201h1v1h-1zM536 205h1v1h-1zM535 208h1v1h-1zM537 214h1v1h-1z"/><path fill="#3c60e4" d="M536 134h1v1h-1zM535 142h1v1h-1zM537 144h1v1h-1zM536 145h1v1h-1zM534 146h1v1h-1zM535 146h1v1h-1zM537 146h1v1h-1zM536 147h1v1h-1zM537 149h1v1h-1zM535 152h1v1h-1zM535 155h1v1h-1zM534 156h1v1h-1zM538 156h1v1h-1zM533 157h1v1h-1zM534 157h1v1h-1zM537 161h1v1h-1zM535 162h1v1h-1zM539 164h1v1h-1zM534 167h1v1h-1zM536 173h1v1h-1zM536 178h1v1h-1zM534 180h1v1h-1zM537 180h1v1h-1zM534 181h1v1h-1zM534 182h1v1h-1zM537 186h1v1h-1zM537 193h1v1h-1zM535 194h1v1h-1zM538 195h1v1h-1zM536 197h1v1h-1zM537 201h1v1h-1zM536 202h1v1h-1zM535 207h1v1h-1zM536 209h1v1h-1zM537 215h1v1h-1z"/><path fill="#c0cce4" d="M536 138h1v1h-1zM535 144h1v1h-1zM536 144h1v1h-1zM538 144h1v1h-1zM535 145h1v1h-1zM534 147h1v1h-1zM535 147h1v1h-1zM535 150h1v1h-1zM536 150h1v1h-1zM539 157h1v1h-1zM537 158h1v1h-1zM535 159h1v1h-1zM539 159h1v1h-1zM539 161h1v1h-1zM533 162h1v1h-1zM534 162h1v1h-1zM536 163h1v1h-1zM537 164h1v1h-1zM538 164h1v1h-1zM533 165h1v1h-1zM535 166h1v1h-1zM535 169h1v1h-1zM539 173h1v1h-1zM537 179h1v1h-1zM538 182h1v1h-1zM535 184h1v1h-1zM538 184h1v1h-1zM538 186h1v1h-1zM536 204h1v1h-1z"/><circle cx="493.6" cy="193.6" r="3.5" fill="none" stroke="#e0203a" stroke-width="1.1"/><text x="391.4" y="18.6" font-size="12.0" text-anchor="start" fill="#e8e8e8" >(b)</text><rect x="266.5" y="4.5" width="19.5" height="215" fill="url(#cbA)" stroke="#808080" stroke-width="1"/><rect x="608.5" y="4.5" width="19" height="207.5" fill="url(#cbB)"/><rect x="608.5" y="212" width="19" height="7.5" fill="url(#cbB2)"/><line x1="609" y1="211.8" x2="627" y2="211.8" stroke="#888" stroke-width="0.8" stroke-dasharray="1.5,1.5"/><rect x="608.5" y="4.5" width="19" height="215" fill="none" stroke="#808080" stroke-width="1"/><text x="41.6" y="8.5" font-size="10.0" text-anchor="end" fill="#404040" >0.40</text><text x="383.6" y="8.5" font-size="10.0" text-anchor="end" fill="#404040" >0.40</text><text x="41.6" y="35.3" font-size="10.0" text-anchor="end" fill="#404040" >0.35</text><text x="383.6" y="35.3" font-size="10.0" text-anchor="end" fill="#404040" >0.35</text><text x="41.6" y="62.1" font-size="10.0" text-anchor="end" fill="#404040" >0.30</text><text x="383.6" y="62.1" font-size="10.0" text-anchor="end" fill="#404040" >0.30</text><text x="41.6" y="88.9" font-size="10.0" text-anchor="end" fill="#404040" >0.25</text><text x="383.6" y="88.9" font-size="10.0" text-anchor="end" fill="#404040" >0.25</text><text x="41.6" y="115.7" font-size="10.0" text-anchor="end" fill="#404040" >0.20</text><text x="383.6" y="115.7" font-size="10.0" text-anchor="end" fill="#404040" >0.20</text><text x="41.6" y="142.5" font-size="10.0" text-anchor="end" fill="#404040" >0.15</text><text x="383.6" y="142.5" font-size="10.0" text-anchor="end" fill="#404040" >0.15</text><text x="41.6" y="169.3" font-size="10.0" text-anchor="end" fill="#404040" >0.10</text><text x="383.6" y="169.3" font-size="10.0" text-anchor="end" fill="#404040" >0.10</text><text x="41.6" y="196.1" font-size="10.0" text-anchor="end" fill="#404040" >0.05</text><text x="383.6" y="196.1" font-size="10.0" text-anchor="end" fill="#404040" >0.05</text><text x="41.6" y="222.9" font-size="10.0" text-anchor="end" fill="#404040" >0</text><text x="383.6" y="222.9" font-size="10.0" text-anchor="end" fill="#404040" >0</text><text x="46.7" y="231.0" font-size="10.0" text-anchor="middle" fill="#404040" >3.2</text><text x="388.7" y="231.0" font-size="10.0" text-anchor="middle" fill="#404040" >3.2</text><text x="97.3" y="231.0" font-size="10.0" text-anchor="middle" fill="#404040" >4.2</text><text x="439.3" y="231.0" font-size="10.0" text-anchor="middle" fill="#404040" >4.2</text><text x="150.7" y="231.0" font-size="10.0" text-anchor="middle" fill="#404040" >5.2</text><text x="492.7" y="231.0" font-size="10.0" text-anchor="middle" fill="#404040" >5.2</text><text x="204.5" y="231.0" font-size="10.0" text-anchor="middle" fill="#404040" >6.2</text><text x="546.5" y="231.0" font-size="10.0" text-anchor="middle" fill="#404040" >6.2</text><text x="258.0" y="231.0" font-size="10.0" text-anchor="middle" fill="#404040" >7.2</text><text x="600.0" y="231.0" font-size="10.0" text-anchor="middle" fill="#404040" >7.2</text><text x="290.5" y="9.0" font-size="10.0" text-anchor="start" fill="#404040" >0.30</text><text x="290.5" y="44.8" font-size="10.0" text-anchor="start" fill="#404040" >0.25</text><line x1="283.5" y1="40.0" x2="286" y2="40.0" stroke="#333" stroke-width="0.8"/><text x="290.5" y="80.5" font-size="10.0" text-anchor="start" fill="#404040" >0.20</text><line x1="283.5" y1="75.8" x2="286" y2="75.8" stroke="#333" stroke-width="0.8"/><text x="290.5" y="116.2" font-size="10.0" text-anchor="start" fill="#404040" >0.15</text><line x1="283.5" y1="111.5" x2="286" y2="111.5" stroke="#333" stroke-width="0.8"/><text x="290.5" y="152.0" font-size="10.0" text-anchor="start" fill="#404040" >0.10</text><line x1="283.5" y1="147.3" x2="286" y2="147.3" stroke="#333" stroke-width="0.8"/><text x="290.5" y="187.8" font-size="10.0" text-anchor="start" fill="#404040" >0.05</text><line x1="283.5" y1="183.1" x2="286" y2="183.1" stroke="#333" stroke-width="0.8"/><text x="290.5" y="223.5" font-size="10.0" text-anchor="start" fill="#404040" >0.00</text><text x="630.3" y="22.9" font-size="10.0" text-anchor="start" fill="#404040" >1.2</text><line x1="625" y1="21.5" x2="627.5" y2="21.5" stroke="#333" stroke-width="0.8"/><text x="630.3" y="55.9" font-size="10.0" text-anchor="start" fill="#404040" >1.0</text><line x1="625" y1="54.5" x2="627.5" y2="54.5" stroke="#333" stroke-width="0.8"/><text x="630.3" y="88.9" font-size="10.0" text-anchor="start" fill="#404040" >0.8</text><line x1="625" y1="87.5" x2="627.5" y2="87.5" stroke="#333" stroke-width="0.8"/><text x="630.3" y="121.9" font-size="10.0" text-anchor="start" fill="#404040" >0.6</text><line x1="625" y1="120.5" x2="627.5" y2="120.5" stroke="#333" stroke-width="0.8"/><text x="630.3" y="154.9" font-size="10.0" text-anchor="start" fill="#404040" >0.4</text><line x1="625" y1="153.5" x2="627.5" y2="153.5" stroke="#333" stroke-width="0.8"/><text x="630.3" y="187.9" font-size="10.0" text-anchor="start" fill="#404040" >0.2</text><line x1="625" y1="186.5" x2="627.5" y2="186.5" stroke="#333" stroke-width="0.8"/><text x="630.3" y="220.9" font-size="10.0" text-anchor="start" fill="#404040" >0.0</text><line x1="627.5" y1="212" x2="637.5" y2="206.8" stroke="#444" stroke-width="0.8"/><text x="640.0" y="211.0" font-size="10.0" text-anchor="middle" fill="#404040" >*</text><text x="152.5" y="248.0" font-size="13.0" text-anchor="middle" fill="#404040" textLength="118.5" lengthAdjust="spacingAndGlyphs">Semi-Major Axis (au)</text><text x="494.5" y="248.0" font-size="13.0" text-anchor="middle" fill="#404040" textLength="118.5" lengthAdjust="spacingAndGlyphs">Semi-Major Axis (au)</text><text x="0.0" y="0.0" font-size="13.0" text-anchor="middle" fill="#404040" textLength="67" lengthAdjust="spacingAndGlyphs" transform="translate(11.3,112.8) rotate(-90)">Eccentricity</text><text x="0.0" y="0.0" font-size="13.0" text-anchor="middle" fill="#404040" textLength="123.5" lengthAdjust="spacingAndGlyphs" transform="translate(318,119.9) rotate(90)">Eccentricity maximum</text><text x="0.0" y="0.0" font-size="13.0" text-anchor="middle" fill="#404040" textLength="178" lengthAdjust="spacingAndGlyphs" transform="translate(653.7,115.6) rotate(90)">Angular Momentum Deficit (%)</text></svg></body></html>
